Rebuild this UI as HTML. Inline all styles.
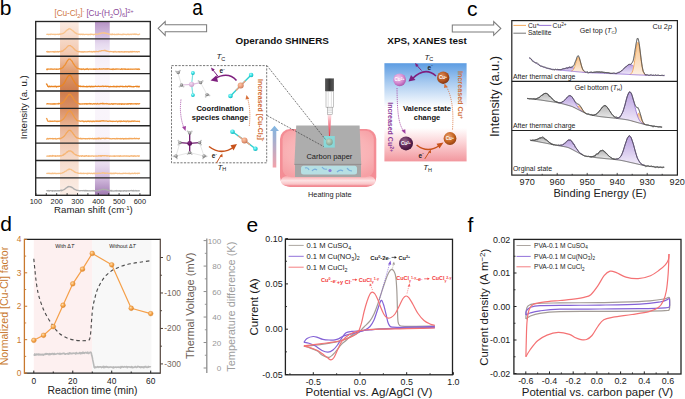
<!DOCTYPE html><html><head><meta charset="utf-8"><style>html,body{margin:0;padding:0;background:#fff;overflow:hidden}svg{display:block}text{font-family:"Liberation Sans",sans-serif}</style></head><body>
<svg width="685" height="399" viewBox="0 0 685 399">
<defs>
<linearGradient id="gOr" x1="0" y1="21.5" x2="0" y2="195.3" gradientUnits="userSpaceOnUse">
<stop offset="0" stop-color="#fbebe2"/><stop offset="0.2" stop-color="#f1c6ac"/><stop offset="0.3" stop-color="#df9767"/>
<stop offset="0.4" stop-color="#cf7c4c"/><stop offset="0.5" stop-color="#d98f64"/><stop offset="0.6" stop-color="#e9b393"/>
<stop offset="0.7" stop-color="#f1cab4"/><stop offset="0.8" stop-color="#f6dccd"/><stop offset="1" stop-color="#fbeee7"/></linearGradient>
<linearGradient id="gPu" x1="0" y1="21.5" x2="0" y2="195.3" gradientUnits="userSpaceOnUse">
<stop offset="0" stop-color="#b693c6"/><stop offset="0.1" stop-color="#dac8e5"/><stop offset="0.13" stop-color="#e6daef"/><stop offset="0.2" stop-color="#f5eef8"/>
<stop offset="0.3" stop-color="#faf6fc"/><stop offset="0.75" stop-color="#f8f3fa"/><stop offset="0.82" stop-color="#e9dcef"/>
<stop offset="0.9" stop-color="#d3bcde"/><stop offset="1" stop-color="#a07ab2"/></linearGradient>
<linearGradient id="gXps" x1="0" y1="63" x2="0" y2="161.4" gradientUnits="userSpaceOnUse">
<stop offset="0" stop-color="#5c9ce2"/><stop offset="0.2" stop-color="#a9cbf0"/><stop offset="0.45" stop-color="#ffffff"/>
<stop offset="0.66" stop-color="#ffffff"/><stop offset="0.82" stop-color="#fbd0d3"/><stop offset="1" stop-color="#f2979e"/></linearGradient>
<linearGradient id="gArr" x1="0" y1="126" x2="0" y2="168" gradientUnits="userSpaceOnUse">
<stop offset="0" stop-color="#7fb6e2"/><stop offset="1" stop-color="#f4a2aa"/></linearGradient>
<linearGradient id="gPlate" x1="0" y1="129" x2="0" y2="187" gradientUnits="userSpaceOnUse">
<stop offset="0" stop-color="#f8a0a4"/><stop offset="0.75" stop-color="#f7a7aa"/><stop offset="0.86" stop-color="#f18f94"/><stop offset="1" stop-color="#f5c9cb"/></linearGradient>
<linearGradient id="gLaser" x1="0" y1="115" x2="0" y2="137" gradientUnits="userSpaceOnUse">
<stop offset="0" stop-color="#fde0e4"/><stop offset="0.5" stop-color="#f47888"/><stop offset="1" stop-color="#e8303a"/></linearGradient>
<radialGradient id="gSpot" cx="0.4" cy="0.35" r="0.7"><stop offset="0" stop-color="#c8dcc8"/><stop offset="1" stop-color="#7e9c8c"/></radialGradient>
<linearGradient id="gProbe" x1="325" y1="0" x2="334" y2="0" gradientUnits="userSpaceOnUse">
<stop offset="0" stop-color="#6a6a6a"/><stop offset="0.5" stop-color="#383838"/><stop offset="1" stop-color="#6a6a6a"/></linearGradient>
<radialGradient id="gBall" cx="0.38" cy="0.35" r="0.7"><stop offset="0" stop-color="#ffe0b0"/><stop offset="0.5" stop-color="#f7a850"/><stop offset="1" stop-color="#d87d20"/></radialGradient>
<radialGradient id="sPink" cx="0.4" cy="0.35" r="0.7"><stop offset="0" stop-color="#f4d0f0"/><stop offset="0.6" stop-color="#d489d0"/><stop offset="1" stop-color="#a650a8"/></radialGradient>
<radialGradient id="sDark" cx="0.4" cy="0.35" r="0.7"><stop offset="0" stop-color="#9a6a8e"/><stop offset="0.6" stop-color="#5c2454"/><stop offset="1" stop-color="#3a1034"/></radialGradient>
<radialGradient id="sBrown" cx="0.4" cy="0.35" r="0.7"><stop offset="0" stop-color="#e0905a"/><stop offset="0.6" stop-color="#b0521e"/><stop offset="1" stop-color="#7a3010"/></radialGradient>
<radialGradient id="sOrange" cx="0.4" cy="0.35" r="0.7"><stop offset="0" stop-color="#eaa070"/><stop offset="0.6" stop-color="#c4621e"/><stop offset="1" stop-color="#8e3c10"/></radialGradient>
<radialGradient id="aTeal" cx="0.4" cy="0.35" r="0.7"><stop offset="0" stop-color="#a0ffff"/><stop offset="0.6" stop-color="#28d8dc"/><stop offset="1" stop-color="#10a8b0"/></radialGradient>
<radialGradient id="aCu" cx="0.4" cy="0.35" r="0.7"><stop offset="0" stop-color="#fcc8a8"/><stop offset="0.6" stop-color="#e89a78"/><stop offset="1" stop-color="#c07050"/></radialGradient>
<radialGradient id="aPinkC" cx="0.4" cy="0.35" r="0.7"><stop offset="0" stop-color="#f4dcf2"/><stop offset="1" stop-color="#c89ac8"/></radialGradient>
<radialGradient id="aDarkC" cx="0.4" cy="0.35" r="0.7"><stop offset="0" stop-color="#8a3088"/><stop offset="1" stop-color="#4a0048"/></radialGradient>
<radialGradient id="aGray" cx="0.4" cy="0.35" r="0.7"><stop offset="0" stop-color="#d0d0d0"/><stop offset="1" stop-color="#606060"/></radialGradient>
<linearGradient id="fPu" x1="0" y1="0" x2="0" y2="1"><stop offset="0" stop-color="#b9a0e0"/><stop offset="1" stop-color="#f4effb"/></linearGradient>
<linearGradient id="fOr" x1="0" y1="0" x2="0" y2="1"><stop offset="0" stop-color="#f7c48e"/><stop offset="1" stop-color="#fdf0e2"/></linearGradient>
<linearGradient id="fGr" x1="0" y1="0" x2="0" y2="1"><stop offset="0" stop-color="#b8b8b8"/><stop offset="1" stop-color="#ececec"/></linearGradient>
<linearGradient id="gEdge" x1="0" y1="176" x2="0" y2="186.2" gradientUnits="userSpaceOnUse">
<stop offset="0" stop-color="#f7a8ac"/><stop offset="0.45" stop-color="#fde2e3"/><stop offset="0.8" stop-color="#f9c3c6"/><stop offset="1" stop-color="#ee7c86"/></linearGradient>
<radialGradient id="gFace" cx="0.5" cy="0.45" r="0.65"><stop offset="0" stop-color="#fcc6c8"/><stop offset="0.7" stop-color="#f9b2b5"/><stop offset="1" stop-color="#f6a0a5"/></radialGradient>
</defs>
<rect width="685" height="399" fill="#fff"/>
<rect x="60.03" y="21.50" width="18.62" height="173.80" fill="url(#gOr)" stroke="none" stroke-width="1" />
<rect x="94.97" y="21.50" width="14.77" height="173.80" fill="url(#gPu)" stroke="none" stroke-width="1" />
<polyline points="46.30,34.33 46.61,34.47 46.92,34.34 47.24,34.32 47.55,34.21 47.86,34.34 48.17,34.58 48.48,34.46 48.80,34.57 49.11,34.42 49.42,34.45 49.73,34.41 50.04,34.08 50.36,34.53 50.67,34.47 50.98,34.47 51.29,34.08 51.60,34.07 51.92,34.22 52.23,34.30 52.54,34.43 52.85,34.37 53.16,34.47 53.48,34.26 53.79,34.44 54.10,34.45 54.41,34.26 54.72,34.69 55.04,34.48 55.35,34.59 55.66,34.27 55.97,34.24 56.28,34.31 56.60,34.35 56.91,34.48 57.22,34.41 57.53,34.28 57.84,34.19 58.16,34.26 58.47,34.56 58.78,34.18 59.09,34.36 59.40,34.37 59.72,34.00 60.03,34.25 60.34,34.44 60.65,33.79 60.96,34.04 61.28,34.02 61.59,33.81 61.90,33.95 62.21,33.75 62.52,33.37 62.84,33.64 63.15,33.46 63.46,33.33 63.77,33.22 64.08,32.81 64.40,32.54 64.71,32.03 65.02,32.11 65.33,31.61 65.64,31.35 65.96,30.91 66.27,30.67 66.58,30.46 66.89,30.51 67.20,29.64 67.52,29.49 67.83,29.57 68.14,29.59 68.45,29.26 68.76,28.69 69.08,28.49 69.39,28.95 69.70,28.75 70.01,28.72 70.32,29.17 70.64,29.31 70.95,29.30 71.26,29.50 71.57,29.75 71.88,30.21 72.20,30.29 72.51,30.56 72.82,30.85 73.13,30.76 73.44,31.57 73.76,31.80 74.07,32.00 74.38,31.82 74.69,32.32 75.00,32.82 75.32,32.57 75.63,33.06 75.94,33.46 76.25,33.21 76.56,33.88 76.88,33.82 77.19,33.80 77.50,33.99 77.81,34.13 78.12,34.10 78.44,34.34 78.75,34.07 79.06,34.15 79.37,34.45 79.68,34.29 80.00,34.15 80.31,34.49 80.62,34.60 80.93,34.27 81.24,34.11 81.56,34.34 81.87,34.34 82.18,34.32 82.49,34.63 82.80,34.19 83.12,34.60 83.43,34.15 83.74,34.24 84.05,34.49 84.36,34.58 84.68,34.53 84.99,34.44 85.30,34.41 85.61,34.41 85.92,34.48 86.24,34.35 86.55,34.43 86.86,34.48 87.17,34.38 87.48,34.52 87.80,34.48 88.11,34.74 88.42,34.44 88.73,34.30 89.04,34.31 89.36,34.38 89.67,34.55 89.98,34.32 90.29,34.45 90.60,34.71 90.92,33.92 91.23,34.18 91.54,34.42 91.85,34.45 92.16,34.42 92.48,34.30 92.79,34.50 93.10,34.43 93.41,34.28 93.72,34.81 94.04,34.44 94.35,34.27 94.66,34.35 94.97,34.32 95.28,34.34 95.60,33.85 95.91,34.24 96.22,34.49 96.53,34.08 96.84,34.25 97.16,34.40 97.47,34.35 97.78,34.42 98.09,33.79 98.40,33.97 98.72,33.90 99.03,34.00 99.34,34.00 99.65,33.23 99.96,33.81 100.28,33.25 100.59,33.53 100.90,33.04 101.21,33.24 101.52,33.32 101.84,32.99 102.15,32.98 102.46,33.02 102.77,32.85 103.08,32.78 103.40,33.06 103.71,32.97 104.02,32.75 104.33,33.34 104.64,32.69 104.96,33.13 105.27,33.00 105.58,33.16 105.89,33.37 106.20,33.38 106.52,33.56 106.83,33.27 107.14,33.38 107.45,33.85 107.76,33.66 108.08,33.73 108.39,33.72 108.70,34.28 109.01,34.25 109.32,34.43 109.64,34.04 109.95,34.24 110.26,34.07 110.57,34.43 110.88,34.60 111.20,34.17 111.51,34.62 111.82,34.53 112.13,34.33 112.44,34.01 112.76,34.62 113.07,34.36 113.38,34.27 113.69,34.45 114.00,34.45 114.32,34.65 114.63,34.20 114.94,34.58 115.25,34.65 115.56,34.64 115.88,34.35 116.19,34.25 116.50,34.56 116.81,34.40 117.12,34.40 117.44,34.64 117.75,34.33 118.06,33.97 118.37,34.31 118.68,34.05 119.00,34.53 119.31,34.44 119.62,34.27 119.93,34.38 120.24,34.53 120.56,34.39 120.87,34.62 121.18,34.37 121.49,34.57 121.80,34.65 122.12,34.67 122.43,34.26 122.74,34.54 123.05,34.04 123.36,34.18 123.68,34.03 123.99,34.57 124.30,34.16 124.61,34.38 124.92,34.35 125.24,34.37 125.55,34.27 125.86,34.42 126.17,34.70 126.48,34.39 126.80,34.48 127.11,34.56 127.42,34.34 127.73,34.15 128.04,34.28 128.36,34.57 128.67,34.08 128.98,34.27 129.29,34.56 129.60,34.52 129.92,34.38 130.23,34.52 130.54,34.41 130.85,34.17 131.16,34.10 131.48,34.26 131.79,34.55 132.10,34.28 132.41,34.22 132.72,34.24 133.04,34.10 133.35,34.36 133.66,34.17 133.97,34.45 134.28,33.96 134.60,34.44 134.91,34.26 135.22,34.03 135.53,34.51 135.84,34.33 136.16,33.98 136.47,34.22 136.78,34.43 137.09,34.30 137.40,34.52 137.72,34.51 138.03,34.50 138.34,34.44 138.65,34.62 138.96,34.50 139.28,34.46 139.59,34.00 139.90,34.54" fill="none" stroke="#f8c48e" stroke-width="1.25" stroke-linejoin="round" />
<polyline points="46.30,52.00 46.61,51.71 46.92,51.68 47.24,52.11 47.55,51.44 47.86,51.84 48.17,52.20 48.48,51.59 48.80,51.88 49.11,52.10 49.42,51.74 49.73,51.86 50.04,51.92 50.36,51.60 50.67,51.74 50.98,51.81 51.29,51.91 51.60,51.75 51.92,51.72 52.23,51.58 52.54,51.70 52.85,51.92 53.16,51.78 53.48,51.61 53.79,51.61 54.10,52.24 54.41,51.96 54.72,51.87 55.04,51.29 55.35,51.87 55.66,51.84 55.97,52.06 56.28,51.83 56.60,51.74 56.91,51.84 57.22,51.40 57.53,51.93 57.84,51.79 58.16,51.60 58.47,51.95 58.78,52.03 59.09,51.43 59.40,51.54 59.72,51.69 60.03,51.63 60.34,51.49 60.65,51.33 60.96,51.83 61.28,51.56 61.59,51.07 61.90,50.94 62.21,51.37 62.52,51.10 62.84,51.09 63.15,50.73 63.46,50.23 63.77,50.21 64.08,49.53 64.40,49.52 64.71,49.36 65.02,49.17 65.33,48.63 65.64,48.42 65.96,48.19 66.27,47.85 66.58,47.57 66.89,47.17 67.20,46.77 67.52,46.69 67.83,46.30 68.14,45.92 68.45,45.76 68.76,45.73 69.08,45.61 69.39,45.60 69.70,45.56 70.01,45.63 70.32,45.67 70.64,45.60 70.95,46.07 71.26,46.40 71.57,46.53 71.88,46.70 72.20,47.11 72.51,47.17 72.82,47.33 73.13,48.01 73.44,48.16 73.76,48.79 74.07,48.78 74.38,48.80 74.69,49.38 75.00,50.12 75.32,50.02 75.63,50.07 75.94,50.38 76.25,50.80 76.56,50.96 76.88,51.05 77.19,51.41 77.50,51.38 77.81,51.34 78.12,51.53 78.44,51.79 78.75,51.72 79.06,51.77 79.37,51.43 79.68,51.63 80.00,51.81 80.31,51.64 80.62,51.90 80.93,51.83 81.24,51.90 81.56,51.70 81.87,52.20 82.18,51.97 82.49,51.71 82.80,51.77 83.12,52.22 83.43,51.70 83.74,51.92 84.05,51.94 84.36,51.76 84.68,51.55 84.99,51.79 85.30,51.82 85.61,51.96 85.92,51.90 86.24,51.76 86.55,51.91 86.86,51.86 87.17,51.80 87.48,51.77 87.80,51.72 88.11,51.88 88.42,51.57 88.73,51.65 89.04,51.76 89.36,51.50 89.67,51.68 89.98,51.40 90.29,51.64 90.60,51.86 90.92,51.86 91.23,51.75 91.54,51.72 91.85,51.50 92.16,52.09 92.48,51.85 92.79,51.96 93.10,51.60 93.41,51.72 93.72,51.43 94.04,51.89 94.35,51.92 94.66,51.41 94.97,51.73 95.28,51.85 95.60,51.41 95.91,51.39 96.22,51.52 96.53,51.58 96.84,51.42 97.16,51.65 97.47,51.66 97.78,51.70 98.09,51.67 98.40,51.77 98.72,51.66 99.03,51.15 99.34,51.24 99.65,51.07 99.96,50.99 100.28,51.10 100.59,51.03 100.90,51.04 101.21,50.59 101.52,50.58 101.84,50.74 102.15,50.65 102.46,50.58 102.77,50.59 103.08,50.44 103.40,50.69 103.71,50.63 104.02,50.56 104.33,50.49 104.64,50.62 104.96,50.21 105.27,50.59 105.58,50.84 105.89,50.63 106.20,51.02 106.52,51.08 106.83,50.89 107.14,51.17 107.45,51.23 107.76,51.43 108.08,51.52 108.39,51.46 108.70,51.36 109.01,51.53 109.32,51.59 109.64,51.76 109.95,51.71 110.26,51.55 110.57,51.45 110.88,51.64 111.20,51.59 111.51,51.53 111.82,51.72 112.13,51.66 112.44,51.77 112.76,51.85 113.07,51.68 113.38,52.17 113.69,51.70 114.00,51.96 114.32,51.78 114.63,51.96 114.94,51.33 115.25,51.62 115.56,51.80 115.88,51.87 116.19,52.18 116.50,51.82 116.81,51.99 117.12,51.90 117.44,51.93 117.75,51.85 118.06,51.73 118.37,51.85 118.68,51.57 119.00,51.97 119.31,51.58 119.62,51.80 119.93,52.14 120.24,51.72 120.56,51.76 120.87,51.97 121.18,51.76 121.49,51.61 121.80,51.81 122.12,51.86 122.43,51.89 122.74,51.62 123.05,52.08 123.36,52.06 123.68,51.76 123.99,51.81 124.30,51.68 124.61,52.01 124.92,51.63 125.24,51.88 125.55,51.67 125.86,51.64 126.17,51.89 126.48,52.00 126.80,51.76 127.11,51.64 127.42,51.91 127.73,51.75 128.04,51.82 128.36,52.03 128.67,51.96 128.98,51.67 129.29,52.17 129.60,51.76 129.92,51.90 130.23,51.64 130.54,51.75 130.85,51.45 131.16,52.08 131.48,52.01 131.79,51.54 132.10,51.49 132.41,51.47 132.72,51.97 133.04,51.68 133.35,51.75 133.66,51.70 133.97,51.74 134.28,51.56 134.60,51.76 134.91,51.50 135.22,51.75 135.53,51.82 135.84,51.84 136.16,51.72 136.47,51.60 136.78,51.79 137.09,51.67 137.40,52.04 137.72,51.90 138.03,51.74 138.34,51.68 138.65,51.63 138.96,51.59 139.28,51.70 139.59,51.81 139.90,51.85" fill="none" stroke="#f6b474" stroke-width="1.25" stroke-linejoin="round" />
<polyline points="46.30,69.24 46.61,69.52 46.92,69.01 47.24,69.14 47.55,69.64 47.86,68.80 48.17,69.05 48.48,69.17 48.80,69.17 49.11,69.21 49.42,69.10 49.73,69.21 50.04,69.15 50.36,69.28 50.67,68.80 50.98,68.98 51.29,69.14 51.60,68.95 51.92,68.95 52.23,69.25 52.54,69.02 52.85,69.25 53.16,69.27 53.48,69.19 53.79,69.23 54.10,69.12 54.41,68.89 54.72,69.13 55.04,69.22 55.35,69.04 55.66,69.12 55.97,69.27 56.28,68.97 56.60,69.24 56.91,69.46 57.22,69.02 57.53,69.14 57.84,69.07 58.16,69.36 58.47,69.13 58.78,69.21 59.09,68.89 59.40,68.98 59.72,68.94 60.03,68.56 60.34,69.07 60.65,68.89 60.96,68.32 61.28,68.65 61.59,68.35 61.90,68.28 62.21,68.08 62.52,67.52 62.84,67.49 63.15,67.51 63.46,66.82 63.77,66.38 64.08,65.93 64.40,65.53 64.71,65.35 65.02,65.12 65.33,64.38 65.64,63.83 65.96,63.66 66.27,62.62 66.58,62.07 66.89,61.77 67.20,61.28 67.52,60.55 67.83,60.10 68.14,60.01 68.45,59.69 68.76,59.18 69.08,59.21 69.39,59.06 69.70,59.23 70.01,59.19 70.32,59.33 70.64,59.50 70.95,60.03 71.26,60.44 71.57,60.52 71.88,61.18 72.20,61.37 72.51,62.03 72.82,62.68 73.13,63.35 73.44,63.54 73.76,64.12 74.07,64.68 74.38,64.87 74.69,65.60 75.00,65.91 75.32,66.50 75.63,66.60 75.94,66.78 76.25,67.45 76.56,67.75 76.88,67.84 77.19,68.30 77.50,68.27 77.81,68.36 78.12,68.68 78.44,68.42 78.75,68.67 79.06,68.86 79.37,69.07 79.68,68.94 80.00,69.06 80.31,68.92 80.62,69.12 80.93,69.38 81.24,68.97 81.56,69.53 81.87,69.00 82.18,69.13 82.49,69.16 82.80,69.32 83.12,68.91 83.43,68.76 83.74,69.25 84.05,69.28 84.36,69.25 84.68,69.61 84.99,69.18 85.30,69.19 85.61,69.31 85.92,69.21 86.24,69.44 86.55,68.92 86.86,69.07 87.17,68.52 87.48,69.29 87.80,69.07 88.11,69.31 88.42,69.53 88.73,69.14 89.04,69.09 89.36,69.05 89.67,68.99 89.98,69.03 90.29,69.26 90.60,69.15 90.92,69.15 91.23,69.11 91.54,69.30 91.85,69.23 92.16,69.11 92.48,69.26 92.79,69.11 93.10,68.93 93.41,69.40 93.72,69.22 94.04,68.97 94.35,69.33 94.66,69.20 94.97,68.85 95.28,69.42 95.60,69.19 95.91,69.29 96.22,69.16 96.53,69.10 96.84,68.84 97.16,69.29 97.47,69.11 97.78,69.04 98.09,69.15 98.40,69.09 98.72,69.18 99.03,68.98 99.34,69.03 99.65,68.63 99.96,68.92 100.28,69.10 100.59,69.20 100.90,68.87 101.21,68.90 101.52,69.19 101.84,68.83 102.15,69.00 102.46,69.16 102.77,68.86 103.08,69.06 103.40,68.71 103.71,68.88 104.02,68.83 104.33,68.87 104.64,69.07 104.96,69.31 105.27,68.77 105.58,68.80 105.89,69.02 106.20,68.76 106.52,69.05 106.83,69.09 107.14,68.95 107.45,69.12 107.76,68.76 108.08,69.19 108.39,68.79 108.70,68.95 109.01,68.99 109.32,69.03 109.64,69.26 109.95,69.13 110.26,69.05 110.57,69.22 110.88,69.41 111.20,69.13 111.51,69.20 111.82,69.36 112.13,69.18 112.44,68.91 112.76,69.59 113.07,69.54 113.38,68.78 113.69,69.13 114.00,69.21 114.32,69.31 114.63,69.26 114.94,69.09 115.25,68.95 115.56,69.16 115.88,69.33 116.19,68.94 116.50,68.96 116.81,69.14 117.12,68.79 117.44,69.09 117.75,69.06 118.06,69.22 118.37,69.01 118.68,68.98 119.00,69.07 119.31,69.13 119.62,69.02 119.93,69.14 120.24,69.28 120.56,69.35 120.87,69.45 121.18,69.00 121.49,69.06 121.80,68.69 122.12,69.48 122.43,69.01 122.74,69.13 123.05,69.23 123.36,68.90 123.68,69.22 123.99,69.14 124.30,68.81 124.61,69.19 124.92,69.36 125.24,68.80 125.55,69.29 125.86,69.18 126.17,69.23 126.48,69.22 126.80,69.37 127.11,69.10 127.42,69.30 127.73,69.07 128.04,69.27 128.36,68.99 128.67,69.12 128.98,69.45 129.29,69.22 129.60,69.11 129.92,68.93 130.23,69.00 130.54,69.17 130.85,69.31 131.16,69.22 131.48,69.23 131.79,69.13 132.10,69.38 132.41,69.07 132.72,69.04 133.04,69.30 133.35,69.15 133.66,69.09 133.97,69.04 134.28,69.09 134.60,69.25 134.91,69.20 135.22,68.92 135.53,69.22 135.84,69.17 136.16,68.96 136.47,69.28 136.78,69.09 137.09,69.08 137.40,69.28 137.72,69.38 138.03,69.02 138.34,69.22 138.65,68.98 138.96,69.56 139.28,69.05 139.59,69.36 139.90,69.02" fill="none" stroke="#ee9236" stroke-width="1.25" stroke-linejoin="round" />
<polyline points="46.30,83.47 46.61,84.32 46.92,84.06 47.24,85.04 47.55,85.81 47.86,86.30 48.17,86.40 48.48,86.91 48.80,86.53 49.11,86.22 49.42,86.67 49.73,86.21 50.04,86.73 50.36,86.42 50.67,86.55 50.98,86.75 51.29,86.54 51.60,86.27 51.92,86.21 52.23,86.73 52.54,86.65 52.85,86.37 53.16,86.67 53.48,86.61 53.79,86.64 54.10,86.11 54.41,86.46 54.72,86.68 55.04,86.65 55.35,86.68 55.66,86.07 55.97,86.54 56.28,86.60 56.60,86.97 56.91,86.33 57.22,86.44 57.53,86.49 57.84,86.63 58.16,86.38 58.47,86.65 58.78,86.27 59.09,86.43 59.40,86.25 59.72,86.32 60.03,86.11 60.34,85.87 60.65,86.26 60.96,86.01 61.28,85.72 61.59,85.69 61.90,85.65 62.21,85.08 62.52,84.98 62.84,84.82 63.15,84.49 63.46,83.97 63.77,83.26 64.08,83.42 64.40,82.78 64.71,82.21 65.02,81.62 65.33,81.15 65.64,80.45 65.96,79.74 66.27,79.19 66.58,78.63 66.89,78.05 67.20,77.40 67.52,77.21 67.83,76.40 68.14,76.35 68.45,75.71 68.76,75.69 69.08,75.69 69.39,75.38 69.70,75.19 70.01,75.41 70.32,75.58 70.64,75.48 70.95,76.00 71.26,76.52 71.57,76.85 71.88,77.45 72.20,78.11 72.51,78.68 72.82,79.29 73.13,79.83 73.44,80.27 73.76,80.91 74.07,81.44 74.38,81.98 74.69,82.52 75.00,82.73 75.32,83.43 75.63,83.90 75.94,84.10 76.25,84.61 76.56,85.01 76.88,85.15 77.19,85.78 77.50,85.13 77.81,85.73 78.12,85.58 78.44,86.20 78.75,86.60 79.06,85.76 79.37,86.30 79.68,86.42 80.00,86.32 80.31,86.51 80.62,86.03 80.93,86.61 81.24,86.54 81.56,86.49 81.87,86.39 82.18,86.62 82.49,86.42 82.80,86.55 83.12,86.42 83.43,86.11 83.74,86.51 84.05,86.55 84.36,86.65 84.68,86.36 84.99,86.51 85.30,86.63 85.61,86.55 85.92,86.74 86.24,86.88 86.55,86.36 86.86,86.17 87.17,86.67 87.48,86.80 87.80,86.69 88.11,86.67 88.42,86.41 88.73,86.39 89.04,86.68 89.36,86.36 89.67,86.19 89.98,86.34 90.29,86.97 90.60,86.87 90.92,86.40 91.23,86.39 91.54,86.56 91.85,86.39 92.16,86.76 92.48,86.51 92.79,86.32 93.10,86.76 93.41,86.41 93.72,86.56 94.04,86.52 94.35,86.46 94.66,86.58 94.97,86.39 95.28,86.18 95.60,86.12 95.91,86.28 96.22,86.37 96.53,86.50 96.84,86.51 97.16,86.59 97.47,86.51 97.78,86.33 98.09,86.34 98.40,86.07 98.72,86.41 99.03,86.52 99.34,86.51 99.65,86.37 99.96,86.35 100.28,86.53 100.59,86.34 100.90,86.45 101.21,86.40 101.52,86.32 101.84,86.50 102.15,86.15 102.46,86.17 102.77,86.08 103.08,86.08 103.40,86.50 103.71,86.54 104.02,86.23 104.33,86.33 104.64,86.45 104.96,86.40 105.27,86.49 105.58,86.06 105.89,86.19 106.20,86.41 106.52,86.60 106.83,86.38 107.14,86.23 107.45,86.34 107.76,86.30 108.08,86.28 108.39,86.72 108.70,86.35 109.01,86.47 109.32,86.87 109.64,86.70 109.95,86.55 110.26,86.39 110.57,86.58 110.88,86.80 111.20,86.62 111.51,86.74 111.82,86.53 112.13,86.61 112.44,86.48 112.76,86.59 113.07,86.75 113.38,86.26 113.69,86.51 114.00,86.56 114.32,86.42 114.63,86.46 114.94,86.66 115.25,86.88 115.56,86.63 115.88,86.58 116.19,86.24 116.50,86.87 116.81,86.53 117.12,86.51 117.44,86.32 117.75,86.51 118.06,86.32 118.37,86.53 118.68,86.60 119.00,86.53 119.31,86.57 119.62,86.37 119.93,86.78 120.24,86.40 120.56,86.19 120.87,86.49 121.18,86.38 121.49,86.34 121.80,86.46 122.12,86.57 122.43,86.31 122.74,86.50 123.05,86.78 123.36,86.64 123.68,86.49 123.99,86.54 124.30,86.50 124.61,86.51 124.92,86.65 125.24,86.50 125.55,86.09 125.86,86.52 126.17,86.36 126.48,86.64 126.80,86.41 127.11,86.55 127.42,86.91 127.73,86.33 128.04,86.32 128.36,86.27 128.67,86.09 128.98,86.18 129.29,86.59 129.60,86.41 129.92,86.18 130.23,86.25 130.54,86.63 130.85,86.38 131.16,86.45 131.48,86.58 131.79,86.76 132.10,86.87 132.41,86.71 132.72,86.55 133.04,86.55 133.35,86.84 133.66,86.78 133.97,86.46 134.28,86.60 134.60,86.57 134.91,86.53 135.22,86.43 135.53,86.28 135.84,86.42 136.16,86.24 136.47,86.74 136.78,86.62 137.09,86.30 137.40,86.77 137.72,86.68 138.03,86.18 138.34,86.85 138.65,86.67 138.96,86.89 139.28,86.30 139.59,86.62 139.90,86.60" fill="none" stroke="#e98524" stroke-width="1.25" stroke-linejoin="round" />
<polyline points="46.30,103.94 46.61,103.93 46.92,104.09 47.24,103.63 47.55,103.68 47.86,103.65 48.17,103.80 48.48,103.79 48.80,103.97 49.11,103.95 49.42,103.91 49.73,103.78 50.04,103.82 50.36,104.07 50.67,104.04 50.98,103.92 51.29,103.84 51.60,104.18 51.92,103.79 52.23,104.02 52.54,104.11 52.85,103.85 53.16,104.05 53.48,103.70 53.79,104.08 54.10,103.94 54.41,103.61 54.72,104.02 55.04,103.74 55.35,104.13 55.66,103.77 55.97,103.86 56.28,103.94 56.60,103.83 56.91,103.93 57.22,103.78 57.53,103.99 57.84,103.86 58.16,103.89 58.47,103.34 58.78,104.02 59.09,103.79 59.40,103.43 59.72,103.73 60.03,103.74 60.34,103.78 60.65,103.32 60.96,103.70 61.28,103.27 61.59,103.60 61.90,102.98 62.21,102.95 62.52,102.55 62.84,102.17 63.15,102.30 63.46,101.96 63.77,101.73 64.08,101.24 64.40,100.57 64.71,99.95 65.02,99.67 65.33,99.19 65.64,98.67 65.96,98.41 66.27,97.86 66.58,97.25 66.89,96.84 67.20,96.32 67.52,95.95 67.83,95.65 68.14,95.34 68.45,94.76 68.76,94.39 69.08,94.76 69.39,94.44 69.70,94.60 70.01,94.17 70.32,94.54 70.64,94.81 70.95,94.81 71.26,95.30 71.57,95.90 71.88,96.39 72.20,96.94 72.51,96.98 72.82,97.38 73.13,98.23 73.44,98.81 73.76,99.18 74.07,99.40 74.38,100.24 74.69,100.68 75.00,101.05 75.32,101.24 75.63,101.74 75.94,102.14 76.25,102.18 76.56,102.21 76.88,102.82 77.19,103.04 77.50,103.12 77.81,103.42 78.12,103.28 78.44,103.47 78.75,103.51 79.06,103.74 79.37,103.98 79.68,103.69 80.00,104.14 80.31,104.08 80.62,103.97 80.93,103.95 81.24,104.18 81.56,103.84 81.87,103.86 82.18,103.69 82.49,103.97 82.80,104.13 83.12,103.99 83.43,103.97 83.74,103.86 84.05,103.93 84.36,103.64 84.68,104.09 84.99,103.83 85.30,103.70 85.61,103.76 85.92,103.75 86.24,104.05 86.55,104.09 86.86,103.66 87.17,104.07 87.48,104.06 87.80,103.80 88.11,103.63 88.42,103.77 88.73,103.79 89.04,103.96 89.36,103.84 89.67,103.53 89.98,103.94 90.29,103.62 90.60,104.06 90.92,103.68 91.23,103.78 91.54,103.75 91.85,103.80 92.16,104.13 92.48,104.05 92.79,104.01 93.10,103.96 93.41,103.62 93.72,103.81 94.04,103.80 94.35,103.72 94.66,103.99 94.97,103.76 95.28,103.77 95.60,103.70 95.91,103.52 96.22,103.99 96.53,104.12 96.84,103.91 97.16,103.70 97.47,103.38 97.78,103.89 98.09,104.07 98.40,103.89 98.72,103.99 99.03,104.07 99.34,103.99 99.65,103.70 99.96,103.95 100.28,103.88 100.59,103.44 100.90,103.63 101.21,103.42 101.52,103.64 101.84,103.75 102.15,103.44 102.46,103.25 102.77,103.84 103.08,103.67 103.40,103.86 103.71,103.36 104.02,103.80 104.33,103.99 104.64,103.98 104.96,103.60 105.27,103.70 105.58,103.64 105.89,103.87 106.20,103.89 106.52,103.74 106.83,103.50 107.14,103.90 107.45,103.70 107.76,103.91 108.08,103.86 108.39,104.12 108.70,104.04 109.01,103.77 109.32,103.92 109.64,104.18 109.95,103.78 110.26,103.96 110.57,104.10 110.88,104.11 111.20,103.98 111.51,103.66 111.82,103.67 112.13,103.94 112.44,103.97 112.76,104.36 113.07,103.74 113.38,104.10 113.69,104.04 114.00,103.60 114.32,103.75 114.63,103.93 114.94,103.81 115.25,103.87 115.56,103.98 115.88,103.75 116.19,103.98 116.50,103.79 116.81,103.80 117.12,104.00 117.44,103.80 117.75,103.95 118.06,104.19 118.37,103.90 118.68,103.87 119.00,104.03 119.31,103.83 119.62,104.09 119.93,103.67 120.24,104.01 120.56,103.81 120.87,103.76 121.18,104.22 121.49,103.75 121.80,104.22 122.12,104.02 122.43,104.16 122.74,103.72 123.05,104.12 123.36,104.16 123.68,103.88 123.99,103.88 124.30,104.34 124.61,103.93 124.92,103.82 125.24,103.79 125.55,103.98 125.86,103.96 126.17,103.93 126.48,104.21 126.80,103.84 127.11,103.99 127.42,104.16 127.73,103.72 128.04,104.09 128.36,104.23 128.67,103.66 128.98,103.70 129.29,103.71 129.60,103.57 129.92,103.98 130.23,103.57 130.54,103.99 130.85,104.16 131.16,103.61 131.48,103.84 131.79,103.55 132.10,104.04 132.41,103.77 132.72,103.85 133.04,103.91 133.35,104.00 133.66,103.84 133.97,103.90 134.28,103.80 134.60,103.92 134.91,103.69 135.22,103.91 135.53,103.55 135.84,103.81 136.16,104.24 136.47,103.91 136.78,103.67 137.09,103.95 137.40,103.72 137.72,103.60 138.03,103.77 138.34,104.03 138.65,103.97 138.96,103.88 139.28,103.73 139.59,103.71 139.90,104.14" fill="none" stroke="#ee9034" stroke-width="1.25" stroke-linejoin="round" />
<polyline points="46.30,118.12 46.61,118.51 46.92,118.90 47.24,119.63 47.55,120.93 47.86,120.87 48.17,121.27 48.48,121.32 48.80,121.25 49.11,121.23 49.42,121.03 49.73,121.09 50.04,121.58 50.36,121.14 50.67,121.43 50.98,120.98 51.29,121.23 51.60,121.33 51.92,121.47 52.23,121.08 52.54,121.39 52.85,121.35 53.16,121.15 53.48,121.37 53.79,121.12 54.10,121.14 54.41,121.28 54.72,120.79 55.04,121.26 55.35,121.10 55.66,121.01 55.97,121.20 56.28,121.41 56.60,121.20 56.91,121.49 57.22,121.05 57.53,121.01 57.84,121.52 58.16,121.30 58.47,121.38 58.78,121.04 59.09,121.30 59.40,121.17 59.72,121.19 60.03,121.02 60.34,121.16 60.65,120.74 60.96,120.58 61.28,120.37 61.59,120.70 61.90,120.18 62.21,119.93 62.52,119.72 62.84,119.54 63.15,119.10 63.46,118.94 63.77,118.51 64.08,118.12 64.40,117.61 64.71,117.32 65.02,116.74 65.33,116.32 65.64,115.81 65.96,115.28 66.27,114.27 66.58,114.02 66.89,113.45 67.20,113.23 67.52,112.33 67.83,112.06 68.14,111.76 68.45,111.44 68.76,111.44 69.08,111.01 69.39,111.17 69.70,110.72 70.01,110.72 70.32,111.42 70.64,111.49 70.95,111.79 71.26,112.08 71.57,112.56 71.88,112.71 72.20,113.59 72.51,113.85 72.82,114.66 73.13,115.05 73.44,115.23 73.76,115.89 74.07,116.85 74.38,117.13 74.69,117.56 75.00,118.13 75.32,118.42 75.63,118.78 75.94,119.24 76.25,119.55 76.56,120.08 76.88,120.05 77.19,120.59 77.50,120.76 77.81,120.90 78.12,120.91 78.44,120.85 78.75,120.94 79.06,120.97 79.37,120.92 79.68,121.09 80.00,121.03 80.31,121.47 80.62,121.30 80.93,121.14 81.24,120.89 81.56,121.24 81.87,121.18 82.18,121.07 82.49,121.06 82.80,120.87 83.12,121.38 83.43,121.26 83.74,121.74 84.05,121.27 84.36,121.25 84.68,121.54 84.99,121.30 85.30,121.31 85.61,121.21 85.92,121.17 86.24,121.55 86.55,121.46 86.86,121.59 87.17,121.22 87.48,121.29 87.80,121.12 88.11,121.45 88.42,121.03 88.73,121.38 89.04,121.48 89.36,121.53 89.67,121.11 89.98,121.48 90.29,121.15 90.60,121.14 90.92,121.04 91.23,121.49 91.54,121.58 91.85,121.17 92.16,121.14 92.48,121.22 92.79,121.73 93.10,121.46 93.41,121.18 93.72,120.96 94.04,121.16 94.35,121.49 94.66,121.61 94.97,121.23 95.28,121.15 95.60,121.18 95.91,120.93 96.22,121.43 96.53,121.07 96.84,121.45 97.16,120.94 97.47,121.02 97.78,121.29 98.09,121.09 98.40,121.36 98.72,121.20 99.03,120.98 99.34,121.28 99.65,121.31 99.96,120.79 100.28,121.45 100.59,121.19 100.90,121.22 101.21,120.72 101.52,120.91 101.84,120.96 102.15,121.20 102.46,120.74 102.77,120.83 103.08,120.62 103.40,120.94 103.71,121.04 104.02,120.68 104.33,120.89 104.64,121.09 104.96,121.30 105.27,121.15 105.58,120.99 105.89,120.85 106.20,120.92 106.52,120.98 106.83,121.15 107.14,121.13 107.45,121.46 107.76,121.23 108.08,121.00 108.39,121.48 108.70,121.39 109.01,121.25 109.32,121.11 109.64,120.91 109.95,121.07 110.26,121.42 110.57,121.12 110.88,121.03 111.20,121.31 111.51,121.32 111.82,121.38 112.13,121.39 112.44,121.53 112.76,121.13 113.07,121.45 113.38,121.10 113.69,121.40 114.00,121.31 114.32,121.32 114.63,121.45 114.94,121.28 115.25,121.48 115.56,121.44 115.88,121.30 116.19,121.18 116.50,121.14 116.81,121.19 117.12,121.24 117.44,121.28 117.75,121.82 118.06,121.39 118.37,121.42 118.68,121.13 119.00,121.15 119.31,121.22 119.62,121.31 119.93,121.09 120.24,121.57 120.56,121.18 120.87,121.47 121.18,120.86 121.49,121.28 121.80,121.33 122.12,121.31 122.43,121.39 122.74,121.33 123.05,121.31 123.36,120.94 123.68,121.15 123.99,120.86 124.30,121.39 124.61,121.34 124.92,121.24 125.24,121.13 125.55,121.18 125.86,121.61 126.17,121.59 126.48,121.27 126.80,121.51 127.11,120.99 127.42,120.93 127.73,121.19 128.04,121.12 128.36,121.18 128.67,121.31 128.98,121.82 129.29,121.16 129.60,121.29 129.92,121.33 130.23,121.27 130.54,121.45 130.85,121.60 131.16,121.06 131.48,121.31 131.79,121.23 132.10,121.34 132.41,121.00 132.72,120.96 133.04,120.86 133.35,121.37 133.66,121.31 133.97,121.29 134.28,120.85 134.60,121.21 134.91,121.14 135.22,121.03 135.53,121.12 135.84,121.41 136.16,121.38 136.47,121.28 136.78,121.37 137.09,121.17 137.40,121.29 137.72,121.29 138.03,121.38 138.34,121.27 138.65,121.25 138.96,121.26 139.28,121.16 139.59,121.68 139.90,121.37" fill="none" stroke="#f09a44" stroke-width="1.25" stroke-linejoin="round" />
<polyline points="46.30,138.74 46.61,139.07 46.92,138.91 47.24,138.38 47.55,138.79 47.86,138.81 48.17,139.00 48.48,138.90 48.80,138.80 49.11,138.45 49.42,138.50 49.73,138.71 50.04,138.75 50.36,138.48 50.67,138.59 50.98,138.59 51.29,138.67 51.60,138.72 51.92,138.61 52.23,138.44 52.54,138.88 52.85,138.95 53.16,138.64 53.48,138.84 53.79,138.74 54.10,138.78 54.41,138.75 54.72,138.52 55.04,138.76 55.35,138.84 55.66,138.50 55.97,139.01 56.28,139.03 56.60,138.98 56.91,139.00 57.22,138.78 57.53,138.57 57.84,138.52 58.16,138.47 58.47,138.62 58.78,138.58 59.09,138.68 59.40,138.17 59.72,138.91 60.03,138.86 60.34,138.39 60.65,138.44 60.96,138.32 61.28,138.19 61.59,137.98 61.90,137.86 62.21,137.57 62.52,137.57 62.84,137.32 63.15,137.14 63.46,136.66 63.77,136.53 64.08,136.21 64.40,135.95 64.71,135.28 65.02,135.14 65.33,134.83 65.64,134.32 65.96,133.71 66.27,133.24 66.58,132.85 66.89,132.60 67.20,132.34 67.52,131.65 67.83,131.22 68.14,131.10 68.45,130.82 68.76,130.42 69.08,130.32 69.39,130.36 69.70,130.48 70.01,130.20 70.32,130.35 70.64,130.80 70.95,130.72 71.26,131.25 71.57,131.62 71.88,131.91 72.20,132.14 72.51,132.74 72.82,133.12 73.13,133.69 73.44,133.92 73.76,134.70 74.07,134.63 74.38,135.30 74.69,135.72 75.00,136.26 75.32,136.31 75.63,136.82 75.94,136.90 76.25,137.38 76.56,137.78 76.88,137.59 77.19,137.91 77.50,137.81 77.81,138.28 78.12,138.43 78.44,138.30 78.75,138.16 79.06,138.50 79.37,138.69 79.68,138.71 80.00,138.70 80.31,138.25 80.62,138.47 80.93,138.87 81.24,138.40 81.56,138.84 81.87,138.98 82.18,138.78 82.49,138.85 82.80,138.59 83.12,138.43 83.43,138.64 83.74,138.62 84.05,138.65 84.36,138.78 84.68,138.63 84.99,138.69 85.30,138.74 85.61,138.66 85.92,138.99 86.24,138.74 86.55,138.68 86.86,138.62 87.17,138.55 87.48,138.90 87.80,138.69 88.11,138.47 88.42,138.56 88.73,138.64 89.04,138.58 89.36,138.86 89.67,138.45 89.98,138.75 90.29,138.69 90.60,138.45 90.92,138.67 91.23,138.64 91.54,138.75 91.85,138.58 92.16,138.71 92.48,138.36 92.79,138.46 93.10,138.80 93.41,138.85 93.72,138.66 94.04,138.55 94.35,138.85 94.66,138.28 94.97,138.51 95.28,138.78 95.60,138.77 95.91,138.46 96.22,138.31 96.53,138.90 96.84,138.67 97.16,138.47 97.47,138.63 97.78,138.78 98.09,138.14 98.40,138.79 98.72,138.72 99.03,138.19 99.34,138.69 99.65,138.21 99.96,138.72 100.28,138.57 100.59,138.88 100.90,138.35 101.21,138.44 101.52,138.61 101.84,138.29 102.15,138.26 102.46,138.31 102.77,138.36 103.08,138.17 103.40,138.45 103.71,138.46 104.02,138.38 104.33,138.68 104.64,138.32 104.96,138.63 105.27,138.31 105.58,138.56 105.89,138.10 106.20,138.50 106.52,138.45 106.83,138.41 107.14,138.41 107.45,138.48 107.76,138.43 108.08,138.18 108.39,138.48 108.70,138.50 109.01,138.52 109.32,138.43 109.64,138.60 109.95,138.78 110.26,138.59 110.57,138.56 110.88,138.89 111.20,138.83 111.51,138.82 111.82,138.86 112.13,138.60 112.44,138.63 112.76,138.86 113.07,138.56 113.38,138.64 113.69,138.73 114.00,138.73 114.32,138.61 114.63,138.84 114.94,138.63 115.25,138.79 115.56,138.85 115.88,138.78 116.19,138.79 116.50,138.45 116.81,138.42 117.12,138.55 117.44,138.75 117.75,138.93 118.06,138.44 118.37,138.72 118.68,138.51 119.00,138.53 119.31,138.61 119.62,138.78 119.93,138.70 120.24,138.87 120.56,138.48 120.87,138.82 121.18,138.83 121.49,138.67 121.80,138.75 122.12,138.56 122.43,138.46 122.74,138.59 123.05,138.54 123.36,139.18 123.68,138.57 123.99,138.96 124.30,138.70 124.61,138.72 124.92,138.79 125.24,138.52 125.55,138.82 125.86,138.73 126.17,138.39 126.48,138.77 126.80,138.76 127.11,138.74 127.42,138.95 127.73,138.59 128.04,138.75 128.36,138.79 128.67,138.50 128.98,138.88 129.29,138.40 129.60,138.43 129.92,138.75 130.23,138.46 130.54,138.64 130.85,138.36 131.16,138.67 131.48,138.46 131.79,138.72 132.10,138.38 132.41,138.74 132.72,138.61 133.04,138.67 133.35,138.65 133.66,138.68 133.97,138.42 134.28,138.20 134.60,138.67 134.91,138.49 135.22,138.58 135.53,138.74 135.84,138.30 136.16,138.52 136.47,138.55 136.78,138.47 137.09,138.72 137.40,138.63 137.72,138.51 138.03,138.48 138.34,138.81 138.65,138.54 138.96,138.77 139.28,138.74 139.59,138.32 139.90,138.46" fill="none" stroke="#f3a85c" stroke-width="1.25" stroke-linejoin="round" />
<polyline points="46.30,156.04 46.61,156.10 46.92,156.18 47.24,156.18 47.55,156.23 47.86,155.97 48.17,156.00 48.48,156.18 48.80,155.96 49.11,156.23 49.42,155.75 49.73,156.16 50.04,156.01 50.36,155.69 50.67,156.22 50.98,156.10 51.29,156.04 51.60,155.85 51.92,155.96 52.23,156.31 52.54,155.89 52.85,155.42 53.16,155.89 53.48,155.82 53.79,156.02 54.10,155.97 54.41,155.88 54.72,155.89 55.04,156.23 55.35,155.78 55.66,156.39 55.97,155.94 56.28,155.84 56.60,156.18 56.91,156.13 57.22,155.84 57.53,156.16 57.84,155.69 58.16,155.85 58.47,156.21 58.78,155.95 59.09,155.74 59.40,156.05 59.72,156.10 60.03,155.90 60.34,155.55 60.65,155.77 60.96,155.85 61.28,155.85 61.59,155.97 61.90,155.51 62.21,155.37 62.52,155.33 62.84,155.42 63.15,154.88 63.46,155.12 63.77,154.21 64.08,154.64 64.40,154.15 64.71,154.12 65.02,153.91 65.33,153.31 65.64,153.24 65.96,153.02 66.27,152.81 66.58,152.26 66.89,151.98 67.20,151.56 67.52,152.12 67.83,151.42 68.14,151.22 68.45,150.84 68.76,151.15 69.08,150.80 69.39,151.11 69.70,151.00 70.01,150.88 70.32,151.08 70.64,150.86 70.95,151.15 71.26,151.28 71.57,151.36 71.88,151.83 72.20,152.05 72.51,152.59 72.82,152.00 73.13,152.77 73.44,153.00 73.76,153.35 74.07,153.78 74.38,154.03 74.69,154.20 75.00,154.34 75.32,154.72 75.63,154.89 75.94,154.67 76.25,155.11 76.56,155.05 76.88,155.20 77.19,155.55 77.50,155.62 77.81,155.71 78.12,155.60 78.44,155.78 78.75,155.69 79.06,155.96 79.37,156.05 79.68,156.27 80.00,156.20 80.31,155.84 80.62,155.92 80.93,155.84 81.24,156.07 81.56,156.38 81.87,156.15 82.18,155.63 82.49,155.81 82.80,155.80 83.12,156.13 83.43,156.04 83.74,156.09 84.05,156.36 84.36,155.89 84.68,155.89 84.99,156.39 85.30,156.10 85.61,155.90 85.92,155.67 86.24,155.77 86.55,155.60 86.86,156.05 87.17,156.05 87.48,156.22 87.80,156.01 88.11,155.92 88.42,155.91 88.73,156.38 89.04,155.72 89.36,156.07 89.67,156.04 89.98,156.15 90.29,155.97 90.60,156.13 90.92,156.19 91.23,156.01 91.54,155.96 91.85,156.01 92.16,155.87 92.48,156.00 92.79,155.99 93.10,156.08 93.41,156.28 93.72,156.27 94.04,155.96 94.35,156.15 94.66,156.09 94.97,156.17 95.28,156.04 95.60,156.08 95.91,155.95 96.22,155.89 96.53,156.18 96.84,156.25 97.16,156.13 97.47,156.08 97.78,156.04 98.09,155.91 98.40,155.65 98.72,156.08 99.03,155.98 99.34,155.83 99.65,155.74 99.96,156.13 100.28,155.55 100.59,156.18 100.90,155.95 101.21,156.25 101.52,155.67 101.84,155.78 102.15,155.68 102.46,155.79 102.77,155.71 103.08,155.61 103.40,155.93 103.71,155.60 104.02,155.65 104.33,155.85 104.64,155.67 104.96,155.70 105.27,155.85 105.58,155.74 105.89,155.60 106.20,155.83 106.52,155.82 106.83,156.19 107.14,155.71 107.45,156.10 107.76,155.80 108.08,155.89 108.39,155.91 108.70,156.03 109.01,156.15 109.32,156.31 109.64,155.89 109.95,156.25 110.26,156.20 110.57,156.17 110.88,155.89 111.20,156.19 111.51,156.01 111.82,156.10 112.13,155.99 112.44,156.16 112.76,156.24 113.07,156.24 113.38,156.00 113.69,156.22 114.00,156.30 114.32,155.87 114.63,156.30 114.94,155.80 115.25,156.14 115.56,156.15 115.88,156.31 116.19,156.09 116.50,155.95 116.81,155.90 117.12,155.81 117.44,156.18 117.75,156.00 118.06,155.91 118.37,156.14 118.68,155.90 119.00,155.96 119.31,155.96 119.62,156.34 119.93,156.30 120.24,156.01 120.56,155.76 120.87,156.09 121.18,156.05 121.49,156.10 121.80,156.14 122.12,155.98 122.43,156.21 122.74,156.19 123.05,156.08 123.36,155.97 123.68,155.95 123.99,156.16 124.30,155.84 124.61,156.01 124.92,155.91 125.24,155.79 125.55,156.15 125.86,156.04 126.17,156.05 126.48,156.20 126.80,155.77 127.11,156.03 127.42,156.09 127.73,156.19 128.04,155.84 128.36,156.17 128.67,156.08 128.98,156.28 129.29,156.24 129.60,156.14 129.92,156.43 130.23,156.04 130.54,155.96 130.85,155.98 131.16,155.87 131.48,156.03 131.79,155.70 132.10,156.02 132.41,156.12 132.72,156.22 133.04,155.98 133.35,156.29 133.66,155.92 133.97,156.02 134.28,155.70 134.60,155.90 134.91,155.90 135.22,156.30 135.53,156.13 135.84,155.85 136.16,156.13 136.47,156.12 136.78,156.00 137.09,156.04 137.40,155.99 137.72,155.94 138.03,155.73 138.34,156.02 138.65,156.27 138.96,156.29 139.28,155.99 139.59,155.91 139.90,156.00" fill="none" stroke="#f6b676" stroke-width="1.25" stroke-linejoin="round" />
<polyline points="46.30,173.58 46.61,173.48 46.92,173.32 47.24,173.48 47.55,173.38 47.86,173.51 48.17,173.35 48.48,173.16 48.80,173.43 49.11,173.55 49.42,173.23 49.73,173.40 50.04,173.57 50.36,173.35 50.67,173.31 50.98,173.78 51.29,173.57 51.60,173.60 51.92,173.25 52.23,173.71 52.54,173.13 52.85,173.33 53.16,173.55 53.48,173.65 53.79,173.26 54.10,173.30 54.41,173.45 54.72,173.08 55.04,173.53 55.35,173.52 55.66,173.34 55.97,173.51 56.28,173.55 56.60,173.47 56.91,173.50 57.22,173.68 57.53,173.32 57.84,173.43 58.16,173.31 58.47,173.57 58.78,173.31 59.09,173.45 59.40,173.38 59.72,173.35 60.03,173.61 60.34,173.27 60.65,173.50 60.96,173.35 61.28,173.39 61.59,173.07 61.90,173.19 62.21,173.08 62.52,172.74 62.84,172.79 63.15,172.60 63.46,172.48 63.77,172.56 64.08,172.05 64.40,171.70 64.71,171.50 65.02,171.52 65.33,171.28 65.64,171.17 65.96,171.05 66.27,171.03 66.58,170.55 66.89,170.37 67.20,169.95 67.52,169.99 67.83,169.95 68.14,169.79 68.45,169.09 68.76,169.49 69.08,169.54 69.39,169.37 69.70,168.96 70.01,169.20 70.32,169.41 70.64,169.47 70.95,169.38 71.26,169.51 71.57,169.99 71.88,169.78 72.20,170.46 72.51,170.43 72.82,170.70 73.13,170.64 73.44,170.99 73.76,171.44 74.07,171.28 74.38,172.10 74.69,171.69 75.00,171.90 75.32,172.29 75.63,172.52 75.94,172.71 76.25,172.64 76.56,172.78 76.88,172.87 77.19,172.90 77.50,172.63 77.81,173.30 78.12,173.23 78.44,173.26 78.75,173.16 79.06,173.35 79.37,173.33 79.68,173.33 80.00,173.56 80.31,173.08 80.62,173.43 80.93,173.21 81.24,173.35 81.56,173.67 81.87,173.22 82.18,173.40 82.49,173.31 82.80,173.58 83.12,173.25 83.43,173.13 83.74,173.51 84.05,173.36 84.36,173.36 84.68,173.61 84.99,173.27 85.30,173.36 85.61,173.45 85.92,173.49 86.24,173.33 86.55,173.60 86.86,173.81 87.17,173.35 87.48,173.74 87.80,173.06 88.11,173.66 88.42,173.36 88.73,173.44 89.04,173.36 89.36,173.31 89.67,173.20 89.98,173.35 90.29,173.64 90.60,173.62 90.92,173.36 91.23,173.33 91.54,173.30 91.85,173.21 92.16,173.73 92.48,173.53 92.79,173.44 93.10,173.33 93.41,173.24 93.72,173.65 94.04,173.55 94.35,173.25 94.66,173.59 94.97,173.22 95.28,173.52 95.60,173.24 95.91,173.33 96.22,173.49 96.53,173.47 96.84,173.57 97.16,173.24 97.47,173.65 97.78,173.59 98.09,173.35 98.40,173.41 98.72,173.18 99.03,173.27 99.34,173.05 99.65,173.27 99.96,173.26 100.28,173.44 100.59,173.34 100.90,173.29 101.21,173.06 101.52,173.06 101.84,173.02 102.15,173.10 102.46,172.71 102.77,173.17 103.08,172.75 103.40,172.93 103.71,173.02 104.02,172.94 104.33,173.32 104.64,173.03 104.96,173.34 105.27,173.29 105.58,173.02 105.89,173.20 106.20,173.38 106.52,173.13 106.83,173.23 107.14,173.14 107.45,173.27 107.76,173.22 108.08,173.32 108.39,173.50 108.70,173.58 109.01,173.38 109.32,173.40 109.64,173.52 109.95,173.34 110.26,173.21 110.57,173.59 110.88,173.24 111.20,173.57 111.51,173.24 111.82,173.73 112.13,173.23 112.44,173.56 112.76,173.68 113.07,173.25 113.38,173.68 113.69,173.28 114.00,173.11 114.32,173.54 114.63,173.54 114.94,173.38 115.25,172.98 115.56,173.41 115.88,173.37 116.19,173.35 116.50,173.37 116.81,173.11 117.12,173.32 117.44,173.73 117.75,173.69 118.06,173.36 118.37,173.30 118.68,173.49 119.00,173.60 119.31,173.54 119.62,173.22 119.93,173.45 120.24,173.44 120.56,173.67 120.87,173.63 121.18,173.51 121.49,173.63 121.80,173.35 122.12,173.69 122.43,173.35 122.74,173.49 123.05,173.58 123.36,173.26 123.68,173.30 123.99,173.12 124.30,173.45 124.61,173.41 124.92,173.36 125.24,173.51 125.55,173.05 125.86,173.42 126.17,173.44 126.48,173.37 126.80,173.56 127.11,173.72 127.42,173.34 127.73,173.26 128.04,173.32 128.36,173.44 128.67,173.52 128.98,173.27 129.29,173.59 129.60,173.24 129.92,173.56 130.23,173.49 130.54,173.50 130.85,173.79 131.16,173.37 131.48,173.39 131.79,173.50 132.10,173.57 132.41,173.19 132.72,173.47 133.04,173.29 133.35,173.53 133.66,173.66 133.97,173.43 134.28,173.40 134.60,173.45 134.91,172.91 135.22,173.55 135.53,173.52 135.84,173.45 136.16,173.35 136.47,173.29 136.78,173.39 137.09,173.63 137.40,173.40 137.72,173.65 138.03,172.98 138.34,173.34 138.65,173.47 138.96,173.42 139.28,173.13 139.59,173.31 139.90,173.64" fill="none" stroke="#f8c28a" stroke-width="1.25" stroke-linejoin="round" />
<polyline points="46.30,190.58 46.61,190.63 46.92,190.61 47.24,190.70 47.55,190.91 47.86,190.90 48.17,190.45 48.48,191.05 48.80,190.70 49.11,190.70 49.42,191.09 49.73,190.79 50.04,190.59 50.36,190.69 50.67,190.67 50.98,190.63 51.29,190.74 51.60,190.95 51.92,190.86 52.23,190.56 52.54,191.28 52.85,190.63 53.16,190.82 53.48,190.81 53.79,190.93 54.10,190.74 54.41,190.88 54.72,191.16 55.04,190.82 55.35,190.61 55.66,190.85 55.97,190.66 56.28,190.73 56.60,190.83 56.91,190.85 57.22,190.74 57.53,190.93 57.84,190.75 58.16,190.55 58.47,190.92 58.78,190.70 59.09,190.96 59.40,190.62 59.72,190.81 60.03,190.75 60.34,190.20 60.65,190.37 60.96,190.39 61.28,190.78 61.59,190.15 61.90,190.56 62.21,190.51 62.52,190.32 62.84,190.24 63.15,189.92 63.46,189.87 63.77,189.76 64.08,189.63 64.40,189.50 64.71,189.15 65.02,188.86 65.33,188.67 65.64,188.62 65.96,188.04 66.27,187.89 66.58,187.81 66.89,187.57 67.20,187.41 67.52,186.81 67.83,187.03 68.14,186.90 68.45,186.95 68.76,186.37 69.08,186.59 69.39,186.69 69.70,186.69 70.01,186.84 70.32,186.87 70.64,186.60 70.95,187.01 71.26,186.98 71.57,187.07 71.88,187.66 72.20,187.49 72.51,187.66 72.82,187.96 73.13,188.11 73.44,188.65 73.76,188.76 74.07,189.15 74.38,189.19 74.69,189.21 75.00,189.68 75.32,189.55 75.63,189.74 75.94,189.93 76.25,190.09 76.56,190.40 76.88,190.19 77.19,190.44 77.50,190.45 77.81,190.30 78.12,190.38 78.44,190.58 78.75,190.72 79.06,190.74 79.37,190.79 79.68,190.74 80.00,190.67 80.31,190.83 80.62,190.59 80.93,190.54 81.24,190.72 81.56,190.54 81.87,190.70 82.18,190.66 82.49,190.70 82.80,190.79 83.12,190.66 83.43,190.72 83.74,190.50 84.05,190.82 84.36,190.65 84.68,190.87 84.99,190.31 85.30,190.66 85.61,190.84 85.92,190.38 86.24,190.74 86.55,190.82 86.86,190.82 87.17,190.54 87.48,190.84 87.80,190.83 88.11,190.63 88.42,190.93 88.73,190.79 89.04,190.80 89.36,190.72 89.67,190.90 89.98,190.82 90.29,191.00 90.60,190.88 90.92,190.69 91.23,190.76 91.54,190.96 91.85,190.74 92.16,190.87 92.48,190.89 92.79,190.77 93.10,190.39 93.41,190.82 93.72,190.83 94.04,190.82 94.35,190.66 94.66,190.99 94.97,190.75 95.28,190.66 95.60,190.63 95.91,190.81 96.22,190.54 96.53,190.53 96.84,191.03 97.16,190.88 97.47,190.80 97.78,190.81 98.09,190.62 98.40,190.16 98.72,190.59 99.03,190.52 99.34,190.31 99.65,189.79 99.96,190.25 100.28,190.17 100.59,189.74 100.90,189.75 101.21,189.76 101.52,189.51 101.84,189.63 102.15,189.38 102.46,189.42 102.77,189.26 103.08,188.96 103.40,189.03 103.71,189.76 104.02,189.27 104.33,189.49 104.64,189.52 104.96,189.69 105.27,189.57 105.58,189.46 105.89,189.66 106.20,189.43 106.52,189.83 106.83,190.13 107.14,189.69 107.45,190.20 107.76,190.40 108.08,190.57 108.39,190.25 108.70,190.36 109.01,190.21 109.32,190.41 109.64,190.72 109.95,191.02 110.26,190.49 110.57,190.96 110.88,190.81 111.20,190.66 111.51,191.15 111.82,190.33 112.13,190.77 112.44,190.82 112.76,191.16 113.07,191.11 113.38,191.19 113.69,190.82 114.00,190.97 114.32,191.04 114.63,190.89 114.94,190.86 115.25,190.77 115.56,190.73 115.88,190.58 116.19,191.14 116.50,190.72 116.81,190.44 117.12,190.85 117.44,190.79 117.75,190.83 118.06,191.12 118.37,190.78 118.68,190.75 119.00,190.67 119.31,190.80 119.62,190.72 119.93,190.84 120.24,191.35 120.56,190.87 120.87,190.65 121.18,191.14 121.49,190.95 121.80,190.94 122.12,190.93 122.43,190.94 122.74,190.92 123.05,191.05 123.36,190.98 123.68,191.04 123.99,190.71 124.30,190.80 124.61,190.67 124.92,190.97 125.24,190.95 125.55,190.72 125.86,190.90 126.17,191.26 126.48,191.02 126.80,190.60 127.11,190.78 127.42,190.91 127.73,190.79 128.04,190.87 128.36,191.01 128.67,190.86 128.98,190.61 129.29,190.93 129.60,190.78 129.92,190.82 130.23,190.70 130.54,190.56 130.85,190.58 131.16,190.74 131.48,190.61 131.79,190.32 132.10,191.00 132.41,190.60 132.72,190.67 133.04,190.89 133.35,190.38 133.66,191.04 133.97,190.67 134.28,190.92 134.60,190.72 134.91,190.85 135.22,190.82 135.53,190.80 135.84,190.48 136.16,190.54 136.47,190.79 136.78,191.05 137.09,190.70 137.40,190.89 137.72,190.83 138.03,190.88 138.34,190.97 138.65,190.54 138.96,190.85 139.28,190.77 139.59,190.75 139.90,190.65" fill="none" stroke="#acacac" stroke-width="1.25" stroke-linejoin="round" />
<line x1="35.70" y1="38.88" x2="150.30" y2="38.88" stroke="#262626" stroke-width="1.35" />
<line x1="35.70" y1="56.26" x2="150.30" y2="56.26" stroke="#262626" stroke-width="1.35" />
<line x1="35.70" y1="73.64" x2="150.30" y2="73.64" stroke="#262626" stroke-width="1.35" />
<line x1="35.70" y1="91.02" x2="150.30" y2="91.02" stroke="#262626" stroke-width="1.35" />
<line x1="35.70" y1="108.40" x2="150.30" y2="108.40" stroke="#262626" stroke-width="1.35" />
<line x1="35.70" y1="125.78" x2="150.30" y2="125.78" stroke="#262626" stroke-width="1.35" />
<line x1="35.70" y1="143.16" x2="150.30" y2="143.16" stroke="#262626" stroke-width="1.35" />
<line x1="35.70" y1="160.54" x2="150.30" y2="160.54" stroke="#262626" stroke-width="1.35" />
<line x1="35.70" y1="177.92" x2="150.30" y2="177.92" stroke="#262626" stroke-width="1.35" />
<rect x="35.70" y="21.50" width="114.60" height="173.80" fill="none" stroke="#262626" stroke-width="1.35" />
<line x1="35.90" y1="195.30" x2="35.90" y2="193.10" stroke="#2b2b2b" stroke-width="0.9" />
<line x1="46.30" y1="195.30" x2="46.30" y2="193.10" stroke="#2b2b2b" stroke-width="0.9" />
<line x1="56.70" y1="195.30" x2="56.70" y2="193.10" stroke="#2b2b2b" stroke-width="0.9" />
<line x1="67.10" y1="195.30" x2="67.10" y2="193.10" stroke="#2b2b2b" stroke-width="0.9" />
<line x1="77.50" y1="195.30" x2="77.50" y2="193.10" stroke="#2b2b2b" stroke-width="0.9" />
<line x1="87.90" y1="195.30" x2="87.90" y2="193.10" stroke="#2b2b2b" stroke-width="0.9" />
<line x1="98.30" y1="195.30" x2="98.30" y2="193.10" stroke="#2b2b2b" stroke-width="0.9" />
<line x1="108.70" y1="195.30" x2="108.70" y2="193.10" stroke="#2b2b2b" stroke-width="0.9" />
<line x1="119.10" y1="195.30" x2="119.10" y2="193.10" stroke="#2b2b2b" stroke-width="0.9" />
<line x1="129.50" y1="195.30" x2="129.50" y2="193.10" stroke="#2b2b2b" stroke-width="0.9" />
<line x1="139.90" y1="195.30" x2="139.90" y2="193.10" stroke="#2b2b2b" stroke-width="0.9" />
<text x="35.90" y="203.80" font-size="7.4" fill="#222" text-anchor="middle" font-weight="normal">100</text>
<text x="56.70" y="203.80" font-size="7.4" fill="#222" text-anchor="middle" font-weight="normal">200</text>
<text x="77.50" y="203.80" font-size="7.4" fill="#222" text-anchor="middle" font-weight="normal">300</text>
<text x="98.30" y="203.80" font-size="7.4" fill="#222" text-anchor="middle" font-weight="normal">400</text>
<text x="119.10" y="203.80" font-size="7.4" fill="#222" text-anchor="middle" font-weight="normal">500</text>
<text x="139.90" y="203.80" font-size="7.4" fill="#222" text-anchor="middle" font-weight="normal">600</text>
<text x="93.40" y="212.90" font-size="9.65" fill="#222" text-anchor="middle" font-weight="normal">Raman shift (cm<tspan dy="-0.45em" font-size="62%">-1</tspan><tspan dy="0.28em">)</tspan></text>
<text x="27.30" y="107.25" font-size="9.7" fill="#222" font-weight="normal" text-anchor="middle" textLength="64.00" lengthAdjust="spacingAndGlyphs" transform="rotate(-90 27.30 107.25)">Intensity (a. u.)</text>
<text x="54.60" y="16.10" font-size="8.3" fill="#cf7846" text-anchor="start" font-weight="normal" letter-spacing="-0.15">[Cu-Cl<tspan dy="0.3em" font-size="70%">2</tspan><tspan dy="-0.3em">]</tspan><tspan dy="-0.35em" font-size="70%">-</tspan></text>
<text x="86.40" y="16.10" font-size="8.3" fill="#8c4a9a" text-anchor="start" font-weight="normal" letter-spacing="-0.15">[Cu-(H<tspan dy="0.3em" font-size="70%">2</tspan><tspan dy="-0.3em">O)</tspan><tspan dy="0.3em" font-size="70%">6</tspan><tspan dy="-0.3em">]</tspan><tspan dy="-0.35em" font-size="70%">2+</tspan></text>
<text x="-0.20" y="15.00" font-size="21" fill="#000" text-anchor="start" font-weight="normal">b</text>
<text x="0" y="0" font-size="21" fill="#000" text-anchor="middle" transform="translate(197.6,15.3) scale(0.9,1.02)">a</text>
<polygon points="158.1,28.3 165.2,21.5 165.2,24.8 206.6,24.8 206.6,31.8 165.2,31.8 165.2,35.4" fill="#fff" stroke="#7c7c7c" stroke-width="1.05"/>
<text x="235.60" y="44.10" font-size="9.9" fill="#111" text-anchor="start" font-weight="bold">Operando SHINERS</text>
<rect x="171.50" y="65.60" width="95.20" height="97.20" fill="#fff" stroke="#555" stroke-width="0.8" stroke-dasharray="2.2 1.3"/>
<text x="216.50" y="59.00" font-size="8" fill="#222" text-anchor="start" font-weight="normal" font-style="italic">T</text>
<text x="221.30" y="60.60" font-size="5.5" fill="#222" text-anchor="start" font-weight="normal">C</text>
<text x="217.50" y="169.60" font-size="8" fill="#222" text-anchor="start" font-weight="normal" font-style="italic">T</text>
<text x="222.30" y="171.20" font-size="5.5" fill="#222" text-anchor="start" font-weight="normal">H</text>
<line x1="191.60" y1="84.30" x2="192.90" y2="73.00" stroke="#7fe0e0" stroke-width="1.2" />
<line x1="191.60" y1="84.30" x2="192.90" y2="95.10" stroke="#7fe0e0" stroke-width="1.2" />
<line x1="191.60" y1="84.30" x2="181.50" y2="85.00" stroke="#e0c0e0" stroke-width="1.2" />
<line x1="191.60" y1="84.30" x2="200.60" y2="82.60" stroke="#e0c0e0" stroke-width="1.2" />
<line x1="181.50" y1="85.00" x2="178.00" y2="73.00" stroke="#ccc" stroke-width="0.5" />
<line x1="200.60" y1="82.60" x2="207.00" y2="94.60" stroke="#ccc" stroke-width="0.5" />
<line x1="181.50" y1="85.00" x2="183.55" y2="86.60" stroke="#9a9a9a" stroke-width="1.0" />
<circle cx="183.55" cy="86.60" r="0.9" fill="#c8c8c8"/>
<line x1="181.50" y1="85.00" x2="179.45" y2="86.60" stroke="#9a9a9a" stroke-width="1.0" />
<circle cx="179.45" cy="86.60" r="0.9" fill="#c8c8c8"/>
<circle cx="181.50" cy="85.00" r="1.7" fill="url(#aGray)"/>
<line x1="200.60" y1="82.60" x2="198.55" y2="81.00" stroke="#9a9a9a" stroke-width="1.0" />
<circle cx="198.55" cy="81.00" r="0.9" fill="#c8c8c8"/>
<line x1="200.60" y1="82.60" x2="202.65" y2="81.00" stroke="#9a9a9a" stroke-width="1.0" />
<circle cx="202.65" cy="81.00" r="0.9" fill="#c8c8c8"/>
<circle cx="200.60" cy="82.60" r="1.7" fill="url(#aGray)"/>
<line x1="178.20" y1="72.50" x2="175.90" y2="71.28" stroke="#9a9a9a" stroke-width="1.0" />
<circle cx="175.90" cy="71.28" r="0.9" fill="#c8c8c8"/>
<line x1="178.20" y1="72.50" x2="179.94" y2="70.57" stroke="#9a9a9a" stroke-width="1.0" />
<circle cx="179.94" cy="70.57" r="0.9" fill="#c8c8c8"/>
<circle cx="178.20" cy="72.50" r="1.7" fill="url(#aGray)"/>
<line x1="207.00" y1="94.60" x2="209.47" y2="95.40" stroke="#9a9a9a" stroke-width="1.0" />
<circle cx="209.47" cy="95.40" r="0.9" fill="#c8c8c8"/>
<line x1="207.00" y1="94.60" x2="205.62" y2="96.80" stroke="#9a9a9a" stroke-width="1.0" />
<circle cx="205.62" cy="96.80" r="0.9" fill="#c8c8c8"/>
<circle cx="207.00" cy="94.60" r="1.7" fill="url(#aGray)"/>
<circle cx="192.90" cy="73.00" r="1.9" fill="url(#aTeal)"/>
<circle cx="192.90" cy="95.10" r="1.9" fill="url(#aTeal)"/>
<circle cx="191.60" cy="84.30" r="2.6" fill="url(#aPinkC)"/>
<line x1="189.70" y1="143.40" x2="180.00" y2="142.60" stroke="#6e1a6e" stroke-width="1.3" />
<line x1="189.70" y1="143.40" x2="199.50" y2="142.60" stroke="#6e1a6e" stroke-width="1.3" />
<line x1="189.70" y1="143.40" x2="189.70" y2="133.00" stroke="#6e1a6e" stroke-width="1.3" />
<line x1="189.70" y1="143.40" x2="189.70" y2="152.60" stroke="#6e1a6e" stroke-width="1.3" />
<line x1="176.00" y1="156.00" x2="180.00" y2="142.60" stroke="#ccc" stroke-width="0.5" />
<line x1="204.00" y1="156.00" x2="199.50" y2="142.60" stroke="#ccc" stroke-width="0.5" />
<line x1="176.00" y1="156.00" x2="189.70" y2="152.60" stroke="#ccc" stroke-width="0.5" />
<line x1="204.00" y1="156.00" x2="189.70" y2="152.60" stroke="#ccc" stroke-width="0.5" />
<line x1="180.00" y1="142.60" x2="178.40" y2="144.65" stroke="#9a9a9a" stroke-width="1.0" />
<circle cx="178.40" cy="144.65" r="0.9" fill="#c8c8c8"/>
<line x1="180.00" y1="142.60" x2="178.40" y2="140.55" stroke="#9a9a9a" stroke-width="1.0" />
<circle cx="178.40" cy="140.55" r="0.9" fill="#c8c8c8"/>
<circle cx="180.00" cy="142.60" r="1.7" fill="url(#aGray)"/>
<line x1="199.50" y1="142.60" x2="201.10" y2="140.55" stroke="#9a9a9a" stroke-width="1.0" />
<circle cx="201.10" cy="140.55" r="0.9" fill="#c8c8c8"/>
<line x1="199.50" y1="142.60" x2="201.10" y2="144.65" stroke="#9a9a9a" stroke-width="1.0" />
<circle cx="201.10" cy="144.65" r="0.9" fill="#c8c8c8"/>
<circle cx="199.50" cy="142.60" r="1.7" fill="url(#aGray)"/>
<line x1="189.70" y1="133.00" x2="187.65" y2="131.40" stroke="#9a9a9a" stroke-width="1.0" />
<circle cx="187.65" cy="131.40" r="0.9" fill="#c8c8c8"/>
<line x1="189.70" y1="133.00" x2="191.75" y2="131.40" stroke="#9a9a9a" stroke-width="1.0" />
<circle cx="191.75" cy="131.40" r="0.9" fill="#c8c8c8"/>
<circle cx="189.70" cy="133.00" r="1.7" fill="url(#aGray)"/>
<line x1="189.70" y1="152.60" x2="191.75" y2="154.20" stroke="#9a9a9a" stroke-width="1.0" />
<circle cx="191.75" cy="154.20" r="0.9" fill="#c8c8c8"/>
<line x1="189.70" y1="152.60" x2="187.65" y2="154.20" stroke="#9a9a9a" stroke-width="1.0" />
<circle cx="187.65" cy="154.20" r="0.9" fill="#c8c8c8"/>
<circle cx="189.70" cy="152.60" r="1.7" fill="url(#aGray)"/>
<line x1="176.00" y1="156.00" x2="176.97" y2="158.41" stroke="#9a9a9a" stroke-width="1.0" />
<circle cx="176.97" cy="158.41" r="0.9" fill="#c8c8c8"/>
<line x1="176.00" y1="156.00" x2="173.43" y2="156.36" stroke="#9a9a9a" stroke-width="1.0" />
<circle cx="173.43" cy="156.36" r="0.9" fill="#c8c8c8"/>
<circle cx="176.00" cy="156.00" r="1.7" fill="url(#aGray)"/>
<line x1="204.00" y1="156.00" x2="206.57" y2="156.36" stroke="#9a9a9a" stroke-width="1.0" />
<circle cx="206.57" cy="156.36" r="0.9" fill="#c8c8c8"/>
<line x1="204.00" y1="156.00" x2="203.03" y2="158.41" stroke="#9a9a9a" stroke-width="1.0" />
<circle cx="203.03" cy="158.41" r="0.9" fill="#c8c8c8"/>
<circle cx="204.00" cy="156.00" r="1.7" fill="url(#aGray)"/>
<circle cx="189.70" cy="143.40" r="2.4" fill="url(#aDarkC)"/>
<line x1="230.50" y1="96.00" x2="240.70" y2="85.60" stroke="#30d0d0" stroke-width="1.4" />
<line x1="240.70" y1="85.60" x2="251.10" y2="75.00" stroke="#30d0d0" stroke-width="1.4" />
<line x1="236.00" y1="90.50" x2="245.50" y2="80.80" stroke="#f0a080" stroke-width="1.4" />
<circle cx="251.10" cy="75.00" r="2.3" fill="url(#aTeal)"/>
<circle cx="230.50" cy="96.00" r="2.3" fill="url(#aTeal)"/>
<circle cx="240.70" cy="85.60" r="3" fill="url(#aCu)"/>
<line x1="232.50" y1="131.70" x2="244.50" y2="140.40" stroke="#30d0d0" stroke-width="1.4" />
<line x1="244.50" y1="140.40" x2="255.40" y2="148.80" stroke="#30d0d0" stroke-width="1.4" />
<line x1="238.00" y1="135.80" x2="250.00" y2="144.60" stroke="#f0a080" stroke-width="1.4" />
<circle cx="232.50" cy="131.70" r="2.3" fill="url(#aTeal)"/>
<circle cx="255.40" cy="148.80" r="2.3" fill="url(#aTeal)"/>
<circle cx="244.50" cy="140.40" r="3" fill="url(#aCu)"/>
<path d="M236.5,80.5 Q228,71 214.5,78.8" fill="none" stroke="#7e1f7e" stroke-width="1.5"/>
<polygon points="210.5,80.5 216.5,75.2 218,82" fill="#7e1f7e"/>
<path d="M217.8,76 L212.5,69.5" stroke="#7e1f7e" stroke-width="1"/>
<polygon points="211,67.5 214.8,69.5 212,71.3" fill="#7e1f7e"/>
<text x="219.50" y="73.00" font-size="6.5" fill="#222" text-anchor="start" font-weight="bold">e</text>
<text x="223.30" y="70.50" font-size="4.5" fill="#222" text-anchor="start" font-weight="normal">-</text>
<path d="M209,146.5 Q221,156 234,147" fill="none" stroke="#c8521a" stroke-width="1.5"/>
<polygon points="237,144 230.5,145.3 233.5,150.5" fill="#c8521a"/>
<path d="M216.5,162.8 L221,155.5" stroke="#c8521a" stroke-width="1"/>
<polygon points="222.3,153.5 222.6,157.3 219.5,156.3" fill="#c8521a"/>
<text x="211.80" y="158.30" font-size="6.5" fill="#222" text-anchor="start" font-weight="bold">e</text>
<text x="215.60" y="155.80" font-size="4.5" fill="#222" text-anchor="start" font-weight="normal">-</text>
<path d="M181,99.5 Q179,115 184,128" fill="none" stroke="#a040a0" stroke-width="0.8" stroke-dasharray="1.2 0.9"/>
<polygon points="185.5,131 182,127 186,126" fill="#a040a0"/>
<path d="M249.3,126 Q251,110 247.5,98" fill="none" stroke="#d8703a" stroke-width="0.8" stroke-dasharray="1.2 0.9"/>
<polygon points="246.5,95 245.5,99.5 249.3,98.7" fill="#d8703a"/>
<text x="220.00" y="111.40" font-size="7.6" fill="#111" text-anchor="middle" font-weight="bold">Coordination</text>
<text x="220.00" y="120.30" font-size="7.6" fill="#111" text-anchor="middle" font-weight="bold">species change</text>
<text x="258.30" y="110.20" font-size="7.0" fill="#d06a32" text-anchor="middle" font-weight="bold" transform="rotate(90 258.3 110.2)">Increased [Cu-Cl<tspan dy="0.3em" font-size="70%">2</tspan><tspan dy="-0.3em">]</tspan><tspan dy="-0.35em" font-size="70%">-</tspan></text>
<polygon points="274.5,125.8 279,131 276.3,131 276.3,167.6 272.7,167.6 272.7,131 270,131" fill="url(#gArr)"/>
<rect x="280" y="129" width="96.3" height="58" rx="10" fill="#f48d95"/>
<rect x="280.8" y="176" width="94.7" height="10.2" rx="7" fill="url(#gEdge)"/>
<rect x="282.6" y="130.8" width="91.2" height="46.5" rx="8.5" fill="url(#gFace)"/>
<rect x="295.00" y="164.50" width="66.00" height="12.50" fill="#a6a6a6" stroke="none" stroke-width="1" />
<rect x="301" y="165.8" width="56" height="8.6" rx="2.5" fill="#b6dfe3"/>
<path d="M305,168 q3,-1 4,2" fill="none" stroke="#6fa6da" stroke-width="1.2" opacity="0.85"/>
<path d="M312,171 q2,-3 5,-1" fill="none" stroke="#6fa6da" stroke-width="1.2" opacity="0.85"/>
<path d="M322,167 q2,3 5,2" fill="none" stroke="#6fa6da" stroke-width="1.2" opacity="0.85"/>
<path d="M337,172 q3,-3 6,-1" fill="none" stroke="#6fa6da" stroke-width="1.2" opacity="0.85"/>
<path d="M347,168 q2,3 5,3" fill="none" stroke="#6fa6da" stroke-width="1.2" opacity="0.85"/>
<circle cx="330" cy="170.5" r="1.6" fill="#8a7ad8"/>
<polygon points="296.2,125.4 359.6,125.4 361.2,164.2 294.4,164.2" fill="#adadad"/>
<line x1="294.40" y1="164.40" x2="361.20" y2="164.40" stroke="#8a8a8a" stroke-width="0.9" />
<text x="329.40" y="159.20" font-size="7.5" fill="#1a1a1a" text-anchor="middle" font-weight="500">Carbon paper</text>
<rect x="323.60" y="136.00" width="11.20" height="11.60" fill="#88d8d8" stroke="none" stroke-width="1" />
<circle cx="329.4" cy="142" r="3.4" fill="url(#gSpot)"/>
<polygon points="327.6,114.5 331.4,114.5 330,136 329,136" fill="url(#gLaser)"/>
<rect x="325.00" y="78.40" width="9.00" height="12.80" fill="url(#gProbe)" stroke="none" stroke-width="1" />
<line x1="326.50" y1="79.00" x2="326.50" y2="90.80" stroke="#3a3a3a" stroke-width="0.3" />
<line x1="328.00" y1="79.00" x2="328.00" y2="90.80" stroke="#3a3a3a" stroke-width="0.3" />
<line x1="329.50" y1="79.00" x2="329.50" y2="90.80" stroke="#3a3a3a" stroke-width="0.3" />
<line x1="331.00" y1="79.00" x2="331.00" y2="90.80" stroke="#3a3a3a" stroke-width="0.3" />
<line x1="332.50" y1="79.00" x2="332.50" y2="90.80" stroke="#3a3a3a" stroke-width="0.3" />
<rect x="326.00" y="91.20" width="7.60" height="16.00" fill="#fff" stroke="#8a8a8a" stroke-width="0.5" />
<line x1="328.20" y1="91.50" x2="328.20" y2="106.80" stroke="#b0b0b0" stroke-width="0.4" />
<line x1="331.40" y1="91.50" x2="331.40" y2="106.80" stroke="#b0b0b0" stroke-width="0.4" />
<rect x="327.40" y="107.20" width="4.80" height="7.20" fill="#fff" stroke="#8a8a8a" stroke-width="0.5" />
<line x1="327.40" y1="109.00" x2="332.20" y2="109.00" stroke="#a0a0a0" stroke-width="0.4" />
<line x1="327.40" y1="110.80" x2="332.20" y2="110.80" stroke="#a0a0a0" stroke-width="0.4" />
<line x1="327.40" y1="112.60" x2="332.20" y2="112.60" stroke="#a0a0a0" stroke-width="0.4" />
<line x1="267.00" y1="65.60" x2="325.40" y2="139.40" stroke="#444" stroke-width="0.7" stroke-dasharray="2 1.2"/>
<line x1="267.00" y1="115.50" x2="323.80" y2="146.60" stroke="#444" stroke-width="0.7" stroke-dasharray="2 1.2"/>
<text x="329.80" y="196.90" font-size="7.4" fill="#222" text-anchor="middle" font-weight="normal">Heating plate</text>
<text x="387.30" y="44.10" font-size="9.9" fill="#111" text-anchor="start" font-weight="bold">XPS, XANES test</text>
<rect x="384.40" y="63.20" width="82.20" height="98.20" fill="url(#gXps)" stroke="none" stroke-width="1" />
<text x="424.50" y="59.50" font-size="8" fill="#222" text-anchor="start" font-weight="normal" font-style="italic">T</text>
<text x="429.30" y="61.10" font-size="5.5" fill="#222" text-anchor="start" font-weight="normal">C</text>
<text x="423.30" y="170.30" font-size="8" fill="#222" text-anchor="start" font-weight="normal" font-style="italic">T</text>
<text x="428.10" y="171.90" font-size="5.5" fill="#222" text-anchor="start" font-weight="normal">H</text>
<circle cx="399.6" cy="79.8" r="6.4" fill="url(#sPink)"/>
<text x="399.40" y="81.40" font-size="4.6" fill="#fff" text-anchor="middle" font-weight="bold">Cu<tspan dy="-0.4em" font-size="70%">2+</tspan></text>
<circle cx="443.2" cy="77.7" r="6.2" fill="url(#sBrown)"/>
<text x="443.00" y="79.30" font-size="4.6" fill="#fff" text-anchor="middle" font-weight="bold">Cu<tspan dy="-0.4em" font-size="70%">+</tspan></text>
<circle cx="406" cy="143.4" r="7" fill="url(#sDark)"/>
<text x="405.80" y="145.00" font-size="4.6" fill="#fff" text-anchor="middle" font-weight="bold">Cu<tspan dy="-0.4em" font-size="70%">2+</tspan></text>
<circle cx="450" cy="138.5" r="6.4" fill="url(#sOrange)"/>
<text x="449.80" y="140.10" font-size="4.6" fill="#fff" text-anchor="middle" font-weight="bold">Cu<tspan dy="-0.4em" font-size="70%">+</tspan></text>
<path d="M436,76 Q425,66 412,79" fill="none" stroke="#7e1f7e" stroke-width="1.5"/>
<polygon points="408.5,81.5 411,75 415.5,80" fill="#7e1f7e"/>
<path d="M421.5,70.5 L416.5,65" stroke="#7e1f7e" stroke-width="1"/>
<polygon points="415,63 418.6,65 416,67" fill="#7e1f7e"/>
<text x="427.50" y="69.80" font-size="6.5" fill="#222" text-anchor="start" font-weight="bold">e</text>
<text x="431.30" y="67.30" font-size="4.5" fill="#222" text-anchor="start" font-weight="normal">-</text>
<path d="M416.6,145 Q428,154 440,145" fill="none" stroke="#c8521a" stroke-width="1.5"/>
<polygon points="443.5,142.5 436.5,143.8 439.5,148.5" fill="#c8521a"/>
<path d="M424.8,158.9 L429.5,151.5" stroke="#c8521a" stroke-width="1"/>
<polygon points="430.8,149.5 431,153.3 428,152.3" fill="#c8521a"/>
<text x="418.50" y="157.50" font-size="6.5" fill="#222" text-anchor="start" font-weight="bold">e</text>
<text x="422.30" y="155.00" font-size="4.5" fill="#222" text-anchor="start" font-weight="normal">-</text>
<path d="M397,88 C397.3,110 398,124 404,131.5" fill="none" stroke="#a040a0" stroke-width="0.8" stroke-dasharray="1.2 0.9"/>
<polygon points="405.5,134 401.5,130.5 405.3,129.2" fill="#a040a0"/>
<path d="M452.5,129.5 Q454.5,100 446,86" fill="none" stroke="#d8703a" stroke-width="0.8" stroke-dasharray="1.2 0.9"/>
<polygon points="444.5,83.5 444,88 447.8,87" fill="#d8703a"/>
<text x="427.00" y="111.20" font-size="7.6" fill="#111" text-anchor="middle" font-weight="bold">Valence state</text>
<text x="427.00" y="120.20" font-size="7.6" fill="#111" text-anchor="middle" font-weight="bold">change</text>
<text x="457.50" y="95.00" font-size="7.2" fill="#d0703a" text-anchor="middle" font-weight="bold" transform="rotate(90 457.5 95)">Increased Cu<tspan dy="-0.4em" font-size="70%">+</tspan></text>
<text x="387.60" y="127.00" font-size="7.0" fill="#8a3a9a" text-anchor="middle" font-weight="bold" transform="rotate(90 387.6 127)">Increased Cu<tspan dy="-0.4em" font-size="70%">2+</tspan></text>
<text x="472.30" y="16.20" font-size="21" fill="#000" text-anchor="middle" font-weight="normal">c</text>
<polygon points="500.8,28.4 493.7,21.5 493.7,24.9 452.3,24.9 452.3,31.9 493.7,31.9 493.7,35.3" fill="#fff" stroke="#7c7c7c" stroke-width="1.05"/>
<polygon points="557.20,69.65 557.70,69.66 558.20,69.66 558.70,69.65 559.20,69.63 559.70,69.60 560.20,69.55 560.70,69.50 561.20,69.43 561.70,69.34 562.20,69.25 562.70,69.14 563.20,69.01 563.70,68.88 564.20,68.74 564.70,68.59 565.20,68.44 565.70,68.27 566.20,68.11 566.70,67.95 567.20,67.80 567.70,67.67 568.20,67.55 568.70,67.45 569.20,67.38 569.70,67.34 570.20,67.32 570.70,67.33 571.20,67.38 571.70,67.46 572.20,67.56 572.70,67.70 573.20,67.87 573.70,68.05 574.20,68.26 574.70,68.49 575.20,68.73 575.70,68.98 576.20,69.24 576.70,69.49 577.20,69.75 577.70,70.00 578.20,70.24 578.70,70.47 579.20,70.69 579.70,70.90 580.20,71.09 580.70,71.27 581.20,71.44 581.70,71.59 582.20,71.72 582.70,71.84 583.20,71.95 583.70,72.05 584.20,72.13 584.70,72.21 584.70,72.38 584.20,72.35 583.70,72.31 583.20,72.27 582.70,72.24 582.20,72.20 581.70,72.16 581.20,72.12 580.70,72.08 580.20,72.03 579.70,71.99 579.20,71.95 578.70,71.90 578.20,71.85 577.70,71.81 577.20,71.76 576.70,71.71 576.20,71.67 575.70,71.62 575.20,71.57 574.70,71.52 574.20,71.47 573.70,71.42 573.20,71.37 572.70,71.32 572.20,71.27 571.70,71.23 571.20,71.18 570.70,71.13 570.20,71.08 569.70,71.03 569.20,70.98 568.70,70.93 568.20,70.89 567.70,70.84 567.20,70.79 566.70,70.75 566.20,70.70 565.70,70.66 565.20,70.62 564.70,70.57 564.20,70.51 563.70,70.46 563.20,70.40 562.70,70.35 562.20,70.30 561.70,70.25 561.20,70.20 560.70,70.15 560.20,70.10 559.70,70.06 559.20,70.01 558.70,69.96 558.20,69.91 557.70,69.86 557.20,69.81" fill="url(#fPu)" stroke="none"/>
<polyline points="557.20,69.65 557.70,69.66 558.20,69.66 558.70,69.65 559.20,69.63 559.70,69.60 560.20,69.55 560.70,69.50 561.20,69.43 561.70,69.34 562.20,69.25 562.70,69.14 563.20,69.01 563.70,68.88 564.20,68.74 564.70,68.59 565.20,68.44 565.70,68.27 566.20,68.11 566.70,67.95 567.20,67.80 567.70,67.67 568.20,67.55 568.70,67.45 569.20,67.38 569.70,67.34 570.20,67.32 570.70,67.33 571.20,67.38 571.70,67.46 572.20,67.56 572.70,67.70 573.20,67.87 573.70,68.05 574.20,68.26 574.70,68.49 575.20,68.73 575.70,68.98 576.20,69.24 576.70,69.49 577.20,69.75 577.70,70.00 578.20,70.24 578.70,70.47 579.20,70.69 579.70,70.90 580.20,71.09 580.70,71.27 581.20,71.44 581.70,71.59 582.20,71.72 582.70,71.84 583.20,71.95 583.70,72.05 584.20,72.13 584.70,72.21" fill="none" stroke="#8b63d0" stroke-width="0.8" stroke-linejoin="round" />
<polygon points="571.20,70.99 571.70,70.89 572.20,70.70 572.70,70.37 573.20,69.86 573.70,69.11 574.20,68.10 574.70,66.81 575.20,65.27 575.70,63.55 576.20,61.78 576.70,60.10 577.20,58.71 577.70,57.75 578.20,57.37 578.70,57.60 579.20,58.43 579.70,59.76 580.20,61.43 580.70,63.28 581.20,65.13 581.70,66.84 582.20,68.33 582.70,69.54 583.20,70.47 583.70,71.16 584.20,71.64 584.70,71.97 585.20,72.18 585.20,72.42 584.70,72.38 584.20,72.35 583.70,72.31 583.20,72.27 582.70,72.24 582.20,72.20 581.70,72.16 581.20,72.12 580.70,72.08 580.20,72.03 579.70,71.99 579.20,71.95 578.70,71.90 578.20,71.85 577.70,71.81 577.20,71.76 576.70,71.71 576.20,71.67 575.70,71.62 575.20,71.57 574.70,71.52 574.20,71.47 573.70,71.42 573.20,71.37 572.70,71.32 572.20,71.27 571.70,71.23 571.20,71.18" fill="url(#fOr)" stroke="none"/>
<polyline points="571.20,70.99 571.70,70.89 572.20,70.70 572.70,70.37 573.20,69.86 573.70,69.11 574.20,68.10 574.70,66.81 575.20,65.27 575.70,63.55 576.20,61.78 576.70,60.10 577.20,58.71 577.70,57.75 578.20,57.37 578.70,57.60 579.20,58.43 579.70,59.76 580.20,61.43 580.70,63.28 581.20,65.13 581.70,66.84 582.20,68.33 582.70,69.54 583.20,70.47 583.70,71.16 584.20,71.64 584.70,71.97 585.20,72.18" fill="none" stroke="#f0a04c" stroke-width="0.8" stroke-linejoin="round" />
<polygon points="589.20,72.52 589.70,72.52 590.20,72.51 590.70,72.50 591.20,72.49 591.70,72.46 592.20,72.44 592.70,72.41 593.20,72.38 593.70,72.34 594.20,72.31 594.70,72.27 595.20,72.23 595.70,72.19 596.20,72.15 596.70,72.11 597.20,72.08 597.70,72.06 598.20,72.03 598.70,72.02 599.20,72.01 599.70,72.01 600.20,72.02 600.70,72.03 601.20,72.05 601.70,72.08 602.20,72.11 602.70,72.15 603.20,72.20 603.70,72.26 604.20,72.32 604.70,72.39 605.20,72.46 605.70,72.54 606.20,72.62 606.70,72.70 607.20,72.78 607.70,72.86 608.20,72.93 608.70,73.01 609.20,73.08 609.70,73.16 610.20,73.22 610.70,73.29 611.20,73.35 611.70,73.41 612.20,73.46 612.70,73.51 613.20,73.56 613.20,73.71 612.70,73.69 612.20,73.67 611.70,73.65 611.20,73.63 610.70,73.61 610.20,73.60 609.70,73.58 609.20,73.56 608.70,73.54 608.20,73.52 607.70,73.50 607.20,73.48 606.70,73.46 606.20,73.44 605.70,73.42 605.20,73.40 604.70,73.38 604.20,73.36 603.70,73.35 603.20,73.33 602.70,73.31 602.20,73.29 601.70,73.27 601.20,73.25 600.70,73.23 600.20,73.21 599.70,73.18 599.20,73.16 598.70,73.13 598.20,73.11 597.70,73.09 597.20,73.06 596.70,73.04 596.20,73.02 595.70,73.00 595.20,72.98 594.70,72.96 594.20,72.94 593.70,72.92 593.20,72.89 592.70,72.87 592.20,72.85 591.70,72.83 591.20,72.80 590.70,72.78 590.20,72.75 589.70,72.72 589.20,72.70" fill="url(#fGr)" stroke="none"/>
<polyline points="589.20,72.52 589.70,72.52 590.20,72.51 590.70,72.50 591.20,72.49 591.70,72.46 592.20,72.44 592.70,72.41 593.20,72.38 593.70,72.34 594.20,72.31 594.70,72.27 595.20,72.23 595.70,72.19 596.20,72.15 596.70,72.11 597.20,72.08 597.70,72.06 598.20,72.03 598.70,72.02 599.20,72.01 599.70,72.01 600.20,72.02 600.70,72.03 601.20,72.05 601.70,72.08 602.20,72.11 602.70,72.15 603.20,72.20 603.70,72.26 604.20,72.32 604.70,72.39 605.20,72.46 605.70,72.54 606.20,72.62 606.70,72.70 607.20,72.78 607.70,72.86 608.20,72.93 608.70,73.01 609.20,73.08 609.70,73.16 610.20,73.22 610.70,73.29 611.20,73.35 611.70,73.41 612.20,73.46 612.70,73.51 613.20,73.56" fill="none" stroke="#555" stroke-width="0.8" stroke-linejoin="round" />
<polygon points="613.70,73.57 614.20,73.54 614.70,73.51 615.20,73.46 615.70,73.39 616.20,73.31 616.70,73.22 617.20,73.10 617.70,72.95 618.20,72.79 618.70,72.59 619.20,72.36 619.70,72.10 620.20,71.81 620.70,71.49 621.20,71.13 621.70,70.75 622.20,70.33 622.70,69.89 623.20,69.43 623.70,68.94 624.20,68.45 624.70,67.96 625.20,67.46 625.70,66.98 626.20,66.52 626.70,66.09 627.20,65.69 627.70,65.34 628.20,65.05 628.70,64.82 629.20,64.65 629.70,64.55 630.20,64.52 630.70,64.57 631.20,64.70 631.70,64.89 632.20,65.15 632.70,65.48 633.20,65.86 633.70,66.29 634.20,66.76 634.70,67.26 635.20,67.78 635.70,68.32 636.20,68.87 636.70,69.42 637.20,69.95 637.70,70.47 638.20,70.97 638.70,71.44 639.20,71.89 639.70,72.30 640.20,72.68 640.70,73.02 641.20,73.33 641.70,73.60 642.20,73.85 642.70,74.06 643.20,74.25 643.70,74.42 644.20,74.56 644.70,74.68 645.20,74.79 645.70,74.87 646.20,74.95 646.70,75.01 646.70,75.20 646.20,75.18 645.70,75.17 645.20,75.16 644.70,75.14 644.20,75.13 643.70,75.11 643.20,75.10 642.70,75.08 642.20,75.07 641.70,75.05 641.20,75.04 640.70,75.02 640.20,75.01 639.70,74.99 639.20,74.97 638.70,74.95 638.20,74.92 637.70,74.90 637.20,74.88 636.70,74.86 636.20,74.83 635.70,74.81 635.20,74.78 634.70,74.76 634.20,74.73 633.70,74.71 633.20,74.68 632.70,74.66 632.20,74.63 631.70,74.60 631.20,74.58 630.70,74.55 630.20,74.52 629.70,74.50 629.20,74.47 628.70,74.44 628.20,74.42 627.70,74.39 627.20,74.36 626.70,74.34 626.20,74.31 625.70,74.28 625.20,74.26 624.70,74.23 624.20,74.20 623.70,74.18 623.20,74.15 622.70,74.13 622.20,74.10 621.70,74.08 621.20,74.06 620.70,74.03 620.20,74.01 619.70,73.99 619.20,73.96 618.70,73.94 618.20,73.92 617.70,73.90 617.20,73.88 616.70,73.86 616.20,73.84 615.70,73.81 615.20,73.79 614.70,73.77 614.20,73.75 613.70,73.73" fill="url(#fPu)" stroke="none"/>
<polyline points="613.70,73.57 614.20,73.54 614.70,73.51 615.20,73.46 615.70,73.39 616.20,73.31 616.70,73.22 617.20,73.10 617.70,72.95 618.20,72.79 618.70,72.59 619.20,72.36 619.70,72.10 620.20,71.81 620.70,71.49 621.20,71.13 621.70,70.75 622.20,70.33 622.70,69.89 623.20,69.43 623.70,68.94 624.20,68.45 624.70,67.96 625.20,67.46 625.70,66.98 626.20,66.52 626.70,66.09 627.20,65.69 627.70,65.34 628.20,65.05 628.70,64.82 629.20,64.65 629.70,64.55 630.20,64.52 630.70,64.57 631.20,64.70 631.70,64.89 632.20,65.15 632.70,65.48 633.20,65.86 633.70,66.29 634.20,66.76 634.70,67.26 635.20,67.78 635.70,68.32 636.20,68.87 636.70,69.42 637.20,69.95 637.70,70.47 638.20,70.97 638.70,71.44 639.20,71.89 639.70,72.30 640.20,72.68 640.70,73.02 641.20,73.33 641.70,73.60 642.20,73.85 642.70,74.06 643.20,74.25 643.70,74.42 644.20,74.56 644.70,74.68 645.20,74.79 645.70,74.87 646.20,74.95 646.70,75.01" fill="none" stroke="#8b63d0" stroke-width="0.8" stroke-linejoin="round" />
<polygon points="629.70,74.35 630.20,74.24 630.70,74.03 631.20,73.68 631.70,73.10 632.20,72.21 632.70,70.91 633.20,69.11 633.70,66.76 634.20,63.83 634.70,60.39 635.20,56.59 635.70,52.67 636.20,48.96 636.70,45.80 637.20,43.53 637.70,42.41 638.20,42.56 638.70,43.97 639.20,46.49 639.70,49.83 640.20,53.65 640.70,57.61 641.20,61.40 641.70,64.78 642.20,67.64 642.70,69.92 643.20,71.65 643.70,72.90 644.20,73.76 644.70,74.33 645.20,74.70 645.70,74.92 645.70,75.17 645.20,75.16 644.70,75.14 644.20,75.13 643.70,75.11 643.20,75.10 642.70,75.08 642.20,75.07 641.70,75.05 641.20,75.04 640.70,75.02 640.20,75.01 639.70,74.99 639.20,74.97 638.70,74.95 638.20,74.92 637.70,74.90 637.20,74.88 636.70,74.86 636.20,74.83 635.70,74.81 635.20,74.78 634.70,74.76 634.20,74.73 633.70,74.71 633.20,74.68 632.70,74.66 632.20,74.63 631.70,74.60 631.20,74.58 630.70,74.55 630.20,74.52 629.70,74.50" fill="url(#fOr)" stroke="none"/>
<polyline points="629.70,74.35 630.20,74.24 630.70,74.03 631.20,73.68 631.70,73.10 632.20,72.21 632.70,70.91 633.20,69.11 633.70,66.76 634.20,63.83 634.70,60.39 635.20,56.59 635.70,52.67 636.20,48.96 636.70,45.80 637.20,43.53 637.70,42.41 638.20,42.56 638.70,43.97 639.20,46.49 639.70,49.83 640.20,53.65 640.70,57.61 641.20,61.40 641.70,64.78 642.20,67.64 642.70,69.92 643.20,71.65 643.70,72.90 644.20,73.76 644.70,74.33 645.20,74.70 645.70,74.92" fill="none" stroke="#f0a04c" stroke-width="0.8" stroke-linejoin="round" />
<polyline points="529.20,58.00 529.70,58.23 530.20,58.52 530.70,58.86 531.20,59.24 531.70,59.65 532.20,60.09 532.70,60.54 533.20,60.99 533.70,61.44 534.20,61.87 534.70,62.27 535.20,62.62 535.70,62.93 536.20,63.23 536.70,63.54 537.20,63.84 537.70,64.15 538.20,64.45 538.70,64.74 539.20,65.03 539.70,65.31 540.20,65.59 540.70,65.86 541.20,66.11 541.70,66.36 542.20,66.58 542.70,66.78 543.20,66.96 543.70,67.15 544.20,67.32 544.70,67.49 545.20,67.65 545.70,67.81 546.20,67.96 546.70,68.11 547.20,68.25 547.70,68.39 548.20,68.53 548.70,68.66 549.20,68.79 549.70,68.92 550.20,69.03 550.70,69.09 551.20,69.16 551.70,69.22 552.20,69.28 552.70,69.34 553.20,69.40 553.70,69.45 554.20,69.51 554.70,69.56 555.20,69.61 555.70,69.66 556.20,69.72 556.70,69.77 557.20,69.81 557.70,69.86 558.20,69.91 558.70,69.96 559.20,70.01 559.70,70.06 560.20,70.10 560.70,70.15 561.20,70.20 561.70,70.25 562.20,70.30 562.70,70.35 563.20,70.40 563.70,70.46 564.20,70.51 564.70,70.57 565.20,70.62 565.70,70.66 566.20,70.70 566.70,70.75 567.20,70.79 567.70,70.84 568.20,70.89 568.70,70.93 569.20,70.98 569.70,71.03 570.20,71.08 570.70,71.13 571.20,71.18 571.70,71.23 572.20,71.27 572.70,71.32 573.20,71.37 573.70,71.42 574.20,71.47 574.70,71.52 575.20,71.57 575.70,71.62 576.20,71.67 576.70,71.71 577.20,71.76 577.70,71.81 578.20,71.85 578.70,71.90 579.20,71.95 579.70,71.99 580.20,72.03 580.70,72.08 581.20,72.12 581.70,72.16 582.20,72.20 582.70,72.24 583.20,72.27 583.70,72.31 584.20,72.35 584.70,72.38 585.20,72.42 585.70,72.46 586.20,72.50 586.70,72.54 587.20,72.57 587.70,72.60 588.20,72.64 588.70,72.67 589.20,72.70 589.70,72.72 590.20,72.75 590.70,72.78 591.20,72.80 591.70,72.83 592.20,72.85 592.70,72.87 593.20,72.89 593.70,72.92 594.20,72.94 594.70,72.96 595.20,72.98 595.70,73.00 596.20,73.02 596.70,73.04 597.20,73.06 597.70,73.09 598.20,73.11 598.70,73.13 599.20,73.16 599.70,73.18 600.20,73.21 600.70,73.23 601.20,73.25 601.70,73.27 602.20,73.29 602.70,73.31 603.20,73.33 603.70,73.35 604.20,73.36 604.70,73.38 605.20,73.40 605.70,73.42 606.20,73.44 606.70,73.46 607.20,73.48 607.70,73.50 608.20,73.52 608.70,73.54 609.20,73.56 609.70,73.58 610.20,73.60 610.70,73.61 611.20,73.63 611.70,73.65 612.20,73.67 612.70,73.69 613.20,73.71 613.70,73.73 614.20,73.75 614.70,73.77 615.20,73.79 615.70,73.81 616.20,73.84 616.70,73.86 617.20,73.88 617.70,73.90 618.20,73.92 618.70,73.94 619.20,73.96 619.70,73.99 620.20,74.01 620.70,74.03 621.20,74.06 621.70,74.08 622.20,74.10 622.70,74.13 623.20,74.15 623.70,74.18 624.20,74.20 624.70,74.23 625.20,74.26 625.70,74.28 626.20,74.31 626.70,74.34 627.20,74.36 627.70,74.39 628.20,74.42 628.70,74.44 629.20,74.47 629.70,74.50 630.20,74.52 630.70,74.55 631.20,74.58 631.70,74.60 632.20,74.63 632.70,74.66 633.20,74.68 633.70,74.71 634.20,74.73 634.70,74.76 635.20,74.78 635.70,74.81 636.20,74.83 636.70,74.86 637.20,74.88 637.70,74.90 638.20,74.92 638.70,74.95 639.20,74.97 639.70,74.99 640.20,75.01 640.70,75.02 641.20,75.04 641.70,75.05 642.20,75.07 642.70,75.08 643.20,75.10 643.70,75.11 644.20,75.13 644.70,75.14 645.20,75.16 645.70,75.17 646.20,75.18 646.70,75.20 647.20,75.21 647.70,75.23 648.20,75.24 648.70,75.25 649.20,75.27 649.70,75.28 650.20,75.29 650.70,75.31 651.20,75.32 651.70,75.33 652.20,75.34 652.70,75.36 653.20,75.37 653.70,75.38 654.20,75.39 654.70,75.40 655.20,75.41 655.70,75.42 656.20,75.44 656.70,75.45 657.20,75.46 657.70,75.47 658.20,75.48 658.70,75.49 659.20,75.50 659.70,75.51 660.20,75.51 660.70,75.52 661.20,75.53 661.70,75.54 662.20,75.55 662.70,75.56 663.20,75.56 663.70,75.57 664.20,75.58 664.70,75.58" fill="none" stroke="#8b63d0" stroke-width="0.8" stroke-linejoin="round" />
<polyline points="529.20,57.66 530.20,58.06 531.20,58.76 532.20,61.19 533.20,61.74 534.20,61.87 535.20,62.95 536.20,62.81 537.20,62.63 538.20,63.65 539.20,65.09 540.20,66.22 541.20,66.09 542.20,66.14 543.20,66.86 544.20,66.88 545.20,67.04 546.20,67.86 547.20,68.08 548.20,68.17 549.20,68.40 550.20,68.62 551.20,69.26 552.20,69.88 553.20,69.28 554.20,70.45 555.20,68.84 556.20,69.73 557.20,69.14 558.20,69.59 559.20,69.67 560.20,69.80 561.20,69.92 562.20,69.00 563.20,68.47 564.20,68.66 565.20,68.57 566.20,67.80 567.20,68.19 568.20,68.29 569.20,66.75 570.20,67.43 571.20,67.64 572.20,66.15 573.20,66.44 574.20,64.79 575.20,61.81 576.20,59.92 577.20,56.79 578.20,55.54 579.20,57.37 580.20,60.77 581.20,64.78 582.20,68.09 583.20,70.31 584.20,70.89 585.20,71.83 586.20,72.35 587.20,71.21 588.20,73.42 589.20,72.34 590.20,72.04 591.20,71.68 592.20,72.55 593.20,72.39 594.20,72.05 595.20,72.04 596.20,71.76 597.20,71.75 598.20,71.99 599.20,71.73 600.20,72.32 601.20,71.99 602.20,72.17 603.20,72.38 604.20,72.88 605.20,72.73 606.20,72.72 607.20,72.70 608.20,72.57 609.20,72.92 610.20,73.50 611.20,73.41 612.20,73.22 613.20,72.85 614.20,72.76 615.20,73.52 616.20,73.72 617.20,73.23 618.20,72.16 619.20,72.26 620.20,71.90 621.20,70.73 622.20,70.48 623.20,69.34 624.20,68.09 625.20,66.92 626.20,66.87 627.20,65.85 628.20,64.64 629.20,64.13 630.20,64.63 631.20,64.06 632.20,62.60 633.20,60.99 634.20,55.73 635.20,49.13 636.20,43.48 637.20,38.52 638.20,38.75 639.20,43.43 640.20,50.89 641.20,59.16 642.20,66.34 643.20,71.42 644.20,72.76 645.20,74.92 646.20,74.92 647.20,74.55 648.20,75.26 649.20,75.46 650.20,74.87 651.20,74.37 652.20,75.49 653.20,74.88 654.20,75.58 655.20,74.58 656.20,75.37 657.20,75.10 658.20,74.83 659.20,75.39 660.20,75.59 661.20,75.29 662.20,75.03 663.20,75.66 664.20,74.81" fill="none" stroke="#3a3a3a" stroke-width="0.6" stroke-linejoin="round" />
<polyline points="529.20,58.00 529.70,58.23 530.20,58.52 530.70,58.86 531.20,59.24 531.70,59.65 532.20,60.09 532.70,60.54 533.20,60.99 533.70,61.44 534.20,61.87 534.70,62.27 535.20,62.62 535.70,62.93 536.20,63.23 536.70,63.54 537.20,63.84 537.70,64.15 538.20,64.45 538.70,64.74 539.20,65.03 539.70,65.31 540.20,65.59 540.70,65.86 541.20,66.11 541.70,66.36 542.20,66.58 542.70,66.78 543.20,66.96 543.70,67.15 544.20,67.32 544.70,67.49 545.20,67.65 545.70,67.81 546.20,67.96 546.70,68.11 547.20,68.25 547.70,68.39 548.20,68.53 548.70,68.66 549.20,68.79 549.70,68.92 550.20,69.02 550.70,69.09 551.20,69.15 551.70,69.21 552.20,69.27 552.70,69.32 553.20,69.38 553.70,69.43 554.20,69.47 554.70,69.51 555.20,69.55 555.70,69.59 556.20,69.61 556.70,69.64 557.20,69.65 557.70,69.66 558.20,69.66 558.70,69.65 559.20,69.63 559.70,69.60 560.20,69.55 560.70,69.50 561.20,69.43 561.70,69.34 562.20,69.25 562.70,69.14 563.20,69.01 563.70,68.88 564.20,68.74 564.70,68.59 565.20,68.44 565.70,68.27 566.20,68.11 566.70,67.95 567.20,67.80 567.70,67.67 568.20,67.55 568.70,67.45 569.20,67.37 569.70,67.31 570.20,67.27 570.70,67.24 571.20,67.20 571.70,67.13 572.20,66.99 572.70,66.75 573.20,66.35 573.70,65.74 574.20,64.89 574.70,63.78 575.20,62.43 575.70,60.92 576.20,59.35 576.70,57.88 577.20,56.69 577.70,55.94 578.20,55.75 578.70,56.17 579.20,57.18 579.70,58.67 580.20,60.49 580.70,62.47 581.20,64.44 581.70,66.26 582.20,67.84 582.70,69.13 583.20,70.13 583.70,70.87 584.20,71.40 584.70,71.77 585.20,72.01 585.70,72.18 586.20,72.29 586.70,72.37 587.20,72.42 587.70,72.46 588.20,72.48 588.70,72.50 589.20,72.51 589.70,72.51 590.20,72.51 590.70,72.50 591.20,72.48 591.70,72.46 592.20,72.44 592.70,72.41 593.20,72.38 593.70,72.34 594.20,72.30 594.70,72.27 595.20,72.23 595.70,72.19 596.20,72.15 596.70,72.11 597.20,72.08 597.70,72.06 598.20,72.03 598.70,72.02 599.20,72.01 599.70,72.01 600.20,72.02 600.70,72.03 601.20,72.05 601.70,72.08 602.20,72.11 602.70,72.15 603.20,72.20 603.70,72.26 604.20,72.32 604.70,72.39 605.20,72.46 605.70,72.54 606.20,72.62 606.70,72.69 607.20,72.77 607.70,72.85 608.20,72.93 608.70,73.00 609.20,73.07 609.70,73.14 610.20,73.20 610.70,73.26 611.20,73.31 611.70,73.35 612.20,73.39 612.70,73.41 613.20,73.43 613.70,73.44 614.20,73.43 614.70,73.42 615.20,73.38 615.70,73.33 616.20,73.27 616.70,73.18 617.20,73.07 617.70,72.93 618.20,72.77 618.70,72.57 619.20,72.35 619.70,72.09 620.20,71.81 620.70,71.48 621.20,71.13 621.70,70.74 622.20,70.33 622.70,69.89 623.20,69.42 623.70,68.94 624.20,68.45 624.70,67.95 625.20,67.46 625.70,66.98 626.20,66.52 626.70,66.09 627.20,65.69 627.70,65.34 628.20,65.03 628.70,64.78 629.20,64.57 629.70,64.40 630.20,64.24 630.70,64.06 631.20,63.80 631.70,63.38 632.20,62.73 632.70,61.73 633.20,60.29 633.70,58.34 634.20,55.85 634.70,52.89 635.20,49.59 635.70,46.19 636.20,43.00 636.70,40.36 637.20,38.60 637.70,37.97 638.20,38.60 638.70,40.47 639.20,43.41 639.70,47.14 640.20,51.32 640.70,55.61 641.20,59.68 641.70,63.33 642.20,66.42 642.70,68.90 643.20,70.81 643.70,72.21 644.20,73.20 644.70,73.88 645.20,74.33 645.70,74.62 646.20,74.82 646.70,74.95 647.20,75.04 647.70,75.10 648.20,75.15 648.70,75.18 649.20,75.22 649.70,75.24 650.20,75.26 650.70,75.28 651.20,75.30 651.70,75.32 652.20,75.34 652.70,75.35 653.20,75.36 653.70,75.38 654.20,75.39 654.70,75.40 655.20,75.41 655.70,75.42 656.20,75.43 656.70,75.45 657.20,75.46 657.70,75.47 658.20,75.48 658.70,75.49 659.20,75.50 659.70,75.51 660.20,75.51 660.70,75.52 661.20,75.53 661.70,75.54 662.20,75.55 662.70,75.56 663.20,75.56 663.70,75.57 664.20,75.58 664.70,75.58" fill="none" stroke="#555" stroke-width="0.5" stroke-linejoin="round" />
<polygon points="533.60,98.94 534.10,98.94 534.60,98.93 535.10,98.89 535.60,98.83 536.10,98.74 536.60,98.62 537.10,98.46 537.60,98.27 538.10,98.03 538.60,97.76 539.10,97.44 539.60,97.09 540.10,96.71 540.60,96.30 541.10,95.88 541.60,95.45 542.10,95.03 542.60,94.62 543.10,94.26 543.60,93.93 544.10,93.67 544.60,93.48 545.10,93.37 545.60,93.35 546.10,93.41 546.60,93.54 547.10,93.76 547.60,94.05 548.10,94.42 548.60,94.86 549.10,95.35 549.60,95.87 550.10,96.43 550.60,97.00 551.10,97.57 551.60,98.13 552.10,98.67 552.60,99.18 553.10,99.66 553.60,100.11 554.10,100.52 554.60,100.89 555.10,101.22 555.60,101.52 556.10,101.79 556.60,102.02 557.10,102.23 557.60,102.42 558.10,102.59 558.60,102.75 558.60,102.93 558.10,102.83 557.60,102.73 557.10,102.64 556.60,102.55 556.10,102.46 555.60,102.37 555.10,102.28 554.60,102.19 554.10,102.11 553.60,102.02 553.10,101.94 552.60,101.86 552.10,101.78 551.60,101.70 551.10,101.62 550.60,101.55 550.10,101.47 549.60,101.40 549.10,101.32 548.60,101.25 548.10,101.18 547.60,101.11 547.10,101.04 546.60,100.98 546.10,100.91 545.60,100.82 545.10,100.73 544.60,100.64 544.10,100.56 543.60,100.48 543.10,100.40 542.60,100.33 542.10,100.26 541.60,100.19 541.10,100.13 540.60,100.06 540.10,100.00 539.60,99.94 539.10,99.88 538.60,99.81 538.10,99.75 537.60,99.68 537.10,99.61 536.60,99.55 536.10,99.48 535.60,99.41 535.10,99.35 534.60,99.28 534.10,99.20 533.60,99.13" fill="url(#fGr)" stroke="none"/>
<polyline points="533.60,98.94 534.10,98.94 534.60,98.93 535.10,98.89 535.60,98.83 536.10,98.74 536.60,98.62 537.10,98.46 537.60,98.27 538.10,98.03 538.60,97.76 539.10,97.44 539.60,97.09 540.10,96.71 540.60,96.30 541.10,95.88 541.60,95.45 542.10,95.03 542.60,94.62 543.10,94.26 543.60,93.93 544.10,93.67 544.60,93.48 545.10,93.37 545.60,93.35 546.10,93.41 546.60,93.54 547.10,93.76 547.60,94.05 548.10,94.42 548.60,94.86 549.10,95.35 549.60,95.87 550.10,96.43 550.60,97.00 551.10,97.57 551.60,98.13 552.10,98.67 552.60,99.18 553.10,99.66 553.60,100.11 554.10,100.52 554.60,100.89 555.10,101.22 555.60,101.52 556.10,101.79 556.60,102.02 557.10,102.23 557.60,102.42 558.10,102.59 558.60,102.75" fill="none" stroke="#555" stroke-width="0.8" stroke-linejoin="round" />
<polygon points="573.60,107.06 574.10,107.19 574.60,107.26 575.10,107.26 575.60,107.20 576.10,107.05 576.60,106.85 577.10,106.61 577.60,106.37 578.10,106.17 578.60,106.07 579.10,106.11 579.60,106.31 580.10,106.67 580.60,107.19 581.10,107.84 581.60,108.57 582.10,109.33 582.60,110.07 583.10,110.76 583.60,111.38 584.10,111.92 584.60,112.38 585.10,112.78 585.60,113.12 585.60,113.28 585.10,113.04 584.60,112.80 584.10,112.56 583.60,112.31 583.10,112.06 582.60,111.80 582.10,111.55 581.60,111.30 581.10,111.04 580.60,110.80 580.10,110.55 579.60,110.30 579.10,110.05 578.60,109.80 578.10,109.55 577.60,109.29 577.10,109.04 576.60,108.78 576.10,108.52 575.60,108.26 575.10,108.01 574.60,107.76 574.10,107.51 573.60,107.26" fill="url(#fOr)" stroke="none"/>
<polyline points="573.60,107.06 574.10,107.19 574.60,107.26 575.10,107.26 575.60,107.20 576.10,107.05 576.60,106.85 577.10,106.61 577.60,106.37 578.10,106.17 578.60,106.07 579.10,106.11 579.60,106.31 580.10,106.67 580.60,107.19 581.10,107.84 581.60,108.57 582.10,109.33 582.60,110.07 583.10,110.76 583.60,111.38 584.10,111.92 584.60,112.38 585.10,112.78 585.60,113.12" fill="none" stroke="#f0a04c" stroke-width="0.8" stroke-linejoin="round" />
<polygon points="558.10,102.66 558.60,102.69 559.10,102.70 559.60,102.69 560.10,102.64 560.60,102.58 561.10,102.48 561.60,102.33 562.10,102.13 562.60,101.87 563.10,101.55 563.60,101.17 564.10,100.74 564.60,100.25 565.10,99.72 565.60,99.16 566.10,98.58 566.60,98.01 567.10,97.45 567.60,96.94 568.10,96.50 568.60,96.14 569.10,95.89 569.60,95.75 570.10,95.75 570.60,95.89 571.10,96.16 571.60,96.57 572.10,97.11 572.60,97.83 573.10,98.64 573.60,99.53 574.10,100.46 574.60,101.42 575.10,102.40 575.60,103.35 576.10,104.28 576.60,105.17 577.10,106.01 577.60,106.78 578.10,107.50 578.60,108.15 579.10,108.74 579.60,109.27 580.10,109.75 580.60,110.18 581.10,110.58 581.60,110.95 582.10,111.30 582.60,111.62 582.60,111.80 582.10,111.55 581.60,111.30 581.10,111.04 580.60,110.80 580.10,110.55 579.60,110.30 579.10,110.05 578.60,109.80 578.10,109.55 577.60,109.29 577.10,109.04 576.60,108.78 576.10,108.52 575.60,108.26 575.10,108.01 574.60,107.76 574.10,107.51 573.60,107.26 573.10,107.02 572.60,106.78 572.10,106.55 571.60,106.38 571.10,106.23 570.60,106.08 570.10,105.93 569.60,105.78 569.10,105.63 568.60,105.49 568.10,105.34 567.60,105.20 567.10,105.05 566.60,104.91 566.10,104.77 565.60,104.63 565.10,104.50 564.60,104.36 564.10,104.23 563.60,104.09 563.10,103.96 562.60,103.84 562.10,103.71 561.60,103.58 561.10,103.46 560.60,103.34 560.10,103.22 559.60,103.12 559.10,103.02 558.60,102.93 558.10,102.83" fill="url(#fPu)" stroke="none"/>
<polyline points="558.10,102.66 558.60,102.69 559.10,102.70 559.60,102.69 560.10,102.64 560.60,102.58 561.10,102.48 561.60,102.33 562.10,102.13 562.60,101.87 563.10,101.55 563.60,101.17 564.10,100.74 564.60,100.25 565.10,99.72 565.60,99.16 566.10,98.58 566.60,98.01 567.10,97.45 567.60,96.94 568.10,96.50 568.60,96.14 569.10,95.89 569.60,95.75 570.10,95.75 570.60,95.89 571.10,96.16 571.60,96.57 572.10,97.11 572.60,97.83 573.10,98.64 573.60,99.53 574.10,100.46 574.60,101.42 575.10,102.40 575.60,103.35 576.10,104.28 576.60,105.17 577.10,106.01 577.60,106.78 578.10,107.50 578.60,108.15 579.10,108.74 579.60,109.27 580.10,109.75 580.60,110.18 581.10,110.58 581.60,110.95 582.10,111.30 582.60,111.62" fill="none" stroke="#8b63d0" stroke-width="0.8" stroke-linejoin="round" />
<polygon points="591.60,114.96 592.10,115.00 592.60,115.02 593.10,115.02 593.60,114.98 594.10,114.92 594.60,114.81 595.10,114.66 595.60,114.46 596.10,114.20 596.60,113.89 597.10,113.52 597.60,113.08 598.10,112.59 598.60,112.04 599.10,111.45 599.60,110.81 600.10,110.15 600.60,109.46 601.10,108.78 601.60,108.12 602.10,107.51 602.60,106.97 603.10,106.50 603.60,106.14 604.10,105.90 604.60,105.78 605.10,105.79 605.60,105.94 606.10,106.21 606.60,106.61 607.10,107.12 607.60,107.72 608.10,108.41 608.60,109.15 609.10,109.93 609.60,110.72 610.10,111.52 610.60,112.30 611.10,113.06 611.60,113.76 612.10,114.42 612.60,115.03 613.10,115.57 613.60,116.06 614.10,116.49 614.60,116.86 615.10,117.19 615.60,117.48 616.10,117.72 616.60,117.93 617.10,118.11 617.60,118.26 618.10,118.39 618.10,118.59 617.60,118.52 617.10,118.46 616.60,118.40 616.10,118.34 615.60,118.28 615.10,118.21 614.60,118.16 614.10,118.10 613.60,118.05 613.10,117.99 612.60,117.94 612.10,117.89 611.60,117.84 611.10,117.79 610.60,117.74 610.10,117.69 609.60,117.64 609.10,117.59 608.60,117.54 608.10,117.49 607.60,117.44 607.10,117.39 606.60,117.34 606.10,117.29 605.60,117.24 605.10,117.19 604.60,117.14 604.10,117.08 603.60,117.03 603.10,116.97 602.60,116.92 602.10,116.86 601.60,116.80 601.10,116.74 600.60,116.68 600.10,116.61 599.60,116.54 599.10,116.45 598.60,116.37 598.10,116.29 597.60,116.21 597.10,116.13 596.60,116.04 596.10,115.96 595.60,115.87 595.10,115.78 594.60,115.70 594.10,115.61 593.60,115.51 593.10,115.42 592.60,115.32 592.10,115.22 591.60,115.12" fill="url(#fGr)" stroke="none"/>
<polyline points="591.60,114.96 592.10,115.00 592.60,115.02 593.10,115.02 593.60,114.98 594.10,114.92 594.60,114.81 595.10,114.66 595.60,114.46 596.10,114.20 596.60,113.89 597.10,113.52 597.60,113.08 598.10,112.59 598.60,112.04 599.10,111.45 599.60,110.81 600.10,110.15 600.60,109.46 601.10,108.78 601.60,108.12 602.10,107.51 602.60,106.97 603.10,106.50 603.60,106.14 604.10,105.90 604.60,105.78 605.10,105.79 605.60,105.94 606.10,106.21 606.60,106.61 607.10,107.12 607.60,107.72 608.10,108.41 608.60,109.15 609.10,109.93 609.60,110.72 610.10,111.52 610.60,112.30 611.10,113.06 611.60,113.76 612.10,114.42 612.60,115.03 613.10,115.57 613.60,116.06 614.10,116.49 614.60,116.86 615.10,117.19 615.60,117.48 616.10,117.72 616.60,117.93 617.10,118.11 617.60,118.26 618.10,118.39" fill="none" stroke="#555" stroke-width="0.8" stroke-linejoin="round" />
<polygon points="632.60,120.98 633.10,120.97 633.60,120.87 634.10,120.62 634.60,120.20 635.10,119.57 635.60,118.73 636.10,117.70 636.60,116.55 637.10,115.40 637.60,114.40 638.10,113.69 638.60,113.39 639.10,113.57 639.60,114.21 640.10,115.25 640.60,116.57 641.10,118.00 641.60,119.41 642.10,120.69 642.60,121.77 643.10,122.63 643.60,123.28 644.10,123.76 644.60,124.11 645.10,124.37 645.10,124.53 644.60,124.41 644.10,124.29 643.60,124.16 643.10,124.03 642.60,123.90 642.10,123.77 641.60,123.64 641.10,123.50 640.60,123.37 640.10,123.23 639.60,123.11 639.10,122.98 638.60,122.85 638.10,122.72 637.60,122.59 637.10,122.45 636.60,122.31 636.10,122.17 635.60,122.03 635.10,121.88 634.60,121.74 634.10,121.59 633.60,121.45 633.10,121.30 632.60,121.16" fill="url(#fOr)" stroke="none"/>
<polyline points="632.60,120.98 633.10,120.97 633.60,120.87 634.10,120.62 634.60,120.20 635.10,119.57 635.60,118.73 636.10,117.70 636.60,116.55 637.10,115.40 637.60,114.40 638.10,113.69 638.60,113.39 639.10,113.57 639.60,114.21 640.10,115.25 640.60,116.57 641.10,118.00 641.60,119.41 642.10,120.69 642.60,121.77 643.10,122.63 643.60,123.28 644.10,123.76 644.60,124.11 645.10,124.37" fill="none" stroke="#f0a04c" stroke-width="0.8" stroke-linejoin="round" />
<polygon points="616.10,118.15 616.60,118.13 617.10,118.08 617.60,117.99 618.10,117.85 618.60,117.65 619.10,117.38 619.60,117.02 620.10,116.56 620.60,115.98 621.10,115.26 621.60,114.41 622.10,113.39 622.60,112.21 623.10,110.88 623.60,109.38 624.10,107.75 624.60,106.00 625.10,104.17 625.60,102.29 626.10,100.42 626.60,98.60 627.10,96.90 627.60,95.36 628.10,94.06 628.60,93.04 629.10,92.33 629.60,91.98 630.10,91.99 630.60,92.38 631.10,93.12 631.60,94.21 632.10,95.59 632.60,97.23 633.10,99.07 633.60,101.05 634.10,103.13 634.60,105.24 635.10,107.32 635.60,109.35 636.10,111.27 636.60,113.06 637.10,114.70 637.60,116.18 638.10,117.49 638.60,118.63 639.10,119.62 639.60,120.47 640.10,121.18 640.60,121.80 641.10,122.32 641.60,122.76 642.10,123.12 642.60,123.43 643.10,123.69 643.60,123.92 644.10,124.12 644.10,124.29 643.60,124.16 643.10,124.03 642.60,123.90 642.10,123.77 641.60,123.64 641.10,123.50 640.60,123.37 640.10,123.23 639.60,123.11 639.10,122.98 638.60,122.85 638.10,122.72 637.60,122.59 637.10,122.45 636.60,122.31 636.10,122.17 635.60,122.03 635.10,121.88 634.60,121.74 634.10,121.59 633.60,121.45 633.10,121.30 632.60,121.16 632.10,121.02 631.60,120.88 631.10,120.75 630.60,120.61 630.10,120.49 629.60,120.36 629.10,120.24 628.60,120.13 628.10,120.02 627.60,119.92 627.10,119.83 626.60,119.75 626.10,119.66 625.60,119.58 625.10,119.50 624.60,119.42 624.10,119.35 623.60,119.28 623.10,119.21 622.60,119.14 622.10,119.08 621.60,119.01 621.10,118.95 620.60,118.89 620.10,118.83 619.60,118.77 619.10,118.71 618.60,118.65 618.10,118.59 617.60,118.52 617.10,118.46 616.60,118.40 616.10,118.34" fill="url(#fPu)" stroke="none"/>
<polyline points="616.10,118.15 616.60,118.13 617.10,118.08 617.60,117.99 618.10,117.85 618.60,117.65 619.10,117.38 619.60,117.02 620.10,116.56 620.60,115.98 621.10,115.26 621.60,114.41 622.10,113.39 622.60,112.21 623.10,110.88 623.60,109.38 624.10,107.75 624.60,106.00 625.10,104.17 625.60,102.29 626.10,100.42 626.60,98.60 627.10,96.90 627.60,95.36 628.10,94.06 628.60,93.04 629.10,92.33 629.60,91.98 630.10,91.99 630.60,92.38 631.10,93.12 631.60,94.21 632.10,95.59 632.60,97.23 633.10,99.07 633.60,101.05 634.10,103.13 634.60,105.24 635.10,107.32 635.60,109.35 636.10,111.27 636.60,113.06 637.10,114.70 637.60,116.18 638.10,117.49 638.60,118.63 639.10,119.62 639.60,120.47 640.10,121.18 640.60,121.80 641.10,122.32 641.60,122.76 642.10,123.12 642.60,123.43 643.10,123.69 643.60,123.92 644.10,124.12" fill="none" stroke="#8b63d0" stroke-width="0.8" stroke-linejoin="round" />
<polyline points="527.10,98.40 527.60,98.43 528.10,98.47 528.60,98.52 529.10,98.56 529.60,98.62 530.10,98.67 530.60,98.73 531.10,98.79 531.60,98.86 532.10,98.93 532.60,98.99 533.10,99.06 533.60,99.13 534.10,99.20 534.60,99.28 535.10,99.35 535.60,99.41 536.10,99.48 536.60,99.55 537.10,99.61 537.60,99.68 538.10,99.75 538.60,99.81 539.10,99.88 539.60,99.94 540.10,100.00 540.60,100.06 541.10,100.13 541.60,100.19 542.10,100.26 542.60,100.33 543.10,100.40 543.60,100.48 544.10,100.56 544.60,100.64 545.10,100.73 545.60,100.82 546.10,100.91 546.60,100.98 547.10,101.04 547.60,101.11 548.10,101.18 548.60,101.25 549.10,101.32 549.60,101.40 550.10,101.47 550.60,101.55 551.10,101.62 551.60,101.70 552.10,101.78 552.60,101.86 553.10,101.94 553.60,102.02 554.10,102.11 554.60,102.19 555.10,102.28 555.60,102.37 556.10,102.46 556.60,102.55 557.10,102.64 557.60,102.73 558.10,102.83 558.60,102.93 559.10,103.02 559.60,103.12 560.10,103.22 560.60,103.34 561.10,103.46 561.60,103.58 562.10,103.71 562.60,103.84 563.10,103.96 563.60,104.09 564.10,104.23 564.60,104.36 565.10,104.50 565.60,104.63 566.10,104.77 566.60,104.91 567.10,105.05 567.60,105.20 568.10,105.34 568.60,105.49 569.10,105.63 569.60,105.78 570.10,105.93 570.60,106.08 571.10,106.23 571.60,106.38 572.10,106.55 572.60,106.78 573.10,107.02 573.60,107.26 574.10,107.51 574.60,107.76 575.10,108.01 575.60,108.26 576.10,108.52 576.60,108.78 577.10,109.04 577.60,109.29 578.10,109.55 578.60,109.80 579.10,110.05 579.60,110.30 580.10,110.55 580.60,110.80 581.10,111.04 581.60,111.30 582.10,111.55 582.60,111.80 583.10,112.06 583.60,112.31 584.10,112.56 584.60,112.80 585.10,113.04 585.60,113.28 586.10,113.51 586.60,113.73 587.10,113.94 587.60,114.14 588.10,114.33 588.60,114.45 589.10,114.57 589.60,114.69 590.10,114.80 590.60,114.91 591.10,115.02 591.60,115.12 592.10,115.22 592.60,115.32 593.10,115.42 593.60,115.51 594.10,115.61 594.60,115.70 595.10,115.78 595.60,115.87 596.10,115.96 596.60,116.04 597.10,116.13 597.60,116.21 598.10,116.29 598.60,116.37 599.10,116.45 599.60,116.54 600.10,116.61 600.60,116.68 601.10,116.74 601.60,116.80 602.10,116.86 602.60,116.92 603.10,116.97 603.60,117.03 604.10,117.08 604.60,117.14 605.10,117.19 605.60,117.24 606.10,117.29 606.60,117.34 607.10,117.39 607.60,117.44 608.10,117.49 608.60,117.54 609.10,117.59 609.60,117.64 610.10,117.69 610.60,117.74 611.10,117.79 611.60,117.84 612.10,117.89 612.60,117.94 613.10,117.99 613.60,118.05 614.10,118.10 614.60,118.16 615.10,118.21 615.60,118.28 616.10,118.34 616.60,118.40 617.10,118.46 617.60,118.52 618.10,118.59 618.60,118.65 619.10,118.71 619.60,118.77 620.10,118.83 620.60,118.89 621.10,118.95 621.60,119.01 622.10,119.08 622.60,119.14 623.10,119.21 623.60,119.28 624.10,119.35 624.60,119.42 625.10,119.50 625.60,119.58 626.10,119.66 626.60,119.75 627.10,119.83 627.60,119.92 628.10,120.02 628.60,120.13 629.10,120.24 629.60,120.36 630.10,120.49 630.60,120.61 631.10,120.75 631.60,120.88 632.10,121.02 632.60,121.16 633.10,121.30 633.60,121.45 634.10,121.59 634.60,121.74 635.10,121.88 635.60,122.03 636.10,122.17 636.60,122.31 637.10,122.45 637.60,122.59 638.10,122.72 638.60,122.85 639.10,122.98 639.60,123.11 640.10,123.23 640.60,123.37 641.10,123.50 641.60,123.64 642.10,123.77 642.60,123.90 643.10,124.03 643.60,124.16 644.10,124.29 644.60,124.41 645.10,124.53 645.60,124.65 646.10,124.77 646.60,124.88 647.10,124.99 647.60,125.10 648.10,125.21 648.60,125.32 649.10,125.42 649.60,125.52 650.10,125.62 650.60,125.70 651.10,125.78 651.60,125.86 652.10,125.94 652.60,126.01 653.10,126.09 653.60,126.16 654.10,126.24 654.60,126.31 655.10,126.38 655.60,126.45 656.10,126.51 656.60,126.58 657.10,126.64 657.60,126.70 658.10,126.76 658.60,126.81 659.10,126.86 659.60,126.91 660.10,126.96 660.60,127.00 661.10,127.04 661.60,127.07 662.10,127.10" fill="none" stroke="#444" stroke-width="0.8" stroke-linejoin="round" />
<polyline points="527.10,98.61 528.10,98.66 529.10,99.21 530.10,99.00 531.10,98.89 532.10,98.95 533.10,98.93 534.10,98.43 535.10,99.46 536.10,98.95 537.10,98.35 538.10,97.59 539.10,98.02 540.10,96.91 541.10,95.42 542.10,95.29 543.10,94.99 544.10,93.66 545.10,93.53 546.10,93.25 547.10,93.51 548.10,94.84 549.10,96.54 550.10,96.47 551.10,97.52 552.10,98.97 553.10,99.54 554.10,100.79 555.10,101.53 556.10,101.35 557.10,101.73 558.10,102.39 559.10,102.89 560.10,102.68 561.10,102.93 562.10,101.57 563.10,101.73 564.10,100.49 565.10,99.76 566.10,98.71 567.10,97.08 568.10,96.41 569.10,95.44 570.10,95.85 571.10,95.82 572.10,96.89 573.10,98.61 574.10,99.89 575.10,102.10 576.10,102.57 577.10,103.91 578.10,104.23 579.10,104.39 580.10,105.79 581.10,107.06 582.10,108.93 583.10,110.52 584.10,112.56 585.10,112.59 586.10,114.01 587.10,114.08 588.10,113.80 589.10,113.64 590.10,115.00 591.10,114.13 592.10,115.28 593.10,115.42 594.10,115.07 595.10,114.58 596.10,114.11 597.10,113.62 598.10,112.47 599.10,111.24 600.10,110.01 601.10,109.23 602.10,107.27 603.10,106.65 604.10,105.45 605.10,105.51 606.10,105.68 607.10,107.04 608.10,108.67 609.10,110.04 610.10,111.33 611.10,113.29 612.10,114.28 613.10,115.70 614.10,116.55 615.10,117.31 616.10,116.57 617.10,117.21 618.10,117.95 619.10,117.23 620.10,117.38 621.10,115.15 622.10,113.17 623.10,111.45 624.10,107.97 625.10,104.90 626.10,100.62 627.10,96.82 628.10,94.34 629.10,92.03 630.10,91.82 631.10,92.89 632.10,95.41 633.10,99.04 634.10,101.97 635.10,105.14 636.10,106.60 637.10,107.99 638.10,107.39 639.10,110.13 640.10,113.27 641.10,116.40 642.10,120.43 643.10,122.37 644.10,124.09 645.10,124.67 646.10,124.94 647.10,124.91 648.10,124.78 649.10,125.33 650.10,125.44 651.10,125.87 652.10,125.76 653.10,127.27 654.10,125.62 655.10,126.83 656.10,126.33 657.10,126.55 658.10,127.11 659.10,126.86 660.10,126.49 661.10,127.20 662.10,127.02" fill="none" stroke="#3a3a3a" stroke-width="0.6" stroke-linejoin="round" />
<polyline points="527.10,98.40 527.60,98.43 528.10,98.47 528.60,98.51 529.10,98.55 529.60,98.60 530.10,98.65 530.60,98.70 531.10,98.75 531.60,98.80 532.10,98.85 532.60,98.89 533.10,98.92 533.60,98.94 534.10,98.94 534.60,98.93 535.10,98.89 535.60,98.83 536.10,98.74 536.60,98.62 537.10,98.46 537.60,98.27 538.10,98.03 538.60,97.76 539.10,97.44 539.60,97.09 540.10,96.71 540.60,96.30 541.10,95.88 541.60,95.45 542.10,95.03 542.60,94.62 543.10,94.26 543.60,93.93 544.10,93.67 544.60,93.48 545.10,93.37 545.60,93.35 546.10,93.41 546.60,93.54 547.10,93.76 547.60,94.05 548.10,94.42 548.60,94.86 549.10,95.35 549.60,95.87 550.10,96.43 550.60,97.00 551.10,97.57 551.60,98.12 552.10,98.66 552.60,99.18 553.10,99.66 553.60,100.10 554.10,100.51 554.60,100.88 555.10,101.20 555.60,101.49 556.10,101.75 556.60,101.96 557.10,102.15 557.60,102.30 558.10,102.42 558.60,102.51 559.10,102.57 559.60,102.59 560.10,102.58 560.60,102.53 561.10,102.44 561.60,102.30 562.10,102.11 562.60,101.86 563.10,101.54 563.60,101.17 564.10,100.74 564.60,100.25 565.10,99.72 565.60,99.16 566.10,98.58 566.60,98.01 567.10,97.45 567.60,96.94 568.10,96.50 568.60,96.14 569.10,95.89 569.60,95.75 570.10,95.75 570.60,95.88 571.10,96.15 571.60,96.55 572.10,97.08 572.60,97.77 573.10,98.53 573.60,99.33 574.10,100.14 574.60,100.93 575.10,101.65 575.60,102.29 576.10,102.82 576.60,103.24 577.10,103.58 577.60,103.86 578.10,104.12 578.60,104.42 579.10,104.79 579.60,105.27 580.10,105.87 580.60,106.58 581.10,107.38 581.60,108.23 582.10,109.07 582.60,109.88 583.10,110.63 583.60,111.29 584.10,111.85 584.60,112.34 585.10,112.75 585.60,113.10 586.10,113.40 586.60,113.66 587.10,113.90 587.60,114.12 588.10,114.30 588.60,114.43 589.10,114.54 589.60,114.64 590.10,114.74 590.60,114.83 591.10,114.90 591.60,114.96 592.10,115.00 592.60,115.02 593.10,115.02 593.60,114.98 594.10,114.92 594.60,114.81 595.10,114.66 595.60,114.46 596.10,114.20 596.60,113.89 597.10,113.52 597.60,113.08 598.10,112.59 598.60,112.04 599.10,111.45 599.60,110.81 600.10,110.15 600.60,109.46 601.10,108.78 601.60,108.12 602.10,107.51 602.60,106.97 603.10,106.50 603.60,106.14 604.10,105.90 604.60,105.78 605.10,105.79 605.60,105.94 606.10,106.21 606.60,106.61 607.10,107.12 607.60,107.72 608.10,108.41 608.60,109.15 609.10,109.93 609.60,110.72 610.10,111.52 610.60,112.30 611.10,113.05 611.60,113.76 612.10,114.42 612.60,115.02 613.10,115.56 613.60,116.03 614.10,116.45 614.60,116.80 615.10,117.10 615.60,117.34 616.10,117.53 616.60,117.65 617.10,117.72 617.60,117.72 618.10,117.65 618.60,117.51 619.10,117.28 619.60,116.95 620.10,116.51 620.60,115.94 621.10,115.24 621.60,114.39 622.10,113.38 622.60,112.21 623.10,110.87 623.60,109.38 624.10,107.75 624.60,106.00 625.10,104.17 625.60,102.29 626.10,100.42 626.60,98.60 627.10,96.90 627.60,95.36 628.10,94.06 628.60,93.04 629.10,92.33 629.60,91.98 630.10,91.99 630.60,92.37 631.10,93.10 631.60,94.16 632.10,95.50 632.60,97.05 633.10,98.74 633.60,100.47 634.10,102.16 634.60,103.70 635.10,105.01 635.60,106.05 636.10,106.79 636.60,107.30 637.10,107.65 637.60,107.99 638.10,108.46 638.60,109.17 639.10,110.21 639.60,111.58 640.10,113.20 640.60,115.00 641.10,116.82 641.60,118.53 642.10,120.04 642.60,121.29 643.10,122.29 643.60,123.04 644.10,123.60 644.60,124.00 645.10,124.29 645.60,124.52 646.10,124.69 646.60,124.84 647.10,124.97 647.60,125.09 648.10,125.20 648.60,125.31 649.10,125.42 649.60,125.52 650.10,125.62 650.60,125.70 651.10,125.78 651.60,125.86 652.10,125.93 652.60,126.01 653.10,126.09 653.60,126.16 654.10,126.24 654.60,126.31 655.10,126.38 655.60,126.45 656.10,126.51 656.60,126.58 657.10,126.64 657.60,126.70 658.10,126.76 658.60,126.81 659.10,126.86 659.60,126.91 660.10,126.96 660.60,127.00 661.10,127.04 661.60,127.07 662.10,127.10" fill="none" stroke="#555" stroke-width="0.5" stroke-linejoin="round" />
<polygon points="531.20,140.40 531.70,140.40 532.20,140.38 532.70,140.35 533.20,140.31 533.70,140.25 534.20,140.16 534.70,140.06 535.20,139.93 535.70,139.78 536.20,139.60 536.70,139.41 537.20,139.20 537.70,138.98 538.20,138.76 538.70,138.53 539.20,138.32 539.70,138.13 540.20,137.97 540.70,137.84 541.20,137.76 541.70,137.72 542.20,137.74 542.70,137.82 543.20,137.95 543.70,138.14 544.20,138.38 544.70,138.68 545.20,139.02 545.70,139.39 546.20,139.78 546.70,140.20 547.20,140.62 547.70,141.04 548.20,141.45 548.70,141.85 549.20,142.23 549.70,142.59 550.20,142.92 550.70,143.22 551.20,143.50 551.70,143.75 552.20,143.98 552.70,144.18 553.20,144.37 553.70,144.54 554.20,144.69 554.20,144.86 553.70,144.77 553.20,144.67 552.70,144.57 552.20,144.47 551.70,144.37 551.20,144.27 550.70,144.17 550.20,144.07 549.70,143.97 549.20,143.87 548.70,143.77 548.20,143.67 547.70,143.57 547.20,143.47 546.70,143.37 546.20,143.27 545.70,143.17 545.20,143.08 544.70,142.98 544.20,142.89 543.70,142.80 543.20,142.71 542.70,142.62 542.20,142.52 541.70,142.43 541.20,142.33 540.70,142.23 540.20,142.13 539.70,142.03 539.20,141.93 538.70,141.83 538.20,141.73 537.70,141.63 537.20,141.54 536.70,141.44 536.20,141.35 535.70,141.26 535.20,141.17 534.70,141.09 534.20,141.00 533.70,140.93 533.20,140.85 532.70,140.78 532.20,140.71 531.70,140.65 531.20,140.60" fill="url(#fGr)" stroke="none"/>
<polyline points="531.20,140.40 531.70,140.40 532.20,140.38 532.70,140.35 533.20,140.31 533.70,140.25 534.20,140.16 534.70,140.06 535.20,139.93 535.70,139.78 536.20,139.60 536.70,139.41 537.20,139.20 537.70,138.98 538.20,138.76 538.70,138.53 539.20,138.32 539.70,138.13 540.20,137.97 540.70,137.84 541.20,137.76 541.70,137.72 542.20,137.74 542.70,137.82 543.20,137.95 543.70,138.14 544.20,138.38 544.70,138.68 545.20,139.02 545.70,139.39 546.20,139.78 546.70,140.20 547.20,140.62 547.70,141.04 548.20,141.45 548.70,141.85 549.20,142.23 549.70,142.59 550.20,142.92 550.70,143.22 551.20,143.50 551.70,143.75 552.20,143.98 552.70,144.18 553.20,144.37 553.70,144.54 554.20,144.69" fill="none" stroke="#555" stroke-width="0.8" stroke-linejoin="round" />
<polygon points="558.20,145.44 558.70,145.46 559.20,145.46 559.70,145.44 560.20,145.39 560.70,145.30 561.20,145.18 561.70,145.02 562.20,144.82 562.70,144.57 563.20,144.27 563.70,143.93 564.20,143.54 564.70,143.12 565.20,142.67 565.70,142.21 566.20,141.74 566.70,141.28 567.20,140.85 567.70,140.46 568.20,140.17 568.70,139.99 569.20,139.91 569.70,139.94 570.20,140.08 570.70,140.34 571.20,140.71 571.70,141.19 572.20,141.77 572.70,142.43 573.20,143.16 573.70,143.95 574.20,144.77 574.70,145.61 575.20,146.46 575.70,147.28 576.20,148.08 576.70,148.85 577.20,149.59 577.70,150.28 578.20,150.94 578.70,151.54 579.20,152.10 579.70,152.62 580.20,153.09 580.70,153.52 581.20,153.91 581.70,154.27 582.20,154.59 582.70,154.89 582.70,155.06 582.20,154.82 581.70,154.58 581.20,154.32 580.70,154.06 580.20,153.79 579.70,153.52 579.20,153.24 578.70,152.96 578.20,152.68 577.70,152.40 577.20,152.13 576.70,151.86 576.20,151.60 575.70,151.35 575.20,151.09 574.70,150.83 574.20,150.56 573.70,150.29 573.20,150.02 572.70,149.76 572.20,149.49 571.70,149.23 571.20,148.97 570.70,148.72 570.20,148.47 569.70,148.24 569.20,148.01 568.70,147.79 568.20,147.58 567.70,147.42 567.20,147.30 566.70,147.18 566.20,147.07 565.70,146.96 565.20,146.85 564.70,146.75 564.20,146.66 563.70,146.56 563.20,146.47 562.70,146.38 562.20,146.30 561.70,146.21 561.20,146.13 560.70,146.04 560.20,145.96 559.70,145.88 559.20,145.79 558.70,145.70 558.20,145.62" fill="url(#fPu)" stroke="none"/>
<polyline points="558.20,145.44 558.70,145.46 559.20,145.46 559.70,145.44 560.20,145.39 560.70,145.30 561.20,145.18 561.70,145.02 562.20,144.82 562.70,144.57 563.20,144.27 563.70,143.93 564.20,143.54 564.70,143.12 565.20,142.67 565.70,142.21 566.20,141.74 566.70,141.28 567.20,140.85 567.70,140.46 568.20,140.17 568.70,139.99 569.20,139.91 569.70,139.94 570.20,140.08 570.70,140.34 571.20,140.71 571.70,141.19 572.20,141.77 572.70,142.43 573.20,143.16 573.70,143.95 574.20,144.77 574.70,145.61 575.20,146.46 575.70,147.28 576.20,148.08 576.70,148.85 577.20,149.59 577.70,150.28 578.20,150.94 578.70,151.54 579.20,152.10 579.70,152.62 580.20,153.09 580.70,153.52 581.20,153.91 581.70,154.27 582.20,154.59 582.70,154.89" fill="none" stroke="#8b63d0" stroke-width="0.8" stroke-linejoin="round" />
<polygon points="589.70,156.62 590.20,156.64 590.70,156.65 591.20,156.63 591.70,156.59 592.20,156.53 592.70,156.43 593.20,156.31 593.70,156.14 594.20,155.94 594.70,155.70 595.20,155.42 595.70,155.10 596.20,154.74 596.70,154.35 597.20,153.92 597.70,153.48 598.20,153.02 598.70,152.57 599.20,152.13 599.70,151.73 600.20,151.37 600.70,151.06 601.20,150.83 601.70,150.68 602.20,150.61 602.70,150.63 603.20,150.75 603.70,150.96 604.20,151.25 604.70,151.62 605.20,152.05 605.70,152.53 606.20,153.04 606.70,153.58 607.20,154.13 607.70,154.68 608.20,155.22 608.70,155.74 609.20,156.23 609.70,156.69 610.20,157.11 610.70,157.49 611.20,157.83 611.70,158.14 612.20,158.40 612.70,158.64 613.20,158.84 613.70,159.01 614.20,159.17 614.70,159.30 615.20,159.42 615.20,159.60 614.70,159.54 614.20,159.49 613.70,159.43 613.20,159.38 612.70,159.33 612.20,159.28 611.70,159.23 611.20,159.18 610.70,159.13 610.20,159.08 609.70,159.03 609.20,158.98 608.70,158.94 608.20,158.89 607.70,158.84 607.20,158.80 606.70,158.75 606.20,158.71 605.70,158.66 605.20,158.62 604.70,158.56 604.20,158.50 603.70,158.44 603.20,158.38 602.70,158.33 602.20,158.28 601.70,158.23 601.20,158.18 600.70,158.13 600.20,158.09 599.70,158.04 599.20,157.99 598.70,157.94 598.20,157.89 597.70,157.84 597.20,157.79 596.70,157.73 596.20,157.67 595.70,157.60 595.20,157.53 594.70,157.46 594.20,157.39 593.70,157.33 593.20,157.26 592.70,157.19 592.20,157.13 591.70,157.06 591.20,156.99 590.70,156.92 590.20,156.84 589.70,156.77" fill="url(#fGr)" stroke="none"/>
<polyline points="589.70,156.62 590.20,156.64 590.70,156.65 591.20,156.63 591.70,156.59 592.20,156.53 592.70,156.43 593.20,156.31 593.70,156.14 594.20,155.94 594.70,155.70 595.20,155.42 595.70,155.10 596.20,154.74 596.70,154.35 597.20,153.92 597.70,153.48 598.20,153.02 598.70,152.57 599.20,152.13 599.70,151.73 600.20,151.37 600.70,151.06 601.20,150.83 601.70,150.68 602.20,150.61 602.70,150.63 603.20,150.75 603.70,150.96 604.20,151.25 604.70,151.62 605.20,152.05 605.70,152.53 606.20,153.04 606.70,153.58 607.20,154.13 607.70,154.68 608.20,155.22 608.70,155.74 609.20,156.23 609.70,156.69 610.20,157.11 610.70,157.49 611.20,157.83 611.70,158.14 612.20,158.40 612.70,158.64 613.20,158.84 613.70,159.01 614.20,159.17 614.70,159.30 615.20,159.42" fill="none" stroke="#555" stroke-width="0.8" stroke-linejoin="round" />
<polygon points="615.20,159.40 615.70,159.38 616.20,159.33 616.70,159.26 617.20,159.14 617.70,158.97 618.20,158.74 618.70,158.44 619.20,158.05 619.70,157.56 620.20,156.98 620.70,156.28 621.20,155.45 621.70,154.50 622.20,153.40 622.70,152.18 623.20,150.83 623.70,149.37 624.20,147.82 624.70,146.22 625.20,144.60 625.70,143.00 626.20,141.46 626.70,140.02 627.20,138.74 627.70,137.66 628.20,136.82 628.70,136.24 629.20,135.96 629.70,135.98 630.20,136.31 630.70,136.95 631.20,137.86 631.70,139.03 632.20,140.42 632.70,141.99 633.20,143.69 633.70,145.49 634.20,147.33 634.70,149.17 635.20,150.97 635.70,152.71 636.20,154.35 636.70,155.87 637.20,157.26 637.70,158.51 638.20,159.63 638.70,160.61 639.20,161.46 639.70,162.19 640.20,162.82 640.70,163.35 641.20,163.79 641.70,164.16 642.20,164.48 642.70,164.74 643.20,164.96 643.70,165.14 644.20,165.30 644.20,165.47 643.70,165.38 643.20,165.29 642.70,165.19 642.20,165.09 641.70,164.99 641.20,164.89 640.70,164.78 640.20,164.67 639.70,164.56 639.20,164.44 638.70,164.33 638.20,164.21 637.70,164.09 637.20,163.98 636.70,163.86 636.20,163.74 635.70,163.63 635.20,163.51 634.70,163.39 634.20,163.28 633.70,163.17 633.20,163.06 632.70,162.95 632.20,162.84 631.70,162.73 631.20,162.62 630.70,162.50 630.20,162.39 629.70,162.27 629.20,162.16 628.70,162.04 628.20,161.93 627.70,161.81 627.20,161.70 626.70,161.58 626.20,161.47 625.70,161.36 625.20,161.25 624.70,161.14 624.20,161.03 623.70,160.92 623.20,160.82 622.70,160.71 622.20,160.61 621.70,160.51 621.20,160.42 620.70,160.33 620.20,160.24 619.70,160.16 619.20,160.09 618.70,160.02 618.20,159.96 617.70,159.89 617.20,159.83 616.70,159.77 616.20,159.71 615.70,159.65 615.20,159.60" fill="url(#fPu)" stroke="none"/>
<polyline points="615.20,159.40 615.70,159.38 616.20,159.33 616.70,159.26 617.20,159.14 617.70,158.97 618.20,158.74 618.70,158.44 619.20,158.05 619.70,157.56 620.20,156.98 620.70,156.28 621.20,155.45 621.70,154.50 622.20,153.40 622.70,152.18 623.20,150.83 623.70,149.37 624.20,147.82 624.70,146.22 625.20,144.60 625.70,143.00 626.20,141.46 626.70,140.02 627.20,138.74 627.70,137.66 628.20,136.82 628.70,136.24 629.20,135.96 629.70,135.98 630.20,136.31 630.70,136.95 631.20,137.86 631.70,139.03 632.20,140.42 632.70,141.99 633.20,143.69 633.70,145.49 634.20,147.33 634.70,149.17 635.20,150.97 635.70,152.71 636.20,154.35 636.70,155.87 637.20,157.26 637.70,158.51 638.20,159.63 638.70,160.61 639.20,161.46 639.70,162.19 640.20,162.82 640.70,163.35 641.20,163.79 641.70,164.16 642.20,164.48 642.70,164.74 643.20,164.96 643.70,165.14 644.20,165.30" fill="none" stroke="#8b63d0" stroke-width="0.8" stroke-linejoin="round" />
<polyline points="530.20,140.50 530.70,140.55 531.20,140.60 531.70,140.65 532.20,140.71 532.70,140.78 533.20,140.85 533.70,140.93 534.20,141.00 534.70,141.09 535.20,141.17 535.70,141.26 536.20,141.35 536.70,141.44 537.20,141.54 537.70,141.63 538.20,141.73 538.70,141.83 539.20,141.93 539.70,142.03 540.20,142.13 540.70,142.23 541.20,142.33 541.70,142.43 542.20,142.52 542.70,142.62 543.20,142.71 543.70,142.80 544.20,142.89 544.70,142.98 545.20,143.08 545.70,143.17 546.20,143.27 546.70,143.37 547.20,143.47 547.70,143.57 548.20,143.67 548.70,143.77 549.20,143.87 549.70,143.97 550.20,144.07 550.70,144.17 551.20,144.27 551.70,144.37 552.20,144.47 552.70,144.57 553.20,144.67 553.70,144.77 554.20,144.86 554.70,144.96 555.20,145.05 555.70,145.14 556.20,145.24 556.70,145.34 557.20,145.43 557.70,145.53 558.20,145.62 558.70,145.70 559.20,145.79 559.70,145.88 560.20,145.96 560.70,146.04 561.20,146.13 561.70,146.21 562.20,146.30 562.70,146.38 563.20,146.47 563.70,146.56 564.20,146.66 564.70,146.75 565.20,146.85 565.70,146.96 566.20,147.07 566.70,147.18 567.20,147.30 567.70,147.42 568.20,147.58 568.70,147.79 569.20,148.01 569.70,148.24 570.20,148.47 570.70,148.72 571.20,148.97 571.70,149.23 572.20,149.49 572.70,149.76 573.20,150.02 573.70,150.29 574.20,150.56 574.70,150.83 575.20,151.09 575.70,151.35 576.20,151.60 576.70,151.86 577.20,152.13 577.70,152.40 578.20,152.68 578.70,152.96 579.20,153.24 579.70,153.52 580.20,153.79 580.70,154.06 581.20,154.32 581.70,154.58 582.20,154.82 582.70,155.06 583.20,155.28 583.70,155.48 584.20,155.65 584.70,155.78 585.20,155.91 585.70,156.02 586.20,156.13 586.70,156.24 587.20,156.34 587.70,156.43 588.20,156.52 588.70,156.61 589.20,156.69 589.70,156.77 590.20,156.84 590.70,156.92 591.20,156.99 591.70,157.06 592.20,157.13 592.70,157.19 593.20,157.26 593.70,157.33 594.20,157.39 594.70,157.46 595.20,157.53 595.70,157.60 596.20,157.67 596.70,157.73 597.20,157.79 597.70,157.84 598.20,157.89 598.70,157.94 599.20,157.99 599.70,158.04 600.20,158.09 600.70,158.13 601.20,158.18 601.70,158.23 602.20,158.28 602.70,158.33 603.20,158.38 603.70,158.44 604.20,158.50 604.70,158.56 605.20,158.62 605.70,158.66 606.20,158.71 606.70,158.75 607.20,158.80 607.70,158.84 608.20,158.89 608.70,158.94 609.20,158.98 609.70,159.03 610.20,159.08 610.70,159.13 611.20,159.18 611.70,159.23 612.20,159.28 612.70,159.33 613.20,159.38 613.70,159.43 614.20,159.49 614.70,159.54 615.20,159.60 615.70,159.65 616.20,159.71 616.70,159.77 617.20,159.83 617.70,159.89 618.20,159.96 618.70,160.02 619.20,160.09 619.70,160.16 620.20,160.24 620.70,160.33 621.20,160.42 621.70,160.51 622.20,160.61 622.70,160.71 623.20,160.82 623.70,160.92 624.20,161.03 624.70,161.14 625.20,161.25 625.70,161.36 626.20,161.47 626.70,161.58 627.20,161.70 627.70,161.81 628.20,161.93 628.70,162.04 629.20,162.16 629.70,162.27 630.20,162.39 630.70,162.50 631.20,162.62 631.70,162.73 632.20,162.84 632.70,162.95 633.20,163.06 633.70,163.17 634.20,163.28 634.70,163.39 635.20,163.51 635.70,163.63 636.20,163.74 636.70,163.86 637.20,163.98 637.70,164.09 638.20,164.21 638.70,164.33 639.20,164.44 639.70,164.56 640.20,164.67 640.70,164.78 641.20,164.89 641.70,164.99 642.20,165.09 642.70,165.19 643.20,165.29 643.70,165.38 644.20,165.47 644.70,165.55 645.20,165.64 645.70,165.74 646.20,165.83 646.70,165.92 647.20,166.00 647.70,166.08 648.20,166.16 648.70,166.23 649.20,166.30 649.70,166.36 650.20,166.42 650.70,166.48 651.20,166.54 651.70,166.59 652.20,166.64 652.70,166.69 653.20,166.74 653.70,166.79 654.20,166.83 654.70,166.87 655.20,166.92 655.70,166.96 656.20,166.99 656.70,167.03 657.20,167.06 657.70,167.08 658.20,167.11 658.70,167.13 659.20,167.15 659.70,167.17 660.20,167.19 660.70,167.20 661.20,167.22 661.70,167.23 662.20,167.24 662.70,167.25 663.20,167.26 663.70,167.27 664.20,167.28" fill="none" stroke="#444" stroke-width="0.8" stroke-linejoin="round" />
<polyline points="530.20,139.40 531.20,140.50 532.20,139.87 533.20,139.95 534.20,140.40 535.20,140.07 536.20,139.46 537.20,140.25 538.20,138.96 539.20,138.03 540.20,138.08 541.20,137.70 542.20,136.68 543.20,137.19 544.20,137.71 545.20,140.01 546.20,139.70 547.20,140.49 548.20,141.18 549.20,142.70 550.20,142.93 551.20,144.32 552.20,144.36 553.20,145.16 554.20,144.62 555.20,145.12 556.20,144.94 557.20,145.23 558.20,144.59 559.20,145.18 560.20,144.93 561.20,144.87 562.20,145.40 563.20,144.40 564.20,144.13 565.20,143.09 566.20,142.18 567.20,141.33 568.20,139.87 569.20,140.30 570.20,139.93 571.20,140.45 572.20,142.34 573.20,144.21 574.20,144.30 575.20,147.29 576.20,148.48 577.20,149.18 578.20,151.07 579.20,152.28 580.20,153.27 581.20,153.74 582.20,153.97 583.20,155.17 584.20,156.01 585.20,156.25 586.20,156.43 587.20,156.83 588.20,155.98 589.20,156.56 590.20,156.80 591.20,157.11 592.20,156.60 593.20,156.55 594.20,156.00 595.20,156.43 596.20,153.69 597.20,153.91 598.20,154.21 599.20,152.25 600.20,150.48 601.20,150.89 602.20,149.92 603.20,150.42 604.20,151.36 605.20,152.88 606.20,153.26 607.20,154.45 608.20,155.71 609.20,156.33 610.20,156.70 611.20,157.78 612.20,158.54 613.20,158.66 614.20,158.75 615.20,159.05 616.20,158.51 617.20,158.59 618.20,158.67 619.20,157.86 620.20,156.99 621.20,156.13 622.20,153.55 623.20,150.81 624.20,147.26 625.20,144.08 626.20,141.64 627.20,138.32 628.20,137.02 629.20,135.44 630.20,136.38 631.20,137.83 632.20,140.90 633.20,143.51 634.20,147.15 635.20,151.09 636.20,154.37 637.20,158.07 638.20,159.51 639.20,161.20 640.20,162.67 641.20,164.02 642.20,164.59 643.20,165.29 644.20,164.63 645.20,166.75 646.20,166.68 647.20,165.97 648.20,165.57 649.20,166.37 650.20,166.62 651.20,165.46 652.20,166.65 653.20,166.03 654.20,167.05 655.20,167.58 656.20,167.49 657.20,166.33 658.20,167.77 659.20,167.59 660.20,167.01 661.20,167.46 662.20,167.97 663.20,167.10 664.20,167.28" fill="none" stroke="#3a3a3a" stroke-width="0.6" stroke-linejoin="round" />
<polyline points="530.20,140.39 530.70,140.40 531.20,140.40 531.70,140.40 532.20,140.38 532.70,140.35 533.20,140.31 533.70,140.25 534.20,140.16 534.70,140.06 535.20,139.93 535.70,139.78 536.20,139.60 536.70,139.41 537.20,139.20 537.70,138.98 538.20,138.76 538.70,138.53 539.20,138.32 539.70,138.13 540.20,137.97 540.70,137.84 541.20,137.76 541.70,137.72 542.20,137.74 542.70,137.82 543.20,137.95 543.70,138.14 544.20,138.38 544.70,138.68 545.20,139.02 545.70,139.39 546.20,139.78 546.70,140.20 547.20,140.62 547.70,141.04 548.20,141.45 548.70,141.85 549.20,142.23 549.70,142.59 550.20,142.92 550.70,143.22 551.20,143.50 551.70,143.75 552.20,143.98 552.70,144.18 553.20,144.36 553.70,144.53 554.20,144.68 554.70,144.81 555.20,144.94 555.70,145.04 556.20,145.14 556.70,145.24 557.20,145.32 557.70,145.38 558.20,145.43 558.70,145.45 559.20,145.46 559.70,145.44 560.20,145.39 560.70,145.30 561.20,145.18 561.70,145.02 562.20,144.82 562.70,144.57 563.20,144.27 563.70,143.93 564.20,143.54 564.70,143.12 565.20,142.67 565.70,142.21 566.20,141.74 566.70,141.28 567.20,140.85 567.70,140.46 568.20,140.17 568.70,139.99 569.20,139.91 569.70,139.94 570.20,140.08 570.70,140.34 571.20,140.71 571.70,141.19 572.20,141.77 572.70,142.43 573.20,143.16 573.70,143.95 574.20,144.77 574.70,145.61 575.20,146.46 575.70,147.28 576.20,148.08 576.70,148.85 577.20,149.59 577.70,150.28 578.20,150.94 578.70,151.54 579.20,152.10 579.70,152.62 580.20,153.09 580.70,153.52 581.20,153.91 581.70,154.27 582.20,154.59 582.70,154.89 583.20,155.16 583.70,155.40 584.20,155.59 584.70,155.74 585.20,155.87 585.70,155.99 586.20,156.11 586.70,156.21 587.20,156.30 587.70,156.39 588.20,156.46 588.70,156.53 589.20,156.58 589.70,156.62 590.20,156.64 590.70,156.65 591.20,156.63 591.70,156.59 592.20,156.53 592.70,156.43 593.20,156.31 593.70,156.14 594.20,155.94 594.70,155.70 595.20,155.42 595.70,155.10 596.20,154.74 596.70,154.35 597.20,153.92 597.70,153.48 598.20,153.02 598.70,152.57 599.20,152.13 599.70,151.73 600.20,151.37 600.70,151.06 601.20,150.83 601.70,150.68 602.20,150.61 602.70,150.63 603.20,150.75 603.70,150.96 604.20,151.25 604.70,151.62 605.20,152.05 605.70,152.53 606.20,153.04 606.70,153.58 607.20,154.13 607.70,154.68 608.20,155.22 608.70,155.74 609.20,156.23 609.70,156.69 610.20,157.11 610.70,157.49 611.20,157.83 611.70,158.12 612.20,158.38 612.70,158.60 613.20,158.79 613.70,158.95 614.20,159.07 614.70,159.16 615.20,159.22 615.70,159.25 616.20,159.24 616.70,159.19 617.20,159.09 617.70,158.93 618.20,158.71 618.70,158.42 619.20,158.04 619.70,157.56 620.20,156.97 620.70,156.28 621.20,155.45 621.70,154.49 622.20,153.40 622.70,152.17 623.20,150.82 623.70,149.37 624.20,147.82 624.70,146.22 625.20,144.60 625.70,143.00 626.20,141.46 626.70,140.02 627.20,138.74 627.70,137.66 628.20,136.82 628.70,136.24 629.20,135.96 629.70,135.98 630.20,136.31 630.70,136.95 631.20,137.86 631.70,139.03 632.20,140.42 632.70,141.99 633.20,143.69 633.70,145.49 634.20,147.33 634.70,149.17 635.20,150.97 635.70,152.71 636.20,154.35 636.70,155.87 637.20,157.26 637.70,158.51 638.20,159.63 638.70,160.61 639.20,161.46 639.70,162.19 640.20,162.82 640.70,163.35 641.20,163.79 641.70,164.16 642.20,164.48 642.70,164.74 643.20,164.96 643.70,165.14 644.20,165.30 644.70,165.43 645.20,165.56 645.70,165.68 646.20,165.79 646.70,165.89 647.20,165.99 647.70,166.07 648.20,166.15 648.70,166.23 649.20,166.30 649.70,166.36 650.20,166.42 650.70,166.48 651.20,166.54 651.70,166.59 652.20,166.64 652.70,166.69 653.20,166.74 653.70,166.79 654.20,166.83 654.70,166.87 655.20,166.92 655.70,166.96 656.20,166.99 656.70,167.03 657.20,167.06 657.70,167.08 658.20,167.11 658.70,167.13 659.20,167.15 659.70,167.17 660.20,167.19 660.70,167.20 661.20,167.22 661.70,167.23 662.20,167.24 662.70,167.25 663.20,167.26 663.70,167.27 664.20,167.28" fill="none" stroke="#555" stroke-width="0.5" stroke-linejoin="round" />
<rect x="511.80" y="20.60" width="165.60" height="154.50" fill="none" stroke="#222" stroke-width="1.2" />
<line x1="511.80" y1="81.30" x2="677.40" y2="81.30" stroke="#222" stroke-width="1.2" />
<line x1="511.80" y1="130.50" x2="677.40" y2="130.50" stroke="#222" stroke-width="1.2" />
<line x1="527.20" y1="175.10" x2="527.20" y2="172.90" stroke="#222" stroke-width="0.8" />
<line x1="542.20" y1="175.10" x2="542.20" y2="173.80" stroke="#222" stroke-width="0.8" />
<line x1="557.20" y1="175.10" x2="557.20" y2="172.90" stroke="#222" stroke-width="0.8" />
<line x1="572.20" y1="175.10" x2="572.20" y2="173.80" stroke="#222" stroke-width="0.8" />
<line x1="587.20" y1="175.10" x2="587.20" y2="172.90" stroke="#222" stroke-width="0.8" />
<line x1="602.20" y1="175.10" x2="602.20" y2="173.80" stroke="#222" stroke-width="0.8" />
<line x1="617.20" y1="175.10" x2="617.20" y2="172.90" stroke="#222" stroke-width="0.8" />
<line x1="632.20" y1="175.10" x2="632.20" y2="173.80" stroke="#222" stroke-width="0.8" />
<line x1="647.20" y1="175.10" x2="647.20" y2="172.90" stroke="#222" stroke-width="0.8" />
<line x1="662.20" y1="175.10" x2="662.20" y2="173.80" stroke="#222" stroke-width="0.8" />
<text x="527.20" y="184.90" font-size="9.1" fill="#1a1a1a" text-anchor="middle" font-weight="normal">970</text>
<text x="557.20" y="184.90" font-size="9.1" fill="#1a1a1a" text-anchor="middle" font-weight="normal">960</text>
<text x="587.20" y="184.90" font-size="9.1" fill="#1a1a1a" text-anchor="middle" font-weight="normal">950</text>
<text x="617.20" y="184.90" font-size="9.1" fill="#1a1a1a" text-anchor="middle" font-weight="normal">940</text>
<text x="647.20" y="184.90" font-size="9.1" fill="#1a1a1a" text-anchor="middle" font-weight="normal">930</text>
<text x="677.20" y="184.90" font-size="9.1" fill="#1a1a1a" text-anchor="middle" font-weight="normal">920</text>
<text x="600.00" y="196.60" font-size="11.1" fill="#222" text-anchor="middle" font-weight="normal">Binding Energy (E)</text>
<text x="498.90" y="96.50" font-size="12.0" fill="#1a1a1a" font-weight="normal" text-anchor="middle" textLength="80.90" lengthAdjust="spacingAndGlyphs" transform="rotate(-90 498.90 96.50)">Intensity (a.u.)</text>
<line x1="513.40" y1="25.40" x2="526.00" y2="25.40" stroke="#f0a04c" stroke-width="0.9" />
<text x="527.90" y="27.70" font-size="6.7" fill="#222" text-anchor="start" font-weight="normal">Cu<tspan dy="-0.4em" font-size="70%">+</tspan></text>
<line x1="538.40" y1="25.40" x2="551.40" y2="25.40" stroke="#8b63d0" stroke-width="0.9" />
<text x="552.60" y="27.70" font-size="6.7" fill="#222" text-anchor="start" font-weight="normal">Cu<tspan dy="-0.4em" font-size="70%">2+</tspan></text>
<line x1="513.40" y1="33.20" x2="526.00" y2="33.20" stroke="#666" stroke-width="0.9" />
<text x="527.90" y="34.90" font-size="6.6" fill="#222" text-anchor="start" font-weight="normal">Satellite</text>
<text x="598.30" y="32.60" font-size="7.15" fill="#222" text-anchor="middle" font-weight="normal">Gel top (<tspan font-style="italic">T</tspan><tspan dy="0.3em" font-size="60%">C</tspan><tspan dy="-0.3em">)</tspan></text>
<text x="652.50" y="28.60" font-size="7.3" fill="#222" text-anchor="start" font-weight="normal">Cu 2<tspan font-style="italic">p</tspan></text>
<text x="513.00" y="79.00" font-size="6.9" fill="#222" text-anchor="start" font-weight="normal">After thermal charge</text>
<text x="598.50" y="90.20" font-size="6.95" fill="#222" text-anchor="middle" font-weight="normal">Gel bottom (<tspan font-style="italic">T</tspan><tspan dy="0.3em" font-size="60%">H</tspan><tspan dy="-0.3em">)</tspan></text>
<text x="513.00" y="128.10" font-size="6.9" fill="#222" text-anchor="start" font-weight="normal">After thermal charge</text>
<text x="513.00" y="171.00" font-size="6.9" fill="#222" text-anchor="start" font-weight="normal">Orginal state</text>
<text x="0.20" y="231.40" font-size="21" fill="#000" text-anchor="start" font-weight="normal">d</text>
<rect x="33.80" y="239.40" width="58.45" height="133.70" fill="#fdf0f0" stroke="none" stroke-width="1" />
<rect x="92.25" y="239.40" width="59.23" height="133.70" fill="#f8f8f8" stroke="none" stroke-width="1" />
<text x="55.20" y="247.80" font-size="5.35" fill="#222" text-anchor="start" font-weight="normal">With Δ<tspan font-style="italic">T</tspan></text>
<text x="109.30" y="247.80" font-size="5.35" fill="#222" text-anchor="start" font-weight="normal">Without Δ<tspan font-style="italic">T</tspan></text>
<polyline points="33.80,354.51 34.29,355.07 34.77,353.94 35.26,355.13 35.75,354.31 36.24,354.93 36.72,354.05 37.21,354.27 37.70,354.36 38.18,354.83 38.67,353.98 39.16,354.72 39.64,354.28 40.13,354.90 40.62,354.36 41.11,354.61 41.59,354.37 42.08,355.02 42.57,354.27 43.05,354.37 43.54,355.03 44.03,354.37 44.52,354.56 45.00,354.06 45.49,354.36 45.98,353.51 46.46,354.29 46.95,354.02 47.44,353.72 47.93,353.73 48.41,354.58 48.90,354.32 49.39,353.65 49.87,354.75 50.36,353.89 50.85,353.98 51.33,354.17 51.82,353.69 52.31,353.51 52.80,353.79 53.28,354.42 53.77,354.33 54.26,353.46 54.74,354.38 55.23,353.97 55.72,354.11 56.21,353.94 56.69,354.04 57.18,353.55 57.67,353.56 58.15,353.62 58.64,353.71 59.13,354.03 59.61,353.39 60.10,354.32 60.59,353.55 61.08,353.55 61.56,353.97 62.05,353.86 62.54,353.59 63.02,353.32 63.51,353.33 64.00,353.11 64.49,354.02 64.97,353.98 65.46,354.23 65.95,353.75 66.43,353.68 66.92,353.80 67.41,353.85 67.90,353.43 68.38,353.62 68.87,354.21 69.36,352.89 69.84,352.97 70.33,353.10 70.82,353.67 71.30,353.80 71.79,353.26 72.28,353.59 72.77,353.33 73.25,353.43 73.74,353.13 74.23,353.28 74.71,353.27 75.20,353.64 75.69,353.99 76.18,352.61 76.66,353.39 77.15,353.19 77.64,353.50 78.12,353.52 78.61,353.40 79.10,353.40 79.59,352.79 80.07,352.52 80.56,353.64 81.05,353.46 81.53,352.72 82.02,353.46 82.51,353.23 82.99,352.16 83.48,353.27 83.97,352.62 84.46,353.33 84.94,352.69 85.43,352.65 85.92,352.37 86.40,352.80 86.89,353.20 87.38,352.61 87.87,352.19 88.35,353.52 88.84,353.41 89.33,353.00 89.81,352.57 90.30,352.33 90.79,352.16 91.27,352.89 91.76,355.54 92.25,357.14 92.74,359.90 93.22,362.21 93.71,364.61 94.20,367.27 94.68,367.81 95.17,366.89 95.66,367.39 96.15,367.47 96.63,367.00 97.12,367.05 97.61,366.65 98.09,367.46 98.58,366.92 99.07,366.88 99.56,367.12 100.04,366.81 100.53,366.75 101.02,367.00 101.50,367.60 101.99,367.03 102.48,367.28 102.96,366.61 103.45,366.44 103.94,367.71 104.43,366.97 104.91,366.58 105.40,367.06 105.89,367.30 106.37,366.52 106.86,366.80 107.35,367.19 107.84,366.79 108.32,367.37 108.81,367.42 109.30,367.25 109.78,366.96 110.27,367.08 110.76,366.89 111.24,367.06 111.73,367.21 112.22,367.00 112.71,367.43 113.19,367.98 113.68,366.92 114.17,367.22 114.65,367.38 115.14,367.32 115.63,367.02 116.12,366.94 116.60,367.44 117.09,367.31 117.58,367.27 118.06,366.83 118.55,367.31 119.04,367.37 119.53,367.04 120.01,367.32 120.50,367.83 120.99,366.47 121.47,367.31 121.96,366.70 122.45,366.64 122.93,367.02 123.42,367.28 123.91,367.12 124.40,366.71 124.88,366.61 125.37,366.91 125.86,367.10 126.34,366.82 126.83,366.59 127.32,367.69 127.81,366.82 128.29,367.05 128.78,366.91 129.27,366.90 129.75,367.11 130.24,367.00 130.73,367.31 131.21,366.70 131.70,366.60 132.19,367.76 132.68,367.07 133.16,367.36 133.65,367.50 134.14,367.29 134.62,367.11 135.11,366.57 135.60,366.56 136.09,367.43 136.57,367.33 137.06,367.29 137.55,366.54 138.03,366.38 138.52,366.74 139.01,366.70 139.50,367.15 139.98,366.75 140.47,367.64 140.96,366.89 141.44,366.91 141.93,367.39 142.42,367.21 142.90,366.79 143.39,367.38 143.88,367.75 144.37,366.68 144.85,367.02 145.34,366.73 145.83,366.44 146.31,367.31 146.80,367.34 147.29,367.43 147.78,367.25 148.26,366.42 148.75,367.09 149.24,366.87 149.72,366.70 150.21,366.72 150.70,367.36" fill="none" stroke="#b9b9b9" stroke-width="1.6" stroke-linejoin="round" />
<path d="M33.80,258.80 C34.00,260.83 34.58,267.03 35.00,271.00 C35.42,274.97 35.80,279.02 36.30,282.60 C36.80,286.18 37.38,289.60 38.00,292.50 C38.62,295.40 39.25,297.58 40.00,300.00 C40.75,302.42 41.67,304.88 42.50,307.00 C43.33,309.12 44.00,310.70 45.00,312.70 C46.00,314.70 47.23,316.92 48.50,319.00 C49.77,321.08 51.35,323.40 52.60,325.20 C53.85,327.00 54.77,328.33 56.00,329.80 C57.23,331.27 58.07,332.60 60.00,334.00 C61.93,335.40 65.08,337.17 67.60,338.20 C70.12,339.23 72.60,339.78 75.10,340.20 C77.60,340.62 80.37,340.70 82.60,340.70 C84.83,340.70 87.30,340.57 88.50,340.20 C89.70,339.83 89.43,339.75 89.80,338.50 C90.17,337.25 90.43,335.28 90.70,332.70 C90.97,330.12 91.15,326.33 91.40,323.00 C91.65,319.67 91.90,315.70 92.20,312.70 C92.50,309.70 92.78,307.30 93.20,305.00 C93.62,302.70 94.15,301.07 94.70,298.90 C95.25,296.73 95.80,294.10 96.50,292.00 C97.20,289.90 98.02,288.13 98.90,286.30 C99.78,284.47 100.75,282.67 101.80,281.00 C102.85,279.33 103.83,277.80 105.20,276.30 C106.57,274.80 108.33,273.25 110.00,272.00 C111.67,270.75 113.20,269.80 115.20,268.80 C117.20,267.80 119.48,266.83 122.00,266.00 C124.52,265.17 127.30,264.43 130.30,263.80 C133.30,263.17 136.67,262.70 140.00,262.20 C143.33,261.70 148.58,261.03 150.30,260.80" fill="none" stroke="#4c4c4c" stroke-width="1.15" stroke-linejoin="round" stroke-dasharray="3.4 2.8"/>
<polyline points="33.80,340.34 43.54,335.32 53.28,326.63 63.02,305.24 72.77,283.84 82.51,269.13 92.25,253.42 111.73,264.79 131.21,308.25 150.70,313.59" fill="none" stroke="#f5a04a" stroke-width="1.2" stroke-linejoin="round" />
<circle cx="33.80" cy="340.34" r="2.4" fill="url(#gBall)" stroke="#e08a30" stroke-width="0.4"/>
<circle cx="43.54" cy="335.32" r="2.4" fill="url(#gBall)" stroke="#e08a30" stroke-width="0.4"/>
<circle cx="53.28" cy="326.63" r="2.4" fill="url(#gBall)" stroke="#e08a30" stroke-width="0.4"/>
<circle cx="63.02" cy="305.24" r="2.4" fill="url(#gBall)" stroke="#e08a30" stroke-width="0.4"/>
<circle cx="72.77" cy="283.84" r="2.4" fill="url(#gBall)" stroke="#e08a30" stroke-width="0.4"/>
<circle cx="82.51" cy="269.13" r="2.4" fill="url(#gBall)" stroke="#e08a30" stroke-width="0.4"/>
<circle cx="92.25" cy="253.42" r="2.4" fill="url(#gBall)" stroke="#e08a30" stroke-width="0.4"/>
<circle cx="111.73" cy="264.79" r="2.4" fill="url(#gBall)" stroke="#e08a30" stroke-width="0.4"/>
<circle cx="131.21" cy="308.25" r="2.4" fill="url(#gBall)" stroke="#e08a30" stroke-width="0.4"/>
<circle cx="150.70" cy="313.59" r="2.4" fill="url(#gBall)" stroke="#e08a30" stroke-width="0.4"/>
<line x1="24.40" y1="239.40" x2="160.30" y2="239.40" stroke="#222" stroke-width="1.3" />
<line x1="24.40" y1="373.10" x2="160.30" y2="373.10" stroke="#222" stroke-width="1.3" />
<line x1="24.40" y1="238.80" x2="24.40" y2="373.80" stroke="#c8782e" stroke-width="1.3" />
<line x1="160.30" y1="238.80" x2="160.30" y2="373.80" stroke="#54463e" stroke-width="1.2" />
<line x1="24.40" y1="373.10" x2="27.20" y2="373.10" stroke="#c8782e" stroke-width="1" />
<text x="21.30" y="376.10" font-size="8.4" fill="#c8782e" text-anchor="end" font-weight="normal">0</text>
<line x1="24.40" y1="339.67" x2="27.20" y2="339.67" stroke="#c8782e" stroke-width="1" />
<text x="21.30" y="342.67" font-size="8.4" fill="#c8782e" text-anchor="end" font-weight="normal">1</text>
<line x1="24.40" y1="306.24" x2="27.20" y2="306.24" stroke="#c8782e" stroke-width="1" />
<text x="21.30" y="309.24" font-size="8.4" fill="#c8782e" text-anchor="end" font-weight="normal">2</text>
<line x1="24.40" y1="272.81" x2="27.20" y2="272.81" stroke="#c8782e" stroke-width="1" />
<text x="21.30" y="275.81" font-size="8.4" fill="#c8782e" text-anchor="end" font-weight="normal">3</text>
<line x1="24.40" y1="239.38" x2="27.20" y2="239.38" stroke="#c8782e" stroke-width="1" />
<text x="21.30" y="242.38" font-size="8.4" fill="#c8782e" text-anchor="end" font-weight="normal">4</text>
<line x1="24.40" y1="356.39" x2="26.20" y2="356.39" stroke="#c8782e" stroke-width="0.9" />
<line x1="24.40" y1="322.96" x2="26.20" y2="322.96" stroke="#c8782e" stroke-width="0.9" />
<line x1="24.40" y1="289.53" x2="26.20" y2="289.53" stroke="#c8782e" stroke-width="0.9" />
<line x1="24.40" y1="256.10" x2="26.20" y2="256.10" stroke="#c8782e" stroke-width="0.9" />
<line x1="33.80" y1="373.10" x2="33.80" y2="370.60" stroke="#222" stroke-width="1" />
<line x1="53.28" y1="373.10" x2="53.28" y2="371.50" stroke="#222" stroke-width="1" />
<line x1="72.77" y1="373.10" x2="72.77" y2="370.60" stroke="#222" stroke-width="1" />
<line x1="92.25" y1="373.10" x2="92.25" y2="371.50" stroke="#222" stroke-width="1" />
<line x1="111.73" y1="373.10" x2="111.73" y2="370.60" stroke="#222" stroke-width="1" />
<line x1="131.21" y1="373.10" x2="131.21" y2="371.50" stroke="#222" stroke-width="1" />
<line x1="150.70" y1="373.10" x2="150.70" y2="370.60" stroke="#222" stroke-width="1" />
<text x="33.80" y="383.80" font-size="8.4" fill="#222" text-anchor="middle" font-weight="normal">0</text>
<text x="72.77" y="383.80" font-size="8.4" fill="#222" text-anchor="middle" font-weight="normal">20</text>
<text x="111.73" y="383.80" font-size="8.4" fill="#222" text-anchor="middle" font-weight="normal">40</text>
<text x="150.70" y="383.80" font-size="8.4" fill="#222" text-anchor="middle" font-weight="normal">60</text>
<line x1="160.30" y1="257.50" x2="163.00" y2="257.50" stroke="#4d3f36" stroke-width="1" />
<line x1="160.30" y1="292.97" x2="163.00" y2="292.97" stroke="#4d3f36" stroke-width="1" />
<line x1="160.30" y1="328.44" x2="163.00" y2="328.44" stroke="#4d3f36" stroke-width="1" />
<line x1="160.30" y1="363.91" x2="163.00" y2="363.91" stroke="#4d3f36" stroke-width="1" />
<line x1="160.30" y1="275.24" x2="162.00" y2="275.24" stroke="#4d3f36" stroke-width="0.9" />
<line x1="160.30" y1="310.70" x2="162.00" y2="310.70" stroke="#4d3f36" stroke-width="0.9" />
<line x1="160.30" y1="346.18" x2="162.00" y2="346.18" stroke="#4d3f36" stroke-width="0.9" />
<text x="166.30" y="260.50" font-size="8.4" fill="#76675d" text-anchor="start" font-weight="normal">0</text>
<text x="164.20" y="295.97" font-size="8.4" fill="#76675d" text-anchor="start" font-weight="normal">-100</text>
<text x="164.20" y="331.44" font-size="8.4" fill="#76675d" text-anchor="start" font-weight="normal">-200</text>
<text x="164.20" y="366.91" font-size="8.4" fill="#76675d" text-anchor="start" font-weight="normal">-300</text>
<line x1="206.80" y1="238.60" x2="206.80" y2="373.00" stroke="#8e8e8e" stroke-width="1.3" />
<line x1="203.60" y1="368.00" x2="206.80" y2="368.00" stroke="#8e8e8e" stroke-width="1" />
<text x="221.20" y="371.00" font-size="8.1" fill="#979797" text-anchor="end" font-weight="normal">0</text>
<line x1="203.60" y1="342.52" x2="206.80" y2="342.52" stroke="#8e8e8e" stroke-width="1" />
<text x="221.20" y="345.52" font-size="8.1" fill="#979797" text-anchor="end" font-weight="normal">20</text>
<line x1="203.60" y1="317.04" x2="206.80" y2="317.04" stroke="#8e8e8e" stroke-width="1" />
<text x="221.20" y="320.04" font-size="8.1" fill="#979797" text-anchor="end" font-weight="normal">40</text>
<line x1="203.60" y1="291.56" x2="206.80" y2="291.56" stroke="#8e8e8e" stroke-width="1" />
<text x="221.20" y="294.56" font-size="8.1" fill="#979797" text-anchor="end" font-weight="normal">60</text>
<line x1="203.60" y1="266.08" x2="206.80" y2="266.08" stroke="#8e8e8e" stroke-width="1" />
<text x="221.20" y="269.08" font-size="8.1" fill="#979797" text-anchor="end" font-weight="normal">80</text>
<line x1="203.60" y1="240.60" x2="206.80" y2="240.60" stroke="#8e8e8e" stroke-width="1" />
<text x="221.20" y="243.60" font-size="8.1" fill="#979797" text-anchor="end" font-weight="normal">100</text>
<line x1="204.80" y1="355.26" x2="206.80" y2="355.26" stroke="#8e8e8e" stroke-width="0.9" />
<line x1="204.80" y1="329.78" x2="206.80" y2="329.78" stroke="#8e8e8e" stroke-width="0.9" />
<line x1="204.80" y1="304.30" x2="206.80" y2="304.30" stroke="#8e8e8e" stroke-width="0.9" />
<line x1="204.80" y1="278.82" x2="206.80" y2="278.82" stroke="#8e8e8e" stroke-width="0.9" />
<line x1="204.80" y1="253.34" x2="206.80" y2="253.34" stroke="#8e8e8e" stroke-width="0.9" />
<text x="92.50" y="393.60" font-size="10.4" fill="#222" text-anchor="middle" font-weight="normal">Reaction time (min)</text>
<text x="8.00" y="306.10" font-size="10.7" fill="#c8782e" font-weight="normal" text-anchor="middle" textLength="118.50" lengthAdjust="spacingAndGlyphs" transform="rotate(-90 8.00 306.10)">Normalized [Cu-Cl] factor</text>
<text x="194.10" y="305.80" font-size="11.2" fill="#6c5e56" font-weight="normal" text-anchor="middle" textLength="106.60" lengthAdjust="spacingAndGlyphs" transform="rotate(-90 194.10 305.80)">Thermal Voltage (mV)</text>
<text x="235.30" y="306.75" font-size="11.2" fill="#9e9e9e" font-weight="normal" text-anchor="middle" textLength="130.10" lengthAdjust="spacingAndGlyphs" transform="rotate(-90 235.30 306.75)">Temperature difference (K)</text>
<text x="252.40" y="231.60" font-size="21" fill="#000" text-anchor="middle" font-weight="normal">e</text>
<path d="M303.90,346.20 C306.58,345.93 314.82,345.27 320.00,344.60 C325.18,343.93 331.02,343.03 335.00,342.20 C338.98,341.37 341.40,340.47 343.90,339.60 C346.40,338.73 347.67,338.10 350.00,337.00 C352.33,335.90 355.57,334.67 357.90,333.00 C360.23,331.33 361.95,329.05 364.00,327.00 C366.05,324.95 368.53,322.87 370.20,320.70 C371.87,318.53 372.83,316.48 374.00,314.00 C375.17,311.52 376.03,309.13 377.20,305.80 C378.37,302.47 379.70,297.97 381.00,294.00 C382.30,290.03 383.75,285.50 385.00,282.00 C386.25,278.50 387.42,275.10 388.50,273.00 C389.58,270.90 390.58,269.68 391.50,269.40 C392.42,269.12 393.28,270.03 394.00,271.30 C394.72,272.57 395.33,273.88 395.80,277.00 C396.27,280.12 396.53,284.83 396.80,290.00 C397.07,295.17 397.20,302.75 397.40,308.00 C397.60,313.25 397.65,318.63 398.00,321.50 C398.35,324.37 398.33,324.40 399.50,325.20 C400.67,326.00 399.12,326.17 405.00,326.30 C410.88,326.43 429.83,326.05 434.80,326.00" fill="none" stroke="#a39c96" stroke-width="1.2" stroke-linejoin="round" />
<path d="M434.80,327.20 C429.00,327.37 410.80,327.82 400.00,328.20 C389.20,328.58 376.67,328.95 370.00,329.50 C363.33,330.05 363.00,330.58 360.00,331.50 C357.00,332.42 354.33,333.50 352.00,335.00 C349.67,336.50 347.80,338.90 346.00,340.50 C344.20,342.10 343.02,342.63 341.20,344.60 C339.38,346.57 337.13,350.18 335.10,352.30 C333.07,354.42 331.18,356.85 329.00,357.30 C326.82,357.75 323.92,356.05 322.00,355.00 C320.08,353.95 319.50,352.17 317.50,351.00 C315.50,349.83 312.27,348.80 310.00,348.00 C307.73,347.20 304.92,346.50 303.90,346.20" fill="none" stroke="#a39c96" stroke-width="1.2" stroke-linejoin="round" />
<path d="M303.90,342.30 C304.42,341.67 305.45,339.47 307.00,338.50 C308.55,337.53 311.37,336.65 313.20,336.50 C315.03,336.35 316.40,337.13 318.00,337.60 C319.60,338.07 320.97,338.90 322.80,339.30 C324.63,339.70 326.97,339.92 329.00,340.00 C331.03,340.08 333.33,340.03 335.00,339.80 C336.67,339.57 337.67,339.18 339.00,338.60 C340.33,338.02 341.33,337.00 343.00,336.30 C344.67,335.60 347.00,334.95 349.00,334.40 C351.00,333.85 353.17,333.47 355.00,333.00 C356.83,332.53 358.33,332.10 360.00,331.60 C361.67,331.10 363.33,330.85 365.00,330.00 C366.67,329.15 368.50,328.17 370.00,326.50 C371.50,324.83 372.75,322.75 374.00,320.00 C375.25,317.25 376.33,313.25 377.50,310.00 C378.67,306.75 380.00,301.42 381.00,300.50 C382.00,299.58 382.67,302.25 383.50,304.50 C384.33,306.75 385.25,311.00 386.00,314.00 C386.75,317.00 387.33,320.45 388.00,322.50 C388.67,324.55 389.17,325.52 390.00,326.30 C390.83,327.08 391.33,327.03 393.00,327.20 C394.67,327.37 395.50,327.37 400.00,327.30 C404.50,327.23 414.20,326.95 420.00,326.80 C425.80,326.65 432.33,326.47 434.80,326.40" fill="none" stroke="#8462d6" stroke-width="1.2" stroke-linejoin="round" />
<path d="M434.80,327.60 C432.33,327.67 425.80,327.87 420.00,328.00 C414.20,328.13 406.67,328.23 400.00,328.40 C393.33,328.57 385.00,328.73 380.00,329.00 C375.00,329.27 373.33,329.70 370.00,330.00 C366.67,330.30 363.00,330.57 360.00,330.80 C357.00,331.03 354.33,331.07 352.00,331.40 C349.67,331.73 347.75,331.62 346.00,332.80 C344.25,333.98 342.92,336.47 341.50,338.50 C340.08,340.53 338.92,343.08 337.50,345.00 C336.08,346.92 334.58,348.80 333.00,350.00 C331.42,351.20 329.83,352.12 328.00,352.20 C326.17,352.28 324.17,351.57 322.00,350.50 C319.83,349.43 317.17,347.00 315.00,345.80 C312.83,344.60 310.85,343.88 309.00,343.30 C307.15,342.72 304.75,342.47 303.90,342.30" fill="none" stroke="#8462d6" stroke-width="1.2" stroke-linejoin="round" />
<path d="M303.90,345.80 C306.58,345.47 314.82,344.47 320.00,343.80 C325.18,343.13 330.83,342.52 335.00,341.80 C339.17,341.08 342.17,340.38 345.00,339.50 C347.83,338.62 349.85,337.67 352.00,336.50 C354.15,335.33 356.33,334.70 357.90,332.50 C359.47,330.30 360.38,326.72 361.40,323.30 C362.42,319.88 363.07,315.63 364.00,312.00 C364.93,308.37 366.00,304.50 367.00,301.50 C368.00,298.50 369.12,295.57 370.00,294.00 C370.88,292.43 371.47,292.10 372.30,292.10 C373.13,292.10 374.05,292.68 375.00,294.00 C375.95,295.32 377.00,297.67 378.00,300.00 C379.00,302.33 380.00,305.58 381.00,308.00 C382.00,310.42 383.00,312.87 384.00,314.50 C385.00,316.13 385.83,317.30 387.00,317.80 C388.17,318.30 389.67,318.13 391.00,317.50 C392.33,316.87 393.67,315.83 395.00,314.00 C396.33,312.17 397.67,309.08 399.00,306.50 C400.33,303.92 401.83,300.25 403.00,298.50 C404.17,296.75 405.00,296.12 406.00,296.00 C407.00,295.88 407.83,296.38 409.00,297.80 C410.17,299.22 411.50,301.88 413.00,304.50 C414.50,307.12 416.17,310.83 418.00,313.50 C419.83,316.17 422.00,318.75 424.00,320.50 C426.00,322.25 428.20,323.18 430.00,324.00 C431.80,324.82 434.00,325.17 434.80,325.40" fill="none" stroke="#f47274" stroke-width="1.2" stroke-linejoin="round" />
<path d="M434.80,328.00 C432.33,328.07 425.80,328.27 420.00,328.40 C414.20,328.53 406.67,328.67 400.00,328.80 C393.33,328.93 385.83,329.00 380.00,329.20 C374.17,329.40 368.68,329.67 365.00,330.00 C361.32,330.33 360.55,330.42 357.90,331.20 C355.25,331.98 351.73,333.08 349.10,334.70 C346.47,336.32 344.00,338.42 342.10,340.90 C340.20,343.38 339.05,346.83 337.70,349.60 C336.35,352.37 335.12,355.78 334.00,357.50 C332.88,359.22 332.08,359.85 331.00,359.90 C329.92,359.95 329.00,358.87 327.50,357.80 C326.00,356.73 323.67,354.72 322.00,353.50 C320.33,352.28 319.50,351.48 317.50,350.50 C315.50,349.52 312.27,348.38 310.00,347.60 C307.73,346.82 304.92,346.10 303.90,345.80" fill="none" stroke="#f47274" stroke-width="1.2" stroke-linejoin="round" />
<line x1="379.30" y1="300.00" x2="389.80" y2="263.00" stroke="#8462d6" stroke-width="0.7" stroke-dasharray="1.2 1"/>
<polygon points="390.5,260.5 388,264.5 391.2,264.8" fill="#7b55d4"/>
<line x1="392.50" y1="268.50" x2="393.60" y2="263.50" stroke="#a09a94" stroke-width="0.7" stroke-dasharray="1.2 1"/>
<polygon points="394,261.5 392.3,264.5 395,264.8" fill="#a09a94"/>
<line x1="372.50" y1="290.00" x2="370.60" y2="285.00" stroke="#f47274" stroke-width="0.7" stroke-dasharray="1.2 1"/>
<polygon points="369.9,283.2 369.4,286.3 371.9,285.3" fill="#f4686a"/>
<line x1="407.00" y1="293.50" x2="409.00" y2="285.50" stroke="#f47274" stroke-width="0.7" stroke-dasharray="1.2 1"/>
<polygon points="409.6,283.3 407.6,286.5 410.4,286.6" fill="#f4686a"/>
<text x="370.20" y="259.50" font-size="6.0" fill="#222" font-weight="bold" textLength="20.00" lengthAdjust="spacingAndGlyphs">Cu<tspan dy="-0.45em" font-size="65%">0</tspan><tspan dy="0.45em">-2e</tspan><tspan dy="-0.45em" font-size="65%">-</tspan></text>
<line x1="391.60" y1="257.40" x2="395.20" y2="257.40" stroke="#222" stroke-width="0.7" />
<polygon points="396.80,257.40 394.60,256.10 394.60,258.70" fill="#222"/>
<text x="398.60" y="259.50" font-size="6.0" fill="#222" font-weight="bold" textLength="11.50" lengthAdjust="spacingAndGlyphs">Cu<tspan dy="-0.45em" font-size="65%">2+</tspan></text>
<text x="321.00" y="281.80" font-size="5.9" fill="#f23a3a" font-weight="bold" textLength="30.60" lengthAdjust="spacingAndGlyphs">Cu<tspan dy="-0.45em" font-size="65%">0</tspan><tspan dy="0.45em">-e</tspan><tspan dy="-0.45em" font-size="65%">-</tspan><tspan dy="0.45em">+y Cl</tspan><tspan dy="-0.45em" font-size="65%">-</tspan></text>
<line x1="352.20" y1="279.70" x2="355.80" y2="279.70" stroke="#f23a3a" stroke-width="0.7" />
<polygon points="357.40,279.70 355.20,278.40 355.20,281.00" fill="#f23a3a"/>
<text x="358.80" y="281.80" font-size="5.9" fill="#f23a3a" font-weight="bold" textLength="20.20" lengthAdjust="spacingAndGlyphs">CuCl<tspan dy="0.3em" font-size="65%">y</tspan><tspan dy="-0.75em" font-size="65%">1-y</tspan></text>
<text x="396.20" y="280.40" font-size="5.9" fill="#f23a3a" font-weight="bold" textLength="26.20" lengthAdjust="spacingAndGlyphs">CuCl<tspan dy="0.3em" font-size="65%">y</tspan><tspan dy="-0.75em" font-size="65%">1-y</tspan><tspan dy="0.45em">-e</tspan><tspan dy="-0.45em" font-size="65%">-</tspan></text>
<line x1="424.20" y1="278.80" x2="428.10" y2="278.80" stroke="#f23a3a" stroke-width="0.7" />
<polygon points="429.70,278.80 427.50,277.50 427.50,280.10" fill="#f23a3a"/>
<text x="431.90" y="280.40" font-size="5.9" fill="#f23a3a" font-weight="bold" textLength="19.50" lengthAdjust="spacingAndGlyphs">CuCl<tspan dy="0.3em" font-size="65%">y</tspan><tspan dy="-0.75em" font-size="65%">2-y</tspan></text>
<line x1="288.60" y1="245.40" x2="303.70" y2="245.40" stroke="#a39c96" stroke-width="0.9" />
<text x="306.50" y="248.20" font-size="7.6" fill="#222" text-anchor="start" font-weight="normal">0.1 M CuSO<tspan dy="0.3em" font-size="70%">4</tspan></text>
<line x1="288.60" y1="256.30" x2="303.70" y2="256.30" stroke="#8462d6" stroke-width="0.9" />
<text x="306.50" y="259.10" font-size="7.6" fill="#222" text-anchor="start" font-weight="normal">0.1 M Cu(NO<tspan dy="0.3em" font-size="70%">3</tspan><tspan dy="-0.3em">)</tspan><tspan dy="0.3em" font-size="70%">2</tspan></text>
<line x1="288.60" y1="267.20" x2="303.70" y2="267.20" stroke="#f47274" stroke-width="0.9" />
<text x="306.50" y="270.00" font-size="7.6" fill="#222" text-anchor="start" font-weight="normal">0.1 M CuCl<tspan dy="0.3em" font-size="70%">2</tspan></text>
<rect x="285.40" y="239.30" width="167.10" height="135.50" fill="none" stroke="#222" stroke-width="1.3" />
<line x1="285.40" y1="238.60" x2="288.00" y2="238.60" stroke="#222" stroke-width="1" />
<line x1="285.40" y1="283.90" x2="288.00" y2="283.90" stroke="#222" stroke-width="1" />
<line x1="285.40" y1="329.20" x2="288.00" y2="329.20" stroke="#222" stroke-width="1" />
<line x1="285.40" y1="374.50" x2="288.00" y2="374.50" stroke="#222" stroke-width="1" />
<line x1="285.40" y1="261.25" x2="287.00" y2="261.25" stroke="#222" stroke-width="0.9" />
<line x1="285.40" y1="306.55" x2="287.00" y2="306.55" stroke="#222" stroke-width="0.9" />
<line x1="285.40" y1="351.85" x2="287.00" y2="351.85" stroke="#222" stroke-width="0.9" />
<text x="282.60" y="241.80" font-size="8.9" fill="#1a1a1a" text-anchor="end" font-weight="normal">0.10</text>
<text x="282.60" y="287.10" font-size="8.9" fill="#1a1a1a" text-anchor="end" font-weight="normal">0.05</text>
<text x="282.60" y="332.40" font-size="8.9" fill="#1a1a1a" text-anchor="end" font-weight="normal">0.00</text>
<text x="282.60" y="377.70" font-size="8.9" fill="#1a1a1a" text-anchor="end" font-weight="normal">-0.05</text>
<line x1="313.30" y1="374.80" x2="313.30" y2="372.20" stroke="#222" stroke-width="1" />
<line x1="360.00" y1="374.80" x2="360.00" y2="372.20" stroke="#222" stroke-width="1" />
<line x1="406.70" y1="374.80" x2="406.70" y2="372.20" stroke="#222" stroke-width="1" />
<line x1="453.40" y1="374.80" x2="453.40" y2="372.20" stroke="#222" stroke-width="1" />
<line x1="289.95" y1="374.80" x2="289.95" y2="373.20" stroke="#222" stroke-width="0.9" />
<line x1="336.65" y1="374.80" x2="336.65" y2="373.20" stroke="#222" stroke-width="0.9" />
<line x1="383.35" y1="374.80" x2="383.35" y2="373.20" stroke="#222" stroke-width="0.9" />
<line x1="430.05" y1="374.80" x2="430.05" y2="373.20" stroke="#222" stroke-width="0.9" />
<text x="313.30" y="384.60" font-size="8.9" fill="#1a1a1a" text-anchor="middle" font-weight="normal">-0.5</text>
<text x="360.00" y="384.60" font-size="8.9" fill="#1a1a1a" text-anchor="middle" font-weight="normal">0.0</text>
<text x="406.70" y="384.60" font-size="8.9" fill="#1a1a1a" text-anchor="middle" font-weight="normal">0.5</text>
<text x="453.40" y="384.60" font-size="8.9" fill="#1a1a1a" text-anchor="middle" font-weight="normal">1.0</text>
<text x="369.00" y="396.20" font-size="11.6" fill="#1a1a1a" text-anchor="middle" font-weight="normal">Potential vs. Ag/AgCl (V)</text>
<text x="257.90" y="306.90" font-size="11.8" fill="#1a1a1a" font-weight="normal" text-anchor="middle" textLength="57.20" lengthAdjust="spacingAndGlyphs" transform="rotate(-90 257.90 306.90)">Current (A)</text>
<text x="470.40" y="231.90" font-size="21" fill="#000" text-anchor="middle" font-weight="500">f</text>
<path d="M525.90,319.10 C525.95,317.75 525.85,313.18 526.20,311.00 C526.55,308.82 526.53,307.23 528.00,306.00 C529.47,304.77 529.67,304.12 535.00,303.60 C540.33,303.08 549.17,303.07 560.00,302.90 C570.83,302.73 590.00,302.72 600.00,302.60 C610.00,302.48 611.67,302.50 620.00,302.20 C628.33,301.90 642.50,301.37 650.00,300.80 C657.50,300.23 661.80,299.37 665.00,298.80 C668.20,298.23 668.40,296.70 669.20,297.40 C670.00,298.10 669.80,300.97 669.80,303.00 C669.80,305.03 670.00,308.33 669.20,309.60 C668.40,310.87 669.87,310.35 665.00,310.60 C660.13,310.85 650.83,310.97 640.00,311.10 C629.17,311.23 613.33,311.32 600.00,311.40 C586.67,311.48 570.00,311.28 560.00,311.60 C550.00,311.92 545.00,312.53 540.00,313.30 C535.00,314.07 532.35,315.23 530.00,316.20 C527.65,317.17 526.58,318.62 525.90,319.10" fill="none" stroke="#a39c96" stroke-width="1.2" stroke-linejoin="round" />
<path d="M525.90,315.00 C525.97,314.33 525.62,312.23 526.30,311.00 C526.98,309.77 527.72,308.50 530.00,307.60 C532.28,306.70 533.33,305.98 540.00,305.60 C546.67,305.22 560.00,305.38 570.00,305.30 C580.00,305.22 588.33,305.28 600.00,305.10 C611.67,304.92 630.00,304.72 640.00,304.20 C650.00,303.68 655.67,302.67 660.00,302.00 C664.33,301.33 664.47,300.77 666.00,300.20 C667.53,299.63 668.60,298.13 669.20,298.60 C669.80,299.07 669.60,301.63 669.60,303.00 C669.60,304.37 669.97,306.00 669.20,306.80 C668.43,307.60 669.87,307.50 665.00,307.80 C660.13,308.10 650.83,308.40 640.00,308.60 C629.17,308.80 613.33,308.90 600.00,309.00 C586.67,309.10 570.00,308.90 560.00,309.20 C550.00,309.50 545.00,310.17 540.00,310.80 C535.00,311.43 532.35,312.30 530.00,313.00 C527.65,313.70 526.58,314.67 525.90,315.00" fill="none" stroke="#8462d6" stroke-width="1.2" stroke-linejoin="round" />
<path d="M525.90,356.70 C525.97,353.92 526.12,345.78 526.30,340.00 C526.48,334.22 526.55,327.00 527.00,322.00 C527.45,317.00 528.00,312.92 529.00,310.00 C530.00,307.08 530.63,305.80 533.00,304.50 C535.37,303.20 538.70,302.87 543.20,302.20 C547.70,301.53 555.30,300.97 560.00,300.50 C564.70,300.03 567.40,299.93 571.40,299.40 C575.40,298.87 580.77,298.08 584.00,297.30 C587.23,296.52 588.50,296.60 590.80,294.70 C593.10,292.80 595.58,289.07 597.80,285.90 C600.02,282.73 602.05,278.15 604.10,275.70 C606.15,273.25 608.05,271.72 610.10,271.20 C612.15,270.68 613.77,271.62 616.40,272.60 C619.03,273.58 622.27,276.10 625.90,277.10 C629.53,278.10 634.10,278.83 638.20,278.60 C642.30,278.37 646.98,277.12 650.50,275.70 C654.02,274.28 656.83,271.90 659.30,270.10 C661.77,268.30 663.78,266.65 665.30,264.90 C666.82,263.15 667.78,261.42 668.40,259.60 C669.02,257.78 668.90,254.93 669.00,254.00" fill="none" stroke="#f47274" stroke-width="1.2" stroke-linejoin="round" />
<path d="M669.00,254.00 C668.87,257.20 668.65,267.03 668.20,273.20 C667.75,279.37 667.12,286.37 666.30,291.00 C665.48,295.63 664.62,298.23 663.30,301.00 C661.98,303.77 660.78,305.83 658.40,307.60 C656.02,309.37 653.40,310.45 649.00,311.60 C644.60,312.75 637.97,313.57 632.00,314.50 C626.03,315.43 617.90,316.32 613.20,317.20 C608.50,318.08 606.37,318.25 603.80,319.80 C601.23,321.35 599.77,323.88 597.80,326.50 C595.83,329.12 593.88,333.33 592.00,335.50 C590.12,337.67 588.33,338.82 586.50,339.50 C584.67,340.18 582.92,339.93 581.00,339.60 C579.08,339.27 576.92,338.37 575.00,337.50 C573.08,336.63 572.30,335.25 569.50,334.40 C566.70,333.55 561.95,332.28 558.20,332.40 C554.45,332.52 550.43,333.70 547.00,335.10 C543.57,336.50 540.43,338.32 537.60,340.80 C534.77,343.28 531.95,347.35 530.00,350.00 C528.05,352.65 526.58,355.58 525.90,356.70" fill="none" stroke="#f47274" stroke-width="1.2" stroke-linejoin="round" />
<rect x="513.90" y="239.40" width="167.10" height="134.60" fill="none" stroke="#222" stroke-width="1.3" />
<line x1="516.50" y1="245.50" x2="530.70" y2="245.50" stroke="#a39c96" stroke-width="0.9" />
<text x="534.00" y="248.00" font-size="6.6" fill="#222" text-anchor="start" font-weight="normal">PVA-0.1 M CuSO<tspan dy="0.3em" font-size="70%">4</tspan></text>
<line x1="516.50" y1="256.40" x2="530.70" y2="256.40" stroke="#8462d6" stroke-width="0.9" />
<text x="534.00" y="258.90" font-size="6.6" fill="#222" text-anchor="start" font-weight="normal">PVA-0.1 M Cu(NO<tspan dy="0.3em" font-size="70%">3</tspan><tspan dy="-0.3em">)</tspan><tspan dy="0.3em" font-size="70%">2</tspan></text>
<line x1="516.50" y1="266.80" x2="530.70" y2="266.80" stroke="#f47274" stroke-width="0.9" />
<text x="534.00" y="269.30" font-size="6.6" fill="#222" text-anchor="start" font-weight="normal">PVA-0.1 M CuCl<tspan dy="0.3em" font-size="70%">2</tspan></text>
<line x1="513.90" y1="239.50" x2="516.50" y2="239.50" stroke="#222" stroke-width="1" />
<text x="510.30" y="242.70" font-size="8.9" fill="#1a1a1a" text-anchor="end" font-weight="normal">0.02</text>
<line x1="513.90" y1="273.00" x2="516.50" y2="273.00" stroke="#222" stroke-width="1" />
<text x="510.30" y="276.20" font-size="8.9" fill="#1a1a1a" text-anchor="end" font-weight="normal">0.01</text>
<line x1="513.90" y1="306.50" x2="516.50" y2="306.50" stroke="#222" stroke-width="1" />
<text x="510.30" y="309.70" font-size="8.9" fill="#1a1a1a" text-anchor="end" font-weight="normal">0.00</text>
<line x1="513.90" y1="340.00" x2="516.50" y2="340.00" stroke="#222" stroke-width="1" />
<text x="510.30" y="343.20" font-size="8.9" fill="#1a1a1a" text-anchor="end" font-weight="normal">-0.01</text>
<line x1="513.90" y1="373.50" x2="516.50" y2="373.50" stroke="#222" stroke-width="1" />
<text x="510.30" y="376.70" font-size="8.9" fill="#1a1a1a" text-anchor="end" font-weight="normal">-0.02</text>
<line x1="513.90" y1="256.25" x2="515.50" y2="256.25" stroke="#222" stroke-width="0.9" />
<line x1="513.90" y1="289.75" x2="515.50" y2="289.75" stroke="#222" stroke-width="0.9" />
<line x1="513.90" y1="323.25" x2="515.50" y2="323.25" stroke="#222" stroke-width="0.9" />
<line x1="513.90" y1="356.75" x2="515.50" y2="356.75" stroke="#222" stroke-width="0.9" />
<line x1="525.80" y1="374.00" x2="525.80" y2="371.40" stroke="#222" stroke-width="1" />
<text x="525.80" y="384.40" font-size="8.9" fill="#1a1a1a" text-anchor="middle" font-weight="normal">-0.6</text>
<line x1="549.50" y1="374.00" x2="549.50" y2="371.40" stroke="#222" stroke-width="1" />
<text x="549.50" y="384.40" font-size="8.9" fill="#1a1a1a" text-anchor="middle" font-weight="normal">-0.4</text>
<line x1="573.20" y1="374.00" x2="573.20" y2="371.40" stroke="#222" stroke-width="1" />
<text x="573.20" y="384.40" font-size="8.9" fill="#1a1a1a" text-anchor="middle" font-weight="normal">-0.2</text>
<line x1="596.90" y1="374.00" x2="596.90" y2="371.40" stroke="#222" stroke-width="1" />
<text x="596.90" y="384.40" font-size="8.9" fill="#1a1a1a" text-anchor="middle" font-weight="normal">0.0</text>
<line x1="620.60" y1="374.00" x2="620.60" y2="371.40" stroke="#222" stroke-width="1" />
<text x="620.60" y="384.40" font-size="8.9" fill="#1a1a1a" text-anchor="middle" font-weight="normal">0.2</text>
<line x1="644.30" y1="374.00" x2="644.30" y2="371.40" stroke="#222" stroke-width="1" />
<text x="644.30" y="384.40" font-size="8.9" fill="#1a1a1a" text-anchor="middle" font-weight="normal">0.4</text>
<line x1="668.00" y1="374.00" x2="668.00" y2="371.40" stroke="#222" stroke-width="1" />
<text x="668.00" y="384.40" font-size="8.9" fill="#1a1a1a" text-anchor="middle" font-weight="normal">0.6</text>
<line x1="537.65" y1="374.00" x2="537.65" y2="372.40" stroke="#222" stroke-width="0.9" />
<line x1="561.35" y1="374.00" x2="561.35" y2="372.40" stroke="#222" stroke-width="0.9" />
<line x1="585.05" y1="374.00" x2="585.05" y2="372.40" stroke="#222" stroke-width="0.9" />
<line x1="608.75" y1="374.00" x2="608.75" y2="372.40" stroke="#222" stroke-width="0.9" />
<line x1="632.45" y1="374.00" x2="632.45" y2="372.40" stroke="#222" stroke-width="0.9" />
<line x1="656.15" y1="374.00" x2="656.15" y2="372.40" stroke="#222" stroke-width="0.9" />
<text x="597.50" y="395.50" font-size="11.45" fill="#1a1a1a" text-anchor="middle" font-weight="normal">Potential vs. carbon paper (V)</text>
<text x="487.90" y="307.20" font-size="11.6" fill="#1a1a1a" font-weight="normal" text-anchor="middle" textLength="117.10" lengthAdjust="spacingAndGlyphs" transform="rotate(-90 487.90 307.20)">Current density (A m<tspan dy="-0.4em" font-size="70%">−2</tspan><tspan dy="0.4em">)</tspan></text>
</svg></body></html>
